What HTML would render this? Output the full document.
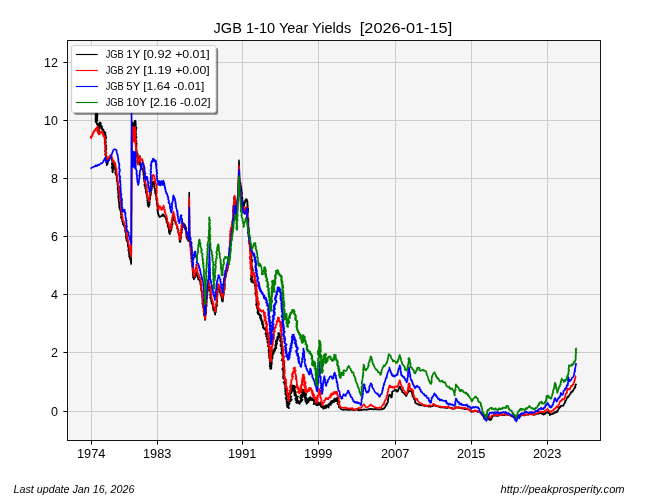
<!DOCTYPE html>
<html><head><meta charset="utf-8"><title>JGB 1-10 Year Yields</title>
<style>
html,body{margin:0;padding:0;background:#fff;}
body{width:666px;height:500px;overflow:hidden;font-family:"Liberation Sans",sans-serif;}
svg{display:block;will-change:transform;}
text{font-family:"Liberation Sans",sans-serif;fill:#000;}
.tk{font-size:12px;}
.lg{font-size:10.7px;}
.ft{font-size:10px;font-style:italic;}
.ln{fill:none;stroke-width:1.6;stroke-linejoin:round;stroke-linecap:butt;}
</style></head><body>
<svg width="666" height="500" viewBox="0 0 666 500">
<rect x="0" y="0" width="666" height="500" fill="#ffffff"/>
<rect x="67.5" y="40.5" width="533.0" height="400.0" fill="#f5f5f5"/>
<path d="M91.5 40.5V440.5M157.5 40.5V440.5M242.5 40.5V440.5M318.5 40.5V440.5M395.5 40.5V440.5M471.5 40.5V440.5M547.5 40.5V440.5M67.5 411.50H600.5M67.5 352.50H600.5M67.5 294.50H600.5M67.5 236.50H600.5M67.5 178.50H600.5M67.5 120.50H600.5M67.5 62.50H600.5" stroke="#cdcdcd" stroke-width="1" fill="none"/>
<clipPath id="c"><rect x="67.5" y="40.5" width="533.0" height="400.0"/></clipPath>
<g clip-path="url(#c)">
<path class="ln" d="M95.4,98.0 95.8,98.1 96.2,98.2 96.6,98.4 97.0,98.5 97.4,98.6 96.9,98.8 96.5,98.9 96.0,99.1 95.6,99.2 96.0,99.4 96.4,99.5 96.9,99.7 97.3,99.9 96.9,100.0 96.4,100.2 96.0,100.3 95.5,100.5 95.9,100.6 96.3,100.7 96.7,100.9 97.1,101.0 97.4,101.1 97.0,101.2 96.6,101.3 96.2,101.5 95.7,101.6 95.3,101.7 95.8,101.8 96.2,102.0 96.6,102.1 97.1,102.2 97.5,102.3 97.1,102.5 96.6,102.6 96.2,102.7 95.8,102.8 95.3,103.0 95.7,103.1 96.2,103.2 96.6,103.3 97.0,103.5 97.5,103.6 97.0,103.7 96.6,103.8 96.2,104.0 95.8,104.1 95.3,104.2 95.7,104.3 96.1,104.4 96.5,104.6 96.9,104.7 97.3,104.8 96.9,105.0 96.4,105.1 95.9,105.3 95.5,105.4 95.9,105.6 96.3,105.7 96.8,105.8 97.2,105.9 97.6,106.1 97.2,106.2 96.7,106.3 96.3,106.4 95.8,106.6 95.3,106.7 95.8,106.8 96.2,106.9 96.6,107.1 97.0,107.2 97.4,107.3 96.9,107.5 96.5,107.6 96.0,107.8 95.6,107.9 96.0,108.0 96.4,108.2 96.8,108.3 97.3,108.4 97.7,108.5 97.2,108.7 96.8,108.8 96.4,108.9 96.0,109.0 95.5,109.2 95.9,109.3 96.3,109.4 96.7,109.5 97.1,109.7 97.5,109.8 97.0,109.9 96.6,110.1 96.1,110.2 95.7,110.4 96.1,110.6 96.5,110.7 96.9,110.9 97.3,111.0 96.9,111.2 96.5,111.3 96.1,111.5 95.6,111.6 96.1,111.8 96.5,112.0 97.0,112.1 97.4,112.3 97.0,112.4 96.6,112.5 96.2,112.6 95.8,112.8 95.4,112.9 95.8,113.0 96.2,113.1 96.6,113.3 96.9,113.4 97.3,113.5 97.0,113.6 96.6,113.7 96.2,113.9 95.8,114.0 95.4,114.1 95.9,114.2 96.3,114.4 96.7,114.5 97.2,114.6 97.6,114.7 97.2,114.9 96.7,115.0 96.3,115.1 95.8,115.2 95.4,115.4 95.8,115.5 96.2,115.6 96.7,115.7 97.1,115.9 97.5,116.0 97.1,116.1 96.7,116.2 96.3,116.4 96.0,116.5 95.6,116.6 96.0,116.8 96.5,116.9 97.0,117.1 97.4,117.2 97.1,117.3 96.7,117.5 96.3,117.6 95.9,117.7 95.5,117.8 96.0,118.0 96.4,118.2 96.9,118.3 97.3,118.5 96.9,118.6 96.5,118.7 96.1,118.8 95.7,119.0 95.3,119.1 95.7,119.2 96.1,119.3 96.6,119.5 97.0,119.6 97.4,119.7 96.9,119.9 96.5,120.0 96.0,120.2 95.6,120.3 96.0,120.5 96.5,120.6 97.0,120.8 97.5,120.9 97.1,121.1 96.7,121.2 96.2,121.3 95.8,121.4 95.4,121.6 95.8,121.8 95.9,122.4 96.4,122.4 96.5,123.1 97.1,123.0 96.8,123.1 97.9,123.4 97.0,123.9 97.9,124.2 97.0,124.7 98.1,125.0 97.6,125.5 98.7,125.7 98.0,126.2 98.4,126.6 97.8,127.0 98.4,127.4 97.5,127.8 98.4,128.2 97.9,128.6 99.3,128.9 98.6,129.4 99.0,129.8 97.9,130.2 98.5,130.6 98.5,131.0 99.6,131.3 98.6,131.8 99.4,132.1 98.4,132.6 98.1,133.0 99.4,132.7 98.2,132.1 98.8,131.8 98.2,131.3 98.8,131.0 98.3,130.5 98.9,130.2 98.1,129.7 98.7,129.4 98.1,128.9 98.9,128.6 98.2,128.1 99.2,127.8 98.6,127.3 99.5,127.1 98.6,126.5 99.8,126.3 99.2,125.7 100.1,125.4 99.2,124.9 99.8,124.5 99.4,124.0 100.1,123.7 100.0,123.3 100.9,123.0 99.9,122.4 99.7,122.9 100.9,123.0 100.2,123.6 100.9,123.9 100.0,124.5 100.7,124.8 99.8,125.4 100.9,125.6 100.7,126.2 102.0,126.2 101.5,126.8 102.1,127.1 101.0,127.8 101.9,128.0 101.3,128.9 102.5,128.6 102.1,129.4 103.2,129.2 102.7,130.0 103.6,129.8 103.0,130.7 103.8,130.7 103.2,131.6 104.1,131.5 103.5,132.5 104.8,132.0 104.5,132.8 105.6,132.5 104.7,133.3 105.1,133.6 104.3,134.2 105.5,134.4 104.9,134.9 105.6,135.2 105.2,135.5 105.9,136.0 105.4,136.4 106.0,136.8 105.4,137.2 106.4,137.7 105.3,138.0 106.1,138.5 105.1,138.8 105.5,139.2 104.5,139.5 105.6,140.0 104.8,140.4 105.6,140.9 104.6,141.1 105.4,141.6 104.9,142.0 106.2,142.3 105.0,142.8 105.5,143.2 104.7,143.6 105.6,144.0 105.0,144.4 105.7,144.8 105.3,145.2 106.3,145.5 105.7,146.0 106.3,146.3 105.4,146.8 105.7,147.2 105.1,147.6 106.2,147.9 105.7,148.4 106.3,148.7 105.4,149.2 106.4,149.5 105.2,150.0 105.9,150.4 105.2,150.8 105.6,151.2 104.9,151.6 105.8,152.0 105.4,152.4 106.1,152.8 105.4,153.2 106.5,153.6 105.4,154.0 105.6,154.4 105.0,154.8 106.3,155.2 105.7,155.6 106.5,156.0 106.2,156.4 106.8,156.8 105.9,157.2 106.4,157.6 105.6,158.0 106.5,158.4 105.9,158.8 106.6,159.2 106.2,159.6 106.5,160.0 106.2,160.4 106.4,160.8 106.3,161.2 106.3,161.6 106.3,162.0 106.4,162.4 106.5,162.8 106.5,163.2 106.7,163.6 106.8,164.0 106.8,164.4 106.8,164.8 106.6,165.2 107.0,164.8 107.3,164.4 107.4,164.0 107.8,163.6 107.5,163.0 107.7,162.6 108.0,162.2 107.9,161.7 108.1,161.3 107.9,160.7 108.0,160.3 108.5,160.0 108.1,159.3 108.8,159.2 108.9,158.7 108.9,158.2 109.5,157.9 109.6,157.5 110.3,157.3 109.8,156.6 110.5,156.4 110.5,155.9 110.6,155.4 110.8,155.0 111.0,155.4 111.3,155.8 111.2,156.3 111.2,156.7 111.2,157.2 111.7,157.5 111.6,158.0 111.5,158.4 111.7,158.8 111.9,159.2 111.9,159.6 111.8,160.0 112.2,160.4 112.4,160.7 112.7,161.1 112.1,161.6 112.4,162.0 112.4,162.4 112.5,162.8 111.8,163.2 111.8,163.6 112.2,164.0 111.9,164.4 112.2,164.8 112.2,165.2 112.2,165.6 112.1,166.0 112.3,166.4 112.0,166.8 112.2,167.2 111.6,167.6 111.7,168.0 112.2,168.4 112.7,168.8 112.3,169.2 112.8,169.6 112.6,170.0 112.8,170.4 112.4,170.8 112.3,171.2 112.3,171.6 112.5,172.0 112.6,172.4 112.8,172.0 112.4,171.6 112.8,171.2 112.8,170.8 113.2,170.4 112.9,170.0 112.9,169.6 113.1,169.2 113.0,168.8 113.3,168.4 113.3,168.0 113.2,167.6 113.4,167.2 113.3,166.8 113.4,166.4 113.7,166.0 113.4,165.6 113.5,165.2 114.1,164.9 113.4,164.3 113.8,164.0 114.1,163.7 114.4,163.4 114.5,163.0 114.7,163.4 114.1,163.9 114.1,164.3 114.4,164.7 114.4,165.1 114.4,165.5 115.0,165.9 114.9,166.3 115.0,166.7 114.8,167.2 114.8,167.6 115.0,168.0 114.9,168.4 115.1,168.8 114.9,169.2 115.2,169.6 115.2,170.0 115.4,170.4 115.5,170.8 115.5,171.2 115.5,171.6 115.9,172.0 115.1,172.4 115.2,172.8 115.2,173.2 115.5,173.6 115.6,174.0 115.7,174.4 116.0,174.8 116.6,175.0 116.3,175.6 116.5,176.0 116.6,176.4 116.9,176.8 116.8,177.2 116.6,177.6 117.1,178.0 116.7,178.4 117.1,178.8 117.3,179.2 117.1,179.6 116.7,180.0 117.1,180.4 116.7,180.8 116.8,181.2 117.4,181.6 117.2,182.0 117.8,182.3 117.8,182.8 117.5,183.2 117.4,183.6 117.4,184.0 117.3,184.4 117.8,184.8 117.8,185.2 117.9,185.6 117.6,186.0 117.9,186.4 117.7,186.8 118.0,187.2 117.8,187.6 117.7,188.0 117.5,188.4 117.6,188.8 117.8,189.2 118.2,189.6 118.0,190.0 117.9,190.4 118.0,190.8 118.3,191.2 118.8,191.6 118.1,192.1 118.6,192.4 118.0,192.9 118.2,193.3 119.1,193.6 118.7,194.1 118.4,194.5 118.2,194.9 118.5,195.3 118.6,195.7 118.7,196.1 118.0,196.6 118.6,197.0 118.3,197.4 118.8,197.8 118.6,198.2 118.4,198.6 118.8,199.0 119.0,199.4 118.5,199.9 118.8,200.2 118.6,200.7 118.8,201.1 119.3,201.5 118.8,201.9 119.1,202.3 119.4,202.7 119.4,203.1 119.0,203.6 119.0,204.0 119.2,204.4 119.4,204.8 119.4,205.2 119.4,205.6 119.0,206.0 119.6,206.4 119.1,206.9 119.3,207.3 120.0,207.6 119.4,208.1 119.5,208.5 119.8,208.8 119.7,209.4 120.4,209.5 120.3,210.0 120.7,210.4 120.8,210.7 120.4,211.2 120.8,211.6 121.0,211.9 120.9,212.4 121.1,212.8 121.2,213.1 121.3,213.5 120.8,214.0 121.3,214.4 120.9,214.8 121.5,215.1 121.4,215.6 121.2,216.0 121.1,216.4 121.3,216.8 121.2,217.3 120.9,217.7 121.2,218.1 121.4,218.5 121.7,218.8 121.8,219.2 121.9,219.6 122.3,219.9 122.2,220.4 122.6,220.7 122.0,221.3 122.5,221.6 122.5,222.0 122.6,222.5 122.6,222.9 122.9,223.3 123.2,223.7 122.8,224.3 123.6,224.5 123.6,225.0 123.6,225.4 123.8,225.8 124.1,226.1 124.1,226.5 124.3,226.9 125.0,227.1 124.8,227.6 124.8,228.0 125.2,228.4 125.0,228.8 125.3,229.1 125.7,229.5 125.6,229.9 125.5,230.4 124.8,230.9 125.4,231.2 125.8,231.5 125.4,232.0 125.4,232.4 125.9,232.7 126.2,233.1 126.2,233.5 126.1,233.9 125.8,234.4 126.0,234.8 126.0,235.2 126.1,235.6 126.0,236.0 125.8,236.5 125.6,236.9 125.8,237.3 126.2,237.7 126.2,238.1 126.2,238.5 126.3,238.9 126.4,239.3 126.8,239.6 126.8,240.1 126.5,240.5 127.4,240.8 127.3,241.2 127.4,241.6 127.2,242.1 127.7,242.4 127.8,242.8 127.9,243.2 128.0,243.6 128.1,244.0 127.8,244.5 127.8,244.9 127.9,245.3 127.8,245.7 128.5,246.1 128.5,246.5 128.1,246.9 128.2,247.3 128.6,247.7 128.5,248.1 129.0,248.4 128.7,248.9 128.3,249.4 128.4,249.8 128.3,250.2 128.3,250.6 129.0,250.9 129.2,251.3 129.2,251.7 129.0,252.2 128.9,252.6 128.7,253.0 128.9,253.4 129.1,253.8 129.2,254.2 129.5,254.6 129.3,255.0 129.2,255.5 129.6,255.8 129.0,256.4 129.6,256.7 129.4,257.2 129.8,257.5 129.9,257.9 130.0,258.3 130.1,258.7 130.0,259.2 130.2,259.6 130.4,260.0 131.0,260.3 130.9,260.7 130.7,261.2 130.7,261.6 130.8,262.0 130.9,262.4 130.9,262.8 131.1,263.2 131.1,263.6 131.2,264.0 131.2,263.6 131.2,263.2 131.2,262.8 131.2,262.4 131.2,262.0 131.2,261.6 131.2,261.2 131.2,260.8 131.2,260.4 131.2,260.0 131.2,259.6 131.2,259.2 131.2,258.8 131.2,258.4 131.2,258.0 131.2,257.6 131.2,257.2 131.2,256.8 131.2,256.4 131.2,256.0 131.2,255.6 131.2,255.2 131.2,254.8 131.2,254.4 131.2,254.0 131.2,253.6 131.3,253.2 131.3,252.8 131.3,252.4 131.3,252.0 131.3,251.6 131.3,251.2 131.3,250.8 131.3,250.4 131.3,250.0 131.3,249.6 131.3,249.2 131.3,248.8 131.3,248.4 131.3,248.0 131.3,247.6 131.3,247.2 131.3,246.8 131.3,246.4 131.3,246.0 131.3,245.6 131.3,245.2 131.3,244.8 131.3,244.4 131.3,244.0 131.3,243.6 131.3,243.2 131.3,242.8 131.3,242.4 131.3,242.0 131.3,241.6 131.3,241.2 131.3,240.8 131.3,240.4 131.3,240.0 131.3,239.6 131.3,239.2 131.3,238.8 131.3,238.4 131.3,238.0 131.3,237.6 131.3,237.2 131.3,236.8 131.3,236.4 131.3,236.0 131.3,235.6 131.3,235.2 131.3,234.8 131.3,234.4 131.3,234.0 131.3,233.6 131.3,233.2 131.3,232.8 131.3,232.4 131.3,232.0 131.4,231.6 131.4,231.2 131.4,230.8 131.4,230.4 131.4,230.0 131.4,229.6 131.4,229.2 131.4,228.8 131.4,228.4 131.4,228.0 131.4,227.6 131.4,227.2 131.4,226.8 131.4,226.4 131.4,226.0 131.4,225.6 131.4,225.2 131.4,224.8 131.4,224.4 131.4,224.0 131.4,223.6 131.4,223.2 131.4,222.8 131.4,222.4 131.4,222.0 131.4,221.6 131.4,221.2 131.4,220.8 131.4,220.4 131.4,220.0 131.4,219.6 131.4,219.2 131.4,218.8 131.4,218.4 131.4,218.0 131.4,217.6 131.4,217.2 131.4,216.8 131.4,216.4 131.4,216.0 131.4,215.6 131.4,215.2 131.4,214.8 131.4,214.4 131.4,214.0 131.4,213.6 131.4,213.2 131.4,212.8 131.4,212.4 131.4,212.0 131.4,211.6 131.4,211.2 131.4,210.8 131.5,210.4 131.5,210.0 131.5,209.6 131.5,209.2 131.5,208.8 131.5,208.4 131.5,208.0 131.5,207.6 131.5,207.2 131.5,206.8 131.5,206.4 131.5,206.0 131.5,205.6 131.5,205.2 131.5,204.8 131.5,204.4 131.5,204.0 131.5,203.6 131.5,203.2 131.5,202.8 131.5,202.4 131.5,202.0 131.5,201.6 131.5,201.2 131.5,200.8 131.5,200.4 131.5,200.0 131.5,199.6 131.5,199.2 131.5,198.8 131.5,198.4 131.5,198.0 131.5,197.6 131.5,197.2 131.5,196.8 131.5,196.4 131.5,196.0 131.5,195.6 131.5,195.2 131.5,194.8 131.5,194.4 131.5,194.0 131.5,193.6 131.5,193.2 131.5,192.8 131.5,192.4 131.5,192.0 131.5,191.6 131.5,191.2 131.5,190.8 131.5,190.4 131.5,190.0 131.5,189.6 131.5,189.2 131.5,188.8 131.5,188.4 131.6,188.0 131.6,187.6 131.6,187.2 131.6,186.8 131.6,186.4 131.6,186.0 131.6,185.6 131.6,185.2 131.6,184.8 131.6,184.4 131.6,184.0 131.6,183.6 131.6,183.2 131.6,182.8 131.6,182.4 131.6,182.0 131.6,181.6 131.6,181.2 131.6,180.8 131.6,180.4 131.6,180.0 131.6,179.6 131.6,179.2 131.6,178.8 131.6,178.4 131.6,178.0 131.6,177.6 131.6,177.2 131.6,176.8 131.6,176.4 131.6,176.0 131.6,175.6 131.6,175.2 131.6,174.8 131.6,174.4 131.6,174.0 131.6,173.6 131.6,173.2 131.6,172.8 131.6,172.4 131.6,172.0 131.6,171.6 131.6,171.2 131.6,170.8 131.6,170.4 131.6,170.0 131.6,169.6 131.6,169.2 131.6,168.8 131.6,168.4 131.6,168.0 131.6,167.6 131.6,167.2 131.6,166.8 131.6,166.4 131.6,166.0 131.6,165.6 131.6,165.2 131.7,164.8 131.7,164.4 131.7,164.0 131.7,163.6 131.7,163.2 131.7,162.8 131.7,162.4 131.7,162.0 131.7,161.6 131.7,161.2 131.7,160.8 131.7,160.4 131.7,160.0 131.7,159.6 131.7,159.2 131.7,158.8 131.7,158.4 131.7,158.0 131.7,157.6 131.7,157.2 131.7,156.8 131.7,156.4 131.7,156.0 131.7,155.6 131.7,155.2 131.7,154.8 131.7,154.4 131.7,154.0 131.7,153.6 131.7,153.2 131.7,152.8 131.7,152.4 131.7,152.0 131.7,151.6 131.7,151.2 131.7,150.8 131.7,150.4 131.7,150.0 131.7,149.6 131.7,149.2 131.7,148.8 131.7,148.4 131.7,148.0 131.7,147.6 131.7,147.2 131.7,146.8 131.7,146.4 131.7,146.0 131.7,145.6 131.7,145.2 131.7,144.8 131.7,144.4 131.7,144.0 131.7,143.6 131.7,143.2 131.7,142.8 131.7,142.4 131.7,142.0 131.8,141.6 131.8,141.2 131.8,140.8 131.8,140.4 131.8,140.0 131.8,139.6 131.8,139.2 131.8,138.8 131.8,138.4 131.8,138.0 131.8,137.6 131.8,137.2 131.8,136.8 131.8,136.4 131.8,136.0 131.8,135.6 131.8,135.2 131.8,134.8 131.8,134.4 131.8,134.0 131.8,133.6 131.8,133.2 131.8,132.8 131.8,132.4 131.8,132.0 131.8,131.6 131.8,131.2 131.8,130.8 131.8,130.4 131.8,130.0 131.8,129.6 131.8,129.2 131.9,128.8 131.8,128.4 132.0,128.0 131.9,127.6 132.1,127.2 132.0,126.8 132.1,126.4 132.2,126.0 131.9,125.6 132.0,125.2 132.2,124.8 132.2,124.4 132.1,124.0 132.3,123.6 132.3,123.2 132.9,122.8 132.4,122.4 132.2,122.9 132.3,123.3 133.2,123.6 132.8,124.1 133.2,124.5 133.0,125.0 132.8,125.5 132.8,125.9 133.2,126.2 133.0,126.7 133.4,127.0 133.5,127.4 133.6,127.8 133.8,127.4 133.2,126.8 133.9,126.5 133.6,126.0 133.5,125.6 133.9,125.2 133.6,124.7 134.3,124.4 134.0,123.9 134.4,123.5 134.3,123.0 134.8,122.7 134.6,122.2 134.5,121.8 135.0,121.5 134.6,120.9 135.1,120.6 135.2,121.0 135.8,121.4 135.6,121.8 135.3,122.3 135.7,122.7 135.7,123.1 135.9,123.5 135.6,124.0 135.9,124.4 135.9,124.8 135.8,125.2 135.4,125.6 135.6,126.0 135.7,126.4 135.6,126.8 136.5,127.2 136.4,127.6 136.1,128.0 136.5,128.4 136.3,128.8 135.7,129.2 136.0,129.6 135.9,130.0 136.1,130.4 135.7,130.8 135.6,131.2 136.0,131.6 135.9,132.0 135.8,132.4 135.9,132.8 136.1,133.2 135.5,133.6 136.0,134.0 136.1,134.4 136.2,134.8 135.8,135.2 135.6,135.6 135.6,136.0 136.0,136.4 136.3,136.8 136.7,137.2 136.0,137.6 135.9,138.0 136.0,138.4 135.7,138.8 135.8,139.2 135.6,139.6 135.9,140.0 136.3,140.4 135.8,140.8 136.5,141.2 136.0,141.6 136.1,142.0 136.2,142.4 136.5,142.8 136.7,143.2 136.1,143.6 136.7,144.0 136.3,144.5 136.0,144.9 136.6,145.3 136.5,145.7 136.1,146.1 136.3,146.5 136.4,146.9 136.3,147.3 136.6,147.7 136.3,148.2 136.4,148.6 136.6,149.0 136.0,149.4 136.4,149.8 136.3,150.3 136.3,150.7 136.9,151.0 136.4,151.6 136.6,152.0 137.0,152.3 136.9,152.8 137.3,153.1 137.5,153.5 137.3,154.0 137.8,154.3 137.8,154.7 138.0,155.1 137.7,155.6 137.4,156.2 137.6,156.6 137.7,157.0 138.0,157.3 138.7,157.5 138.6,158.0 138.6,158.4 138.7,158.8 138.5,159.3 138.9,159.6 139.3,160.0 139.1,160.4 139.0,160.9 139.6,161.1 139.2,161.7 140.0,161.9 140.0,162.3 140.2,162.7 139.8,163.2 139.6,163.7 139.8,164.1 140.2,164.4 140.3,164.8 140.2,165.4 140.9,165.5 141.1,165.8 140.6,166.6 141.0,166.9 141.6,167.0 141.3,167.5 141.6,167.9 141.6,168.3 142.1,168.5 142.0,169.0 142.2,169.4 142.4,169.7 143.0,169.9 142.9,170.4 143.0,170.8 143.0,171.2 143.2,171.6 143.3,172.0 143.2,172.4 143.8,172.7 143.3,173.2 143.9,173.5 143.9,173.9 143.9,174.4 143.2,174.9 143.7,175.2 144.0,175.6 143.8,176.0 144.3,176.4 144.4,176.8 143.9,177.2 143.7,177.7 143.6,178.1 143.6,178.5 144.3,178.8 144.0,179.3 144.4,179.7 144.1,180.1 144.1,180.5 144.1,181.0 144.8,181.3 144.3,181.8 144.4,182.2 144.4,182.6 145.2,182.9 145.2,183.3 145.2,183.7 145.2,184.1 144.4,184.7 145.0,185.0 144.4,185.5 144.8,185.9 144.8,186.3 145.0,186.7 145.4,187.0 145.6,187.4 145.7,187.8 145.1,188.3 145.6,188.7 145.6,189.1 145.8,189.5 146.4,189.8 146.2,190.3 146.1,190.7 145.7,191.2 146.1,191.5 146.2,191.9 145.9,192.4 146.4,192.8 146.1,193.2 146.3,193.6 146.5,194.0 147.0,194.3 146.9,194.8 146.9,195.2 146.7,195.6 147.2,195.9 146.9,196.4 147.1,196.8 147.5,197.1 147.1,197.6 147.8,197.9 147.3,198.4 147.8,198.7 147.8,199.1 147.6,199.6 147.2,200.0 147.2,200.4 148.1,200.7 147.8,201.2 147.8,201.6 147.5,202.0 147.9,202.4 147.6,202.8 147.9,203.2 147.6,203.6 148.0,204.0 148.0,204.5 147.5,205.0 148.2,205.3 148.4,205.7 148.2,206.3 148.4,206.6 148.8,207.0 148.4,206.5 148.8,206.2 148.6,205.7 149.4,205.4 149.4,205.0 149.7,204.6 149.5,204.2 149.1,203.7 149.1,203.3 149.4,202.9 150.0,202.6 149.2,202.0 149.6,201.7 149.0,201.1 149.3,200.8 149.5,200.4 149.8,200.0 150.1,199.6 149.9,199.2 149.9,198.8 150.4,198.5 149.9,198.0 150.1,197.6 150.1,197.2 150.2,196.8 150.3,196.4 150.5,196.0 150.6,195.6 150.7,195.2 150.5,194.8 151.0,194.5 150.9,194.0 151.0,193.6 150.6,193.2 150.8,192.8 151.1,192.4 151.0,192.0 151.0,191.6 150.7,191.1 151.1,190.8 151.5,190.4 151.2,190.0 151.4,189.6 151.5,189.2 151.9,188.9 152.0,188.5 151.5,187.9 151.6,187.5 151.8,187.2 152.1,186.8 152.4,186.4 152.2,186.0 152.1,185.5 152.2,185.1 152.0,184.7 152.8,184.4 152.7,184.0 152.3,183.4 153.0,183.2 152.4,182.6 152.8,182.2 153.4,182.0 153.3,181.5 153.0,182.0 153.1,182.4 153.6,182.7 154.1,183.1 153.7,183.6 154.2,183.9 154.0,184.4 154.2,184.8 154.2,185.2 154.7,185.6 154.6,186.0 154.1,186.6 154.0,187.0 154.2,187.4 154.3,187.8 154.6,188.2 155.2,188.5 155.0,189.0 155.0,189.4 155.0,189.8 154.8,190.3 154.9,190.7 155.4,191.0 155.3,191.4 155.2,191.8 155.4,192.2 155.4,192.6 155.0,193.1 155.2,193.5 155.6,193.8 155.8,194.2 155.7,194.6 155.8,195.0 155.8,195.4 155.9,195.8 156.1,196.2 156.0,196.6 156.3,197.0 156.6,197.4 156.4,197.8 156.1,198.3 156.0,198.7 156.1,199.1 156.4,199.4 156.4,199.9 156.5,200.3 156.5,200.7 156.8,201.0 156.8,201.5 156.8,201.9 157.3,202.2 156.8,202.7 156.7,203.1 157.1,203.5 157.2,203.9 156.9,204.3 157.7,204.6 157.4,205.1 157.8,205.5 157.3,205.9 157.1,206.3 157.3,206.7 157.7,207.1 157.5,207.5 157.7,207.9 157.5,208.3 157.6,208.7 157.5,209.2 157.3,209.6 157.5,210.0 157.7,210.4 157.3,210.8 158.0,211.2 157.7,211.6 157.8,212.0 158.0,212.4 157.7,212.8 158.3,213.1 157.8,213.7 158.4,214.0 158.6,214.3 158.5,214.8 158.5,215.2 159.0,215.5 158.6,216.0 159.0,216.2 159.4,216.6 159.8,217.3 160.3,216.7 160.8,216.2 161.2,216.1 161.4,215.7 162.1,216.0 162.5,215.9 162.5,215.0 162.5,214.3 163.5,215.1 163.5,214.4 163.4,214.9 163.8,215.1 164.2,215.4 163.9,216.1 164.1,216.4 164.6,216.6 165.0,216.8 165.3,217.1 165.8,217.2 165.4,218.0 166.1,218.0 166.0,218.6 166.2,218.9 166.0,219.4 166.2,219.8 166.5,220.1 166.7,220.5 166.5,220.9 166.9,221.3 166.4,221.8 166.9,222.1 166.6,222.6 167.2,222.9 167.4,223.3 167.8,223.6 167.8,224.0 168.0,224.4 168.1,224.8 167.5,225.4 167.7,225.8 168.0,226.1 168.0,226.5 168.1,226.9 168.1,227.4 168.3,227.7 168.5,228.1 168.8,228.5 169.1,228.8 168.7,229.3 168.8,229.7 169.4,230.0 168.8,230.6 168.7,231.0 168.9,231.4 169.4,231.7 168.9,232.3 169.1,232.7 169.8,232.9 170.1,233.3 169.5,233.8 169.8,234.2 170.0,233.8 169.6,233.2 169.5,232.7 169.6,232.3 169.8,231.9 170.5,231.7 170.5,231.2 170.5,230.8 171.2,230.5 171.0,230.0 171.4,229.7 171.0,229.2 171.6,228.9 171.4,228.4 171.6,228.0 171.7,227.6 172.0,227.3 171.9,226.9 172.0,226.5 171.5,226.0 172.0,225.6 172.0,225.2 172.3,224.9 172.2,224.4 172.7,224.1 172.5,223.6 172.3,223.2 172.1,222.8 171.8,222.3 172.5,222.0 172.1,221.5 171.9,221.1 172.5,220.8 172.5,220.3 172.9,220.0 172.9,219.6 173.0,219.2 173.5,218.9 173.0,218.4 173.7,218.1 173.4,217.6 173.4,217.2 173.6,216.8 173.8,216.4 173.6,216.0 173.9,216.4 174.0,216.8 173.5,217.4 174.2,217.6 173.9,218.2 174.1,218.6 174.6,218.9 174.2,219.4 174.3,219.9 174.1,220.3 174.7,220.6 175.0,221.0 174.9,221.5 175.3,221.8 175.4,222.2 175.2,222.7 175.9,222.9 175.5,223.5 175.7,223.8 176.1,224.1 175.9,224.6 176.6,224.8 176.8,225.2 177.0,225.6 177.0,226.0 177.0,226.4 177.5,226.7 177.4,227.2 177.2,227.6 177.0,228.1 177.1,228.5 177.8,228.8 177.7,229.2 178.1,229.5 178.2,229.9 178.4,230.3 178.2,230.8 177.9,231.3 178.3,231.6 178.3,232.0 178.7,232.3 178.8,232.8 178.9,233.1 178.8,233.6 178.8,234.0 178.9,234.4 178.7,234.8 179.5,235.1 179.2,235.6 179.3,236.0 179.6,236.3 180.0,236.7 179.8,237.1 179.9,237.5 179.8,238.0 179.4,238.4 179.9,238.8 179.8,239.2 179.7,239.6 179.5,240.1 179.7,240.4 179.6,240.9 179.6,241.3 179.7,241.7 180.2,242.0 180.5,241.6 180.5,241.2 180.1,240.7 180.5,240.4 180.4,239.9 180.7,239.6 180.3,239.1 180.5,238.7 180.5,238.3 181.1,238.0 181.1,237.5 180.8,237.1 180.5,236.7 180.8,236.3 181.0,235.9 181.0,235.5 180.9,235.0 181.0,234.6 181.1,234.2 181.2,233.8 181.5,233.4 181.2,233.0 181.8,232.7 182.0,232.3 181.4,231.8 181.8,231.5 181.4,231.0 181.4,230.6 181.9,230.2 181.9,229.8 182.3,229.5 181.9,229.0 181.5,228.6 181.7,228.2 182.0,227.8 182.3,227.5 182.4,227.1 182.1,226.6 182.1,226.2 182.1,225.8 182.7,225.5 182.2,225.0 182.8,225.2 183.0,224.7 183.1,223.8 183.4,223.3 184.2,224.0 184.2,224.4 184.8,224.7 184.3,225.3 185.1,225.4 184.7,226.0 185.4,226.2 185.7,226.5 185.3,227.1 185.8,227.3 185.6,227.8 186.1,228.1 186.5,228.4 186.0,229.0 186.1,229.4 186.0,229.8 185.8,230.2 185.9,230.6 186.4,231.0 186.0,231.4 186.1,231.8 186.3,232.2 185.9,232.7 186.4,233.0 186.0,233.5 186.2,233.9 186.9,234.2 187.0,234.6 186.6,235.1 186.3,235.5 186.8,235.9 186.6,236.3 186.3,236.7 186.8,237.1 186.5,237.5 187.0,237.9 187.5,238.2 186.9,238.7 187.8,238.5 187.7,239.1 187.9,239.5 187.8,240.0 188.5,240.0 188.1,240.9 188.6,241.0 188.7,240.5 188.9,240.0 188.9,239.6 188.9,239.2 188.9,238.8 188.9,238.4 188.9,238.0 188.9,237.6 188.9,237.2 188.9,236.8 188.9,236.4 188.9,236.0 188.9,235.6 188.9,235.2 188.9,234.8 188.9,234.4 188.9,234.0 188.9,233.6 188.9,233.2 188.9,232.8 188.9,232.4 189.0,231.9 189.0,231.5 189.0,231.1 189.0,230.7 189.0,230.3 189.0,229.9 189.0,229.5 189.0,229.1 189.0,228.7 189.0,228.3 189.0,227.9 189.0,227.5 189.0,227.1 189.0,226.7 189.0,226.3 189.0,225.9 189.0,225.5 189.0,225.1 189.0,224.7 189.0,224.3 189.0,223.9 189.0,223.5 189.0,223.1 189.0,222.7 189.0,222.3 189.0,221.9 189.0,221.5 189.0,221.1 189.0,220.7 189.0,220.3 189.0,219.9 189.0,219.5 189.0,219.1 189.0,218.7 189.0,218.3 189.0,217.9 189.0,217.5 189.0,217.1 189.0,216.7 189.1,216.2 189.1,215.8 189.1,215.4 189.1,215.0 189.1,214.6 189.1,214.2 189.1,213.8 189.1,213.4 189.1,213.0 189.1,212.6 189.1,212.2 189.1,211.8 189.1,211.4 189.1,211.0 189.1,210.6 189.1,210.2 189.1,209.8 189.1,209.4 189.1,209.0 189.1,208.6 189.1,208.2 189.1,207.8 189.1,207.4 189.1,207.0 189.1,206.6 189.1,206.2 189.1,205.8 189.1,205.4 189.1,205.0 189.1,204.6 189.1,204.2 189.1,203.8 189.1,203.4 189.1,203.0 189.1,202.6 189.1,202.2 189.1,201.8 189.1,201.4 189.1,201.0 189.1,200.6 189.2,200.1 189.2,199.7 189.2,199.3 189.2,198.9 189.2,198.5 189.2,198.1 189.2,197.7 189.2,197.3 189.2,196.9 189.2,196.5 189.2,196.1 189.2,195.7 189.2,195.3 189.2,194.9 189.2,194.5 189.2,194.1 189.2,193.7 189.2,193.3 189.2,192.9 189.2,192.5 189.2,192.9 189.2,193.3 189.2,193.7 189.2,194.1 189.2,194.5 189.2,194.9 189.2,195.3 189.2,195.7 189.2,196.1 189.2,196.5 189.2,196.9 189.2,197.3 189.2,197.7 189.2,198.1 189.2,198.5 189.2,198.9 189.2,199.3 189.2,199.7 189.2,200.1 189.3,200.6 189.3,201.0 189.3,201.4 189.3,201.8 189.3,202.2 189.3,202.6 189.3,203.0 189.3,203.4 189.3,203.8 189.3,204.2 189.3,204.6 189.3,205.0 189.3,205.4 189.3,205.8 189.3,206.2 189.3,206.6 189.3,207.0 189.3,207.4 189.3,207.8 189.3,208.2 189.3,208.6 189.3,209.0 189.3,209.4 189.3,209.8 189.3,210.2 189.3,210.6 189.3,211.0 189.3,211.4 189.3,211.8 189.3,212.2 189.3,212.6 189.3,213.0 189.3,213.4 189.3,213.8 189.3,214.2 189.3,214.6 189.3,215.0 189.3,215.4 189.3,215.8 189.3,216.2 189.4,216.7 189.4,217.1 189.4,217.5 189.4,217.9 189.4,218.3 189.4,218.7 189.4,219.1 189.4,219.5 189.4,219.9 189.4,220.3 189.4,220.7 189.4,221.1 189.4,221.5 189.4,221.9 189.4,222.3 189.4,222.7 189.4,223.1 189.4,223.5 189.4,223.9 189.4,224.3 189.4,224.7 189.4,225.1 189.4,225.5 189.4,225.9 189.4,226.3 189.4,226.7 189.4,227.1 189.4,227.5 189.4,227.9 189.4,228.3 189.4,228.7 189.4,229.1 189.4,229.5 189.4,229.9 189.4,230.3 189.4,230.7 189.4,231.1 189.4,231.5 189.4,231.9 189.5,232.4 189.5,232.8 189.5,233.2 189.5,233.6 189.5,234.0 189.5,234.4 189.5,234.8 189.5,235.2 189.5,235.6 189.5,236.0 189.5,236.4 189.5,236.8 189.5,237.2 189.5,237.6 189.5,238.0 189.5,238.4 189.5,238.8 189.5,239.2 189.5,239.6 189.5,240.0 189.6,240.4 189.7,240.8 189.8,241.2 189.8,241.6 189.8,242.0 189.8,242.5 189.9,242.9 190.1,243.3 190.2,243.7 190.0,244.1 190.1,244.5 190.1,244.9 190.5,245.3 190.2,245.7 190.5,246.1 190.4,246.6 190.5,247.0 190.9,247.3 191.3,247.7 190.8,248.2 191.1,248.5 190.8,249.0 190.7,249.4 191.1,249.8 191.2,250.2 190.5,250.7 190.8,251.1 190.9,251.5 190.9,251.9 190.9,252.3 191.5,252.6 191.1,253.1 191.2,253.5 191.1,253.9 191.3,254.3 191.0,254.7 191.2,255.1 191.3,255.5 191.6,255.9 191.3,256.3 191.7,256.7 191.5,257.2 192.0,257.5 191.3,258.0 191.1,258.4 191.7,258.8 191.9,259.2 191.9,259.6 191.8,260.0 191.6,260.4 192.0,260.8 191.2,261.3 191.9,261.6 191.9,262.0 192.1,262.4 192.2,262.8 192.0,263.2 192.7,263.6 192.6,264.0 192.1,264.4 192.5,264.8 192.6,265.2 192.3,265.6 192.5,266.0 192.7,266.4 192.6,266.8 193.0,267.2 192.4,267.6 192.5,268.0 193.1,268.4 192.9,268.8 192.5,269.2 192.5,269.6 192.8,270.0 193.0,270.4 192.7,270.8 192.9,271.2 192.7,271.6 192.8,272.0 192.7,272.4 193.2,272.8 192.8,273.3 192.8,273.7 193.3,274.0 192.8,274.5 192.6,275.0 192.9,275.3 193.1,275.7 193.1,276.1 193.4,276.5 193.4,276.9 192.9,277.4 193.3,277.8 193.9,278.1 194.0,278.5 194.0,279.0 193.8,279.4 193.9,278.9 194.4,278.7 194.4,278.2 194.7,277.8 195.0,277.5 195.0,277.0 195.6,276.8 195.0,276.2 195.3,275.8 195.7,275.5 195.8,275.1 195.3,274.6 195.5,274.2 195.7,273.9 195.7,273.4 196.0,273.1 195.8,272.6 196.2,272.3 196.5,272.0 196.6,272.4 197.0,272.7 197.0,273.2 196.5,273.7 196.8,274.0 196.7,274.5 196.9,274.9 197.0,275.3 197.2,275.7 197.3,276.0 198.0,276.3 197.6,276.8 198.0,277.1 197.8,277.6 198.0,278.0 198.3,278.3 198.2,278.9 198.1,279.5 198.7,279.6 199.3,279.6 199.5,280.0 199.6,280.4 199.9,280.7 199.8,281.2 200.4,281.5 200.4,281.9 200.2,282.4 200.6,282.7 200.2,283.2 200.1,283.7 200.6,284.0 200.8,284.3 200.6,284.8 200.6,285.3 201.0,285.6 201.0,286.0 201.3,286.4 201.5,286.8 201.4,287.2 201.1,287.6 200.9,288.1 201.0,288.5 201.3,288.8 201.0,289.3 201.0,289.7 201.5,290.0 201.5,290.5 201.4,290.9 201.8,291.2 201.6,291.7 201.9,292.0 201.8,292.5 201.8,292.9 201.9,293.3 202.0,293.7 202.0,294.1 202.1,294.5 202.0,294.9 202.2,295.3 202.1,295.7 202.6,296.1 202.4,296.5 202.0,296.9 202.5,297.3 202.2,297.7 202.3,298.1 202.7,298.5 202.3,299.0 202.9,299.3 202.6,299.8 203.0,300.1 203.0,300.5 202.3,301.0 202.7,301.4 203.1,301.7 202.8,302.2 202.6,302.6 202.8,303.0 202.3,303.5 203.0,303.8 203.0,304.2 202.5,304.7 202.7,305.1 203.3,305.4 203.4,305.8 203.3,306.3 203.0,306.7 203.1,307.1 203.1,307.5 203.4,307.9 203.8,308.3 203.7,308.7 203.7,309.1 203.8,309.5 204.1,309.9 203.8,310.4 203.7,310.8 203.5,311.2 204.1,311.6 204.0,312.0 203.8,312.4 204.6,312.7 204.0,313.2 204.1,313.6 204.2,314.0 203.7,314.5 203.9,314.9 204.2,315.2 204.1,315.6 204.2,316.0 204.6,316.4 205.1,316.7 205.1,317.1 205.1,317.6 204.9,318.0 205.3,318.3 205.3,318.7 205.2,319.2 205.4,319.5 205.0,320.0 204.8,319.6 205.3,319.2 205.4,318.8 205.1,318.4 205.1,318.0 205.1,317.6 205.4,317.2 205.1,316.8 205.3,316.4 205.3,316.0 204.9,315.6 205.7,315.2 205.3,314.8 205.8,314.4 205.9,314.0 206.1,313.6 205.6,313.2 205.8,312.8 206.3,312.5 205.6,312.0 205.6,311.6 205.9,311.2 205.8,310.8 206.2,310.4 206.1,310.0 205.9,309.6 206.3,309.2 205.8,308.8 205.7,308.4 206.0,308.0 206.0,307.6 205.9,307.2 205.9,306.8 206.2,306.4 206.2,306.0 206.8,305.7 206.7,305.2 206.5,304.8 206.2,304.4 206.4,304.0 206.4,303.6 206.5,303.2 206.5,302.8 206.8,302.4 206.8,302.0 206.3,301.6 206.1,301.2 206.4,300.8 206.8,300.4 206.3,300.0 206.6,299.6 206.9,299.2 206.5,298.8 206.8,298.4 207.3,298.0 207.1,297.6 206.7,297.2 206.5,296.7 207.2,296.4 207.1,296.0 207.2,295.6 207.5,295.2 207.5,294.8 207.3,294.4 207.1,294.0 207.3,293.6 207.5,293.2 207.5,292.8 207.3,292.4 207.5,292.0 207.3,291.5 207.7,291.2 207.9,290.8 207.8,290.4 208.4,290.1 208.2,289.6 207.7,289.2 207.9,288.8 208.2,288.4 207.8,287.9 208.1,287.6 207.6,287.1 208.0,286.7 208.5,286.4 208.3,286.0 208.3,285.6 208.0,285.1 208.5,284.8 208.7,284.4 208.8,284.0 208.9,284.4 208.7,284.9 208.9,285.2 208.7,285.7 209.0,286.0 209.2,286.4 209.5,286.8 209.5,287.2 209.2,287.7 210.0,287.9 210.2,288.3 210.2,288.7 209.8,289.2 209.5,289.7 210.0,290.0 209.9,290.4 209.9,290.8 210.7,291.2 210.8,291.6 210.3,292.0 210.7,292.4 210.4,292.9 210.6,293.2 210.7,293.6 210.6,294.1 210.7,294.5 210.0,295.0 210.3,295.3 210.5,295.7 210.6,296.1 210.7,296.5 210.8,296.9 210.0,297.4 210.4,297.8 210.4,298.2 211.0,298.6 210.9,299.0 211.3,299.4 211.0,299.8 211.8,300.0 211.2,300.6 211.1,301.1 211.4,301.4 211.3,301.9 211.7,302.2 212.2,302.5 211.9,303.0 211.6,303.5 212.2,303.8 212.1,304.3 212.7,304.5 212.5,305.0 212.8,305.4 212.6,305.8 213.0,306.1 213.1,306.5 212.9,307.0 213.2,307.4 212.8,307.9 213.2,308.2 213.3,308.6 213.2,309.1 213.5,309.4 213.1,310.0 213.8,310.2 213.8,310.6 214.0,311.0 214.5,311.3 214.5,311.8 214.6,312.2 214.6,312.7 214.9,313.0 215.1,313.4 214.8,314.0 215.2,314.3 215.2,314.8 215.1,314.4 215.0,313.9 215.1,313.5 215.2,313.1 215.3,312.7 215.9,312.4 215.8,312.0 215.7,311.5 216.0,311.2 215.4,310.7 215.7,310.3 216.3,310.0 215.7,309.5 215.9,309.1 216.1,308.7 216.2,308.3 215.7,307.8 215.9,307.4 216.3,307.1 216.2,306.6 216.9,306.3 216.6,305.8 217.2,305.5 216.5,305.0 216.9,304.6 216.6,304.2 216.8,303.8 216.5,303.4 216.9,303.0 216.6,302.6 217.2,302.2 217.1,301.8 216.9,301.4 216.9,301.0 217.1,300.6 216.7,300.2 217.1,299.8 216.6,299.4 216.9,299.0 217.0,298.6 216.9,298.2 217.3,297.8 216.8,297.4 216.9,297.0 216.8,296.6 216.7,296.2 216.9,295.8 216.8,295.4 217.0,295.0 217.6,294.6 217.2,294.2 217.5,293.8 217.2,293.4 217.5,293.0 217.7,292.6 217.6,292.2 217.8,291.8 217.5,291.4 217.3,290.9 217.6,290.6 217.7,290.2 217.8,289.8 218.2,289.4 217.9,289.0 218.1,288.6 218.6,288.3 218.6,287.8 218.6,287.4 218.4,287.0 218.3,287.5 218.9,287.8 219.0,288.3 219.5,288.6 219.1,289.2 219.1,289.6 219.5,290.0 219.8,290.4 220.0,290.7 219.8,291.2 219.7,291.7 220.1,292.0 219.8,292.5 220.4,292.8 220.3,293.2 220.8,293.5 221.0,293.9 220.5,294.4 220.7,294.8 220.7,295.2 221.3,295.5 221.0,296.0 221.4,296.3 221.4,296.8 221.4,297.2 221.4,297.6 221.4,298.0 221.8,298.4 221.7,298.8 221.7,299.3 222.2,299.5 221.7,300.1 221.9,300.5 221.9,300.9 222.4,301.2 222.6,301.6 222.8,301.2 223.1,300.8 222.8,300.4 222.4,299.9 223.0,299.6 223.0,299.2 222.6,298.8 222.5,298.3 223.2,298.0 223.2,297.6 222.9,297.2 223.2,296.8 223.1,296.4 223.6,296.0 223.1,295.6 223.7,295.2 223.6,294.8 223.1,294.3 223.6,294.0 223.4,293.6 223.9,293.2 224.1,292.9 223.6,292.4 223.8,292.0 223.2,291.5 223.9,291.2 223.5,290.8 224.2,290.4 224.3,290.0 224.5,289.6 224.8,289.3 224.7,288.9 224.5,288.4 224.2,288.0 224.7,287.6 224.5,287.2 224.5,286.8 224.9,286.5 224.4,286.0 224.9,285.6 224.2,285.2 224.7,284.8 224.9,284.4 224.5,284.0 224.7,283.6 224.9,283.2 224.5,282.8 224.5,282.4 224.3,282.0 224.3,281.5 224.7,281.2 224.9,280.8 224.8,280.4 225.0,280.0 225.0,279.6 225.0,279.2 225.4,278.8 225.4,278.4 225.0,277.9 225.2,277.6 225.6,277.2 225.7,276.8 226.1,276.5 225.6,276.0 225.5,275.5 226.0,275.2 225.5,274.7 226.0,274.4 226.0,274.0 226.5,273.7 226.4,273.2 226.6,272.9 226.2,272.4 226.5,272.0 226.7,271.6 226.7,271.2 226.9,270.8 227.4,270.5 227.7,270.2 227.3,269.6 227.5,269.2 227.6,268.8 227.6,268.3 228.0,268.0 227.7,267.6 228.0,267.2 227.8,266.7 228.2,266.4 228.1,265.9 227.9,265.5 228.2,265.1 228.2,264.7 228.0,264.3 228.0,263.9 228.2,263.5 228.3,263.1 229.1,262.8 229.0,262.3 228.6,261.9 229.2,261.5 229.3,261.2 228.8,260.7 228.2,260.2 228.7,259.9 228.9,259.5 228.7,259.0 228.9,258.6 228.4,258.2 229.2,257.9 229.2,257.4 229.3,257.0 229.7,256.7 229.5,256.2 229.0,255.8 228.8,255.3 229.5,255.0 228.9,254.5 228.9,254.1 229.6,253.8 229.7,253.4 229.3,253.0 229.3,252.6 229.6,252.2 229.8,251.8 229.8,251.4 229.4,251.0 230.2,250.6 230.4,250.2 230.3,249.8 230.0,249.4 229.8,249.0 230.3,248.6 229.9,248.2 229.9,247.8 230.0,247.4 230.0,247.0 230.4,246.6 229.9,246.2 229.6,245.7 230.0,245.4 230.1,245.0 230.3,244.6 230.4,244.2 230.9,243.8 231.2,243.5 230.5,243.0 230.5,242.6 230.5,242.2 230.3,241.7 230.5,241.4 230.9,241.0 230.6,240.5 231.1,240.2 230.7,239.7 231.0,239.3 231.3,238.9 230.5,238.5 230.5,238.0 230.8,237.7 230.6,237.2 231.1,236.9 230.6,236.4 231.4,236.0 231.6,235.6 231.6,235.2 231.3,234.8 231.2,234.4 231.3,234.0 231.0,233.5 231.1,233.1 231.2,232.7 231.4,232.3 231.5,231.9 231.3,231.5 231.5,231.1 231.6,230.7 231.1,230.2 231.2,229.8 231.3,229.4 231.6,229.1 231.7,228.6 231.8,228.2 231.8,227.8 232.1,227.5 232.1,227.0 232.4,226.7 232.4,226.3 232.6,225.9 232.8,225.5 232.4,225.0 232.7,224.6 232.5,224.2 232.9,223.8 232.4,223.4 232.6,223.0 232.4,222.6 232.2,222.1 232.4,221.8 232.8,221.4 232.6,221.0 233.0,220.6 232.7,220.2 232.7,219.8 233.2,219.4 232.7,219.0 233.1,218.6 233.5,218.2 233.4,217.8 233.1,217.4 233.3,217.0 233.6,216.6 233.2,216.2 233.2,215.8 233.1,215.4 233.3,215.0 233.5,214.6 233.4,214.2 233.2,213.8 233.3,213.4 233.7,213.0 233.4,212.6 232.9,212.2 233.5,211.8 233.0,211.4 233.0,211.0 233.4,210.6 233.3,210.2 233.6,209.8 233.8,209.4 233.6,209.0 234.0,208.6 233.5,208.2 233.7,207.8 233.7,207.4 233.3,207.0 233.5,206.6 233.3,206.2 233.6,205.8 234.0,205.4 233.8,205.0 234.0,204.6 234.2,204.2 234.3,203.8 233.9,203.4 234.5,203.1 234.2,202.6 233.9,202.2 234.5,201.8 234.3,201.4 234.2,201.0 234.9,200.7 234.6,200.2 234.7,199.8 234.1,199.4 234.5,199.0 233.8,198.5 234.0,198.2 234.2,197.8 234.1,197.3 234.6,197.0 234.3,197.5 234.7,197.8 234.8,198.2 234.7,198.7 235.1,199.0 234.9,199.5 235.1,199.9 234.9,200.3 235.3,200.7 235.2,201.1 235.2,201.5 235.5,201.9 234.9,202.4 235.4,202.8 235.2,203.2 235.4,203.6 235.6,204.0 235.3,204.4 235.9,204.8 235.8,205.2 235.7,205.6 235.7,206.0 236.0,206.4 236.4,206.8 235.9,207.2 236.4,207.6 236.1,208.0 235.9,208.5 236.5,208.8 235.9,209.3 235.9,209.7 236.1,210.1 236.3,210.5 236.3,210.9 236.2,211.3 236.4,211.7 236.8,212.1 236.8,212.5 236.6,212.9 235.9,213.4 236.6,213.7 236.4,214.2 236.7,214.5 236.3,215.0 236.6,215.4 236.7,215.8 236.0,216.2 236.4,216.6 236.6,217.0 236.8,216.6 237.1,216.2 237.4,215.8 236.7,215.4 237.0,215.0 236.7,214.5 236.7,214.1 236.7,213.7 236.8,213.3 236.3,212.9 236.5,212.5 237.2,212.1 237.2,211.7 236.9,211.3 236.9,210.9 236.8,210.4 237.6,210.1 237.3,209.6 237.6,209.3 237.3,208.8 236.8,208.4 237.2,208.0 237.0,207.6 237.0,207.2 237.7,206.8 237.5,206.4 237.2,206.0 237.3,205.6 237.3,205.2 237.3,204.8 237.4,204.4 237.3,204.0 237.3,203.6 237.2,203.2 237.6,202.8 237.4,202.4 237.1,202.0 237.4,201.6 237.7,201.2 237.2,200.8 237.4,200.4 237.7,200.0 237.6,199.6 237.6,199.2 237.7,198.8 237.6,198.4 237.7,198.0 237.7,197.6 238.0,197.2 238.1,196.8 237.6,196.4 237.8,196.0 237.9,195.6 238.0,195.2 238.1,194.8 238.0,194.4 238.0,194.0 237.9,193.6 237.9,193.2 238.1,192.8 238.2,192.4 238.1,192.0 238.1,191.6 238.0,191.2 238.1,190.8 238.2,190.4 238.2,190.0 238.2,189.6 238.2,189.2 238.2,188.8 238.2,188.4 238.2,188.0 238.2,187.6 238.2,187.2 238.3,186.8 238.3,186.4 238.3,186.0 238.3,185.6 238.3,185.2 238.3,184.8 238.3,184.4 238.3,184.0 238.3,183.6 238.4,183.2 238.4,182.8 238.4,182.4 238.4,182.0 238.4,181.6 238.4,181.2 238.4,180.8 238.4,180.4 238.5,180.0 238.5,179.6 238.5,179.2 238.5,178.8 238.5,178.4 238.6,178.0 238.6,177.6 238.5,177.2 238.5,176.8 238.5,176.4 238.6,176.0 238.6,175.6 238.6,175.2 238.6,174.8 238.6,174.4 238.6,174.0 238.6,173.6 238.7,173.2 238.7,172.8 238.7,172.4 238.7,172.0 238.7,171.6 238.7,171.2 238.7,170.8 238.7,170.4 238.7,170.0 238.7,169.6 238.8,169.2 238.8,168.8 238.8,168.4 238.8,168.0 238.8,167.6 238.8,167.2 238.8,166.8 238.8,166.4 238.9,166.0 238.9,165.6 238.9,165.2 238.9,164.8 238.9,164.4 238.9,164.0 238.9,163.6 238.9,163.2 238.9,162.8 238.9,162.4 239.0,162.0 239.0,161.6 239.0,161.2 239.0,160.8 239.0,160.4 239.0,160.8 239.0,161.2 239.0,161.6 239.1,162.0 239.1,162.4 239.1,162.8 239.1,163.2 239.1,163.6 239.1,164.0 239.1,164.4 239.2,164.8 239.2,165.2 239.2,165.6 239.2,166.0 239.2,166.4 239.2,166.8 239.2,167.2 239.2,167.6 239.3,168.0 239.3,168.4 239.3,168.8 239.3,169.2 239.3,169.6 239.4,170.0 239.3,170.4 239.4,170.8 239.4,171.2 239.4,171.6 239.4,172.0 239.4,172.4 239.4,172.8 239.5,173.2 239.5,173.6 239.5,174.0 239.5,174.4 239.5,174.8 239.5,175.2 239.6,175.6 239.5,176.0 239.5,176.4 239.6,176.8 239.6,177.2 239.6,177.6 239.5,178.0 239.7,178.4 239.7,178.8 239.7,179.2 239.7,179.6 239.7,180.0 239.7,180.4 239.8,180.8 239.8,181.2 240.0,181.6 239.9,182.1 240.3,182.4 240.5,182.8 240.6,183.2 240.7,183.6 240.5,184.0 240.5,184.5 240.7,184.8 240.4,185.3 240.9,185.6 241.1,186.0 241.2,186.4 240.9,186.9 240.7,187.4 241.1,187.7 241.4,188.1 241.3,188.5 241.3,188.9 241.7,189.3 241.0,189.7 241.5,190.1 241.4,190.5 241.7,190.9 241.3,191.3 241.6,191.7 241.8,192.1 241.4,192.6 242.1,192.9 241.7,193.3 242.3,193.7 241.6,194.2 241.6,194.6 241.1,195.0 241.9,195.4 241.6,195.8 241.8,196.2 241.5,196.6 241.6,197.0 242.1,197.4 242.5,197.8 242.5,198.2 242.5,198.6 242.2,199.0 242.3,199.4 242.5,199.8 242.7,200.2 242.4,200.6 242.6,201.0 242.9,201.4 242.4,201.9 242.9,202.2 242.5,202.7 242.9,203.0 242.5,203.5 242.6,203.9 243.2,204.2 242.9,204.7 242.7,205.1 243.1,205.5 243.0,205.9 243.1,206.3 242.9,206.7 243.7,207.0 243.4,207.5 243.4,207.1 243.5,206.7 243.6,206.3 243.9,205.9 244.3,205.6 243.8,205.0 244.3,204.7 243.9,204.2 244.4,203.9 244.6,203.5 244.4,203.0 244.4,202.5 245.1,202.3 245.4,202.0 245.1,201.3 245.0,200.8 245.5,200.5 245.5,199.9 246.7,200.4 246.0,199.1 246.7,199.2 246.5,199.7 247.1,200.0 246.7,200.5 247.2,200.9 247.1,201.3 247.0,201.8 247.7,202.1 247.6,202.5 247.5,203.0 247.1,203.4 247.4,203.8 247.3,204.2 247.2,204.6 247.9,205.0 247.7,205.4 247.3,205.8 247.5,206.2 247.9,206.6 247.5,207.0 247.7,207.4 247.7,207.8 248.1,208.2 248.2,208.6 247.5,209.0 248.1,209.4 247.7,209.8 248.3,210.2 247.9,210.6 248.1,211.0 247.9,211.4 248.1,211.8 247.7,212.2 248.1,212.6 247.6,213.0 247.6,213.4 247.8,213.8 247.4,214.2 247.4,214.6 247.2,215.0 247.7,215.4 247.8,215.8 247.2,216.2 247.4,216.6 247.9,217.0 247.8,217.4 248.2,217.8 248.2,218.2 248.3,218.6 248.5,219.0 248.6,219.4 248.1,219.8 248.1,220.2 248.1,220.6 248.4,221.0 248.7,221.4 248.2,221.8 248.3,222.2 248.4,222.6 248.5,223.0 248.4,223.5 248.1,223.9 248.1,224.3 248.2,224.7 248.4,225.1 248.5,225.5 248.4,225.9 247.9,226.3 248.3,226.7 248.3,227.1 248.3,227.5 248.7,227.9 248.1,228.3 249.0,228.7 248.6,229.1 248.3,229.5 248.8,229.9 248.5,230.3 248.8,230.7 249.0,231.1 248.9,231.5 248.8,231.9 248.2,232.4 248.4,232.8 248.5,233.2 249.1,233.6 248.5,234.0 248.8,234.4 248.6,234.8 248.6,235.2 248.8,235.6 248.8,236.0 248.4,236.5 249.3,236.7 249.0,237.2 249.0,237.6 249.2,238.0 249.3,238.4 249.3,238.8 249.5,239.2 249.5,239.6 249.6,239.9 249.8,240.3 249.5,240.8 249.8,241.1 249.6,241.6 250.4,241.8 249.7,242.4 250.2,242.7 249.2,243.3 250.2,243.5 249.5,244.0 250.7,244.3 250.2,244.7 251.5,245.0 250.3,245.5 251.3,245.9 250.4,246.3 251.4,246.7 250.6,247.1 251.3,247.5 250.3,247.9 251.4,248.3 250.4,248.8 251.3,249.1 250.1,249.6 250.9,249.9 250.6,250.4 252.0,250.7 251.1,251.1 251.9,251.5 250.6,252.0 251.8,252.3 250.4,252.8 251.2,253.1 250.6,253.6 251.7,253.9 250.7,254.4 252.0,254.7 251.5,255.2 251.9,255.5 250.8,256.0 251.6,256.4 250.7,256.8 251.7,257.2 250.4,257.7 250.9,258.0 250.3,258.4 251.6,258.8 250.5,259.2 251.9,259.6 251.4,260.0 252.5,260.4 251.2,260.8 252.1,261.2 251.2,261.6 252.1,262.0 251.0,262.4 251.5,262.8 250.7,263.2 251.6,263.6 250.9,264.0 251.5,264.4 251.0,264.8 251.7,265.2 250.8,265.6 251.2,266.0 250.7,266.4 252.1,266.8 251.7,267.2 252.4,267.6 251.5,268.0 252.4,268.4 251.7,268.8 252.9,269.2 252.0,269.6 252.8,270.0 251.8,270.4 253.0,270.8 252.1,271.2 252.8,271.6 252.1,272.0 252.7,272.4 251.4,272.8 252.3,273.2 251.6,273.6 252.6,274.0 251.3,274.4 252.2,274.8 251.3,275.2 252.1,275.6 250.9,276.0 252.2,276.4 251.4,276.8 252.7,277.2 251.4,277.6 252.0,278.0 250.8,278.4 251.3,278.8 250.6,279.2 252.1,279.6 251.6,280.0 252.3,280.4 250.9,280.8 252.1,281.2 251.3,281.6 252.0,282.0 253.0,282.6 252.9,281.8 253.9,282.4 253.1,281.2 252.8,281.9 254.3,281.4 253.9,282.2 254.7,282.2 254.0,283.1 255.3,282.8 254.8,283.5 256.2,283.8 255.1,284.3 255.6,284.7 254.8,285.1 255.9,285.4 254.8,286.0 256.2,286.2 255.6,286.7 256.1,287.0 255.4,287.5 256.3,287.8 255.5,288.3 256.1,288.7 255.3,289.2 256.3,289.5 255.5,290.0 256.4,290.3 255.4,290.8 256.5,291.1 255.9,291.5 256.7,291.9 255.5,292.4 256.4,292.7 255.1,293.2 256.4,293.5 255.3,294.0 256.5,294.3 256.1,294.8 256.8,295.1 255.9,295.6 256.9,295.9 256.2,296.4 257.1,296.7 256.6,297.2 257.4,297.5 256.4,298.0 257.5,298.3 256.4,298.8 257.3,299.2 256.6,299.6 257.3,300.0 256.5,300.5 257.9,300.7 256.4,301.3 257.2,301.6 256.5,302.1 257.0,302.5 256.3,302.9 257.2,303.3 256.4,303.8 257.2,304.1 256.0,304.6 257.0,304.9 256.4,305.4 257.7,305.7 256.6,306.2 257.6,306.5 256.8,307.0 257.5,307.4 256.8,307.8 258.0,308.1 257.4,308.6 258.3,308.9 257.5,309.4 258.5,309.7 257.8,310.2 259.0,310.5 257.6,311.0 258.6,311.4 257.5,311.9 258.6,312.2 257.4,312.7 258.5,313.0 257.7,313.6 258.5,313.3 258.3,314.3 259.2,313.9 259.0,314.9 259.9,314.3 259.8,315.1 260.8,315.2 260.0,315.8 261.1,315.9 260.0,316.7 260.9,316.8 259.8,317.6 261.1,317.6 260.4,318.2 261.3,318.4 260.6,319.0 261.7,319.1 260.7,319.8 261.6,320.0 261.1,320.5 262.0,320.7 261.6,321.2 262.9,321.3 261.9,322.0 262.8,322.2 262.0,322.8 263.0,323.0 261.8,323.7 262.6,323.9 262.2,324.5 263.3,324.6 262.9,325.1 263.6,325.1 262.8,326.2 263.4,326.3 262.7,327.2 263.5,327.2 263.1,327.9 264.1,327.8 263.6,328.6 264.8,328.3 264.3,329.1 265.3,328.9 264.9,329.8 266.3,329.3 265.7,330.0 266.5,330.3 265.9,330.8 266.8,331.1 266.1,331.6 267.0,331.9 266.1,332.4 266.6,332.8 265.4,333.4 266.5,333.6 265.6,334.1 266.8,334.4 266.3,334.9 267.4,335.1 266.1,335.7 267.2,335.9 266.0,336.5 267.7,336.7 267.3,337.1 268.1,337.4 267.1,338.0 268.1,338.2 266.8,338.8 267.7,339.1 267.2,339.6 268.5,339.8 267.4,340.4 268.4,340.6 267.7,341.2 268.0,341.5 267.1,342.1 268.4,342.2 267.7,342.8 269.1,342.9 268.2,343.5 269.2,343.8 268.4,344.3 269.6,344.6 268.4,345.1 269.2,345.5 267.7,346.1 268.8,346.3 268.5,346.8 269.6,347.1 269.1,347.6 270.2,347.8 269.1,348.4 269.6,348.7 268.6,349.3 269.2,349.6 268.5,350.1 269.2,350.4 268.6,350.9 269.7,351.2 268.6,351.8 269.5,352.1 268.8,352.6 269.6,352.9 268.9,353.4 269.8,353.7 269.0,354.2 269.7,354.5 268.8,355.0 269.7,355.4 268.9,355.9 269.8,356.2 269.2,356.6 270.2,357.0 269.2,357.4 270.2,357.8 269.2,358.3 270.7,358.5 270.2,359.0 270.8,359.3 269.9,359.8 270.6,360.2 269.6,360.6 270.3,361.0 269.9,361.4 271.0,361.7 270.1,362.2 270.7,362.6 269.7,363.0 270.6,363.4 269.9,363.8 270.7,364.2 270.0,364.6 270.6,365.0 269.8,365.4 270.6,365.8 269.6,366.3 270.8,366.6 270.0,367.0 271.3,367.3 270.6,367.8 271.5,368.1 270.1,368.6 270.4,369.0 271.3,368.7 270.3,368.1 271.3,367.8 270.8,367.4 271.4,367.0 270.7,366.5 271.4,366.2 270.5,365.7 271.4,365.4 270.6,364.9 271.5,364.6 271.0,364.1 271.9,363.8 270.8,363.2 271.9,362.9 271.1,362.4 271.6,362.1 270.7,361.6 271.9,361.3 271.0,360.8 271.7,360.4 270.6,359.9 271.8,359.6 270.9,359.1 272.2,358.8 271.5,358.3 272.7,358.2 271.8,357.5 272.6,357.3 271.6,356.6 272.4,356.4 271.9,355.9 272.6,355.6 271.8,355.0 273.0,354.9 272.2,354.3 273.2,354.1 273.0,353.6 273.8,353.4 272.9,352.7 273.3,352.4 272.5,351.4 274.1,351.9 273.3,350.9 274.5,351.2 274.1,350.4 275.1,350.6 274.1,349.4 275.3,349.6 274.1,348.9 275.1,348.7 274.8,348.2 276.5,348.2 275.4,347.5 276.4,347.3 275.6,346.7 276.1,346.4 275.1,345.8 276.2,345.6 275.2,345.0 276.6,344.9 275.9,344.3 276.9,344.1 275.8,343.5 277.2,343.4 276.0,342.7 276.9,342.5 275.5,341.8 276.9,341.6 276.3,341.1 277.4,340.9 276.0,340.2 277.1,340.0 276.6,339.5 278.1,339.4 277.1,338.8 278.2,338.6 277.2,338.0 278.4,337.9 277.2,337.1 278.3,337.0 277.7,336.4 278.9,336.4 278.4,335.8 279.3,335.6 278.5,335.0 279.3,334.8 278.2,334.1 279.3,334.0 278.1,333.2 278.6,333.0 279.8,333.2 278.7,333.8 279.8,334.0 278.6,334.7 279.9,334.8 279.1,335.4 279.9,335.6 279.1,336.3 280.2,336.4 279.3,337.0 280.3,337.2 279.3,337.8 281.0,337.9 280.6,338.4 281.3,338.6 280.6,339.2 280.9,339.5 279.9,340.2 280.8,340.4 280.0,341.0 281.2,341.1 280.6,341.7 281.5,342.0 280.9,342.4 282.1,342.7 281.1,343.2 282.0,343.5 281.1,344.0 281.5,344.4 280.5,344.9 281.4,345.2 280.4,345.7 281.6,346.0 280.8,346.5 282.2,346.8 281.9,347.2 282.8,347.5 281.6,348.1 282.0,348.4 281.2,348.9 282.5,349.2 281.8,349.7 282.7,350.0 281.5,350.5 282.9,350.8 281.9,351.3 282.6,351.7 281.1,352.2 282.0,352.5 280.8,353.1 281.9,353.4 281.5,353.8 283.0,354.1 282.5,354.5 282.9,354.9 282.1,355.4 283.4,355.7 282.7,356.2 284.0,356.4 283.1,357.0 283.9,357.3 283.1,357.8 283.7,358.1 282.3,358.7 283.1,359.0 282.0,359.5 282.9,359.8 281.5,360.4 283.1,360.6 282.9,361.1 284.1,361.4 283.1,361.9 284.2,362.2 283.3,362.7 284.5,363.0 283.4,363.5 284.1,363.8 283.0,364.3 284.1,364.7 282.9,365.2 284.1,365.5 283.4,366.0 284.6,366.3 283.7,366.7 284.5,367.1 283.1,367.6 283.8,368.0 282.5,368.5 283.4,368.8 282.1,369.3 283.6,369.6 282.8,370.1 284.0,370.4 283.3,370.9 284.0,371.2 283.0,371.7 284.4,372.0 283.4,372.5 284.3,372.8 283.3,373.3 284.1,373.6 283.2,374.1 284.1,374.5 283.2,374.9 284.3,375.3 283.2,375.8 283.9,376.1 283.0,376.6 284.1,376.9 283.1,377.4 284.2,377.7 283.0,378.2 284.4,378.5 283.9,378.9 285.6,379.2 284.5,379.7 285.8,380.0 285.0,380.5 285.6,380.8 284.7,381.3 285.3,381.7 283.4,382.2 284.4,382.6 284.1,383.0 285.4,383.3 284.3,383.8 285.2,384.1 284.6,384.6 285.9,384.9 285.4,385.3 285.9,385.7 285.2,386.2 286.1,386.5 285.1,387.0 286.6,387.2 285.3,387.8 285.8,388.1 284.9,388.6 286.2,388.9 285.7,389.4 286.2,389.7 285.2,390.2 286.0,390.5 285.4,391.0 286.3,391.3 285.2,391.8 286.3,392.1 285.6,392.6 286.4,392.9 285.3,393.5 286.5,393.7 285.4,394.3 286.7,394.5 285.9,395.0 286.8,395.3 286.1,395.8 287.4,396.0 286.6,396.6 287.6,396.8 286.2,397.4 286.7,397.8 285.5,398.3 286.8,398.6 286.0,399.1 287.1,399.3 286.4,399.9 287.5,400.1 286.5,400.7 287.3,401.0 286.5,401.5 287.6,401.8 286.7,402.3 287.6,402.6 286.5,403.2 287.7,403.4 287.6,403.9 288.4,404.1 287.0,404.8 287.9,405.1 287.2,405.6 288.4,405.8 287.6,406.4 288.3,406.7 287.3,407.3 288.3,407.5 289.1,408.2 287.8,407.5 288.8,407.3 287.4,406.6 288.3,406.3 286.6,405.5 288.1,405.4 287.7,404.9 289.3,404.8 288.2,404.2 289.3,404.0 288.1,403.3 289.8,403.2 288.1,402.4 289.4,402.3 287.8,401.5 290.0,401.5 289.6,401.0 290.8,400.9 289.8,400.2 291.5,400.2 290.0,399.4 291.9,399.4 289.6,398.4 290.5,398.2 289.3,397.5 291.0,397.5 289.4,396.7 291.5,396.7 289.3,395.8 290.4,395.6 288.6,394.8 290.3,394.8 288.6,393.8 290.7,394.0 288.9,393.1 291.3,393.3 289.6,392.4 291.7,392.6 289.8,391.7 291.5,391.7 290.2,390.9 292.4,391.1 291.1,390.3 292.9,390.4 292.3,389.8 293.7,389.8 291.5,388.6 292.6,388.6 291.5,387.7 292.9,387.8 292.3,387.1 293.3,387.1 291.2,385.7 293.7,386.3 292.7,385.4 293.2,385.7 294.1,385.9 292.4,386.7 295.1,386.5 295.2,386.9 296.5,387.0 294.6,387.8 295.1,388.1 293.8,388.8 294.6,389.1 292.9,389.8 294.8,389.8 293.6,390.5 295.2,390.6 293.9,391.2 295.2,391.4 294.2,392.0 296.0,392.1 294.4,392.8 295.5,393.0 294.2,393.7 295.8,393.8 294.4,394.5 296.2,394.5 294.3,395.3 296.1,395.4 294.9,396.0 296.7,396.1 296.3,396.6 298.2,396.5 296.1,397.5 296.4,397.8 295.1,398.6 297.5,398.4 296.1,399.2 297.3,399.3 295.6,400.2 297.4,400.1 296.4,400.8 298.1,400.6 295.9,402.3 297.6,401.8 296.6,402.9 299.2,401.9 298.1,402.9 299.2,402.8 299.6,404.1 298.7,402.9 299.6,403.1 298.5,401.8 300.4,402.7 299.5,401.5 300.8,402.0 300.2,401.0 301.6,401.2 300.8,400.6 302.2,400.5 300.8,399.7 302.7,399.8 301.0,398.9 301.7,398.7 300.0,397.9 301.8,397.8 301.0,397.3 302.4,397.1 300.5,396.3 302.4,396.3 300.4,395.4 302.7,395.5 301.2,394.8 304.2,394.9 302.5,394.2 303.5,393.9 302.1,393.2 302.8,392.9 301.1,392.2 303.3,392.1 301.8,391.4 303.5,391.3 302.6,390.7 303.9,390.5 301.9,389.7 303.0,389.5 304.5,389.7 303.0,390.4 303.7,390.7 302.8,391.3 304.6,391.4 302.3,392.3 304.1,392.4 303.5,392.9 305.0,393.1 304.5,393.6 306.1,393.8 304.5,394.5 306.3,394.4 304.1,395.5 306.0,395.4 304.0,396.4 305.7,396.4 304.3,397.3 305.4,397.4 304.8,398.1 306.6,397.7 305.2,398.9 305.9,399.0 305.2,399.8 306.8,399.5 305.2,400.8 307.3,400.3 305.5,401.7 307.1,401.1 306.3,402.8 307.4,402.0 306.5,403.9 307.8,402.4 308.5,402.2 307.3,401.4 308.8,401.4 308.2,400.7 309.2,400.6 307.9,399.7 309.5,399.7 308.1,398.9 310.2,399.0 308.6,398.2 309.5,398.0 310.4,397.1 308.7,398.3 310.1,398.2 309.6,398.9 311.6,398.6 309.4,400.0 310.4,399.7 311.2,400.0 311.5,398.0 312.0,400.4 312.5,398.4 312.5,399.8 313.7,399.6 313.2,400.3 314.8,400.0 313.9,401.0 315.4,400.6 313.8,401.9 315.3,401.6 313.8,403.0 314.8,402.9 313.6,404.2 315.5,403.5 315.3,404.1 317.1,403.5 316.1,404.6 318.0,403.9 316.2,405.1 315.6,403.9 317.6,405.3 317.1,404.3 318.3,404.9 317.1,402.6 318.2,403.5 318.2,402.6 319.4,403.7 320.5,402.2 319.5,403.5 320.7,403.1 319.3,404.7 320.9,403.9 320.0,405.2 322.1,404.0 321.4,405.1 322.2,405.1 320.8,406.5 322.7,405.8 321.5,407.2 322.3,407.2 323.4,408.8 322.9,406.7 324.0,408.2 323.7,406.5 325.2,408.1 324.6,406.1 326.2,407.9 325.6,406.0 326.3,406.5 326.0,405.0 327.4,406.9 327.4,405.9 328.7,407.6 327.9,405.1 328.9,406.2 328.3,404.2 329.4,405.2 329.1,403.8 330.2,404.9 329.8,403.3 331.1,404.8 330.1,402.4 331.3,403.2 330.7,401.7 332.2,402.8 331.3,400.9 333.0,402.3 332.5,401.1 334.2,402.1 333.0,400.5 334.3,401.2 334.0,400.2 335.1,400.7 334.0,399.2 335.0,399.4 334.7,398.4 336.4,399.7 336.2,398.8 337.5,399.5 337.4,397.8 335.8,398.7 337.1,398.8 335.9,399.6 337.6,399.5 336.5,400.3 337.5,400.4 335.8,401.3 338.7,400.9 338.2,401.5 339.7,401.6 338.0,402.4 339.1,402.6 337.4,403.4 338.0,403.7 337.8,404.2 338.4,404.5 338.6,404.9 338.8,405.3 338.8,405.7 338.7,406.1 339.0,406.5 338.9,407.1 339.6,407.1 339.8,407.5 340.1,407.8 340.1,408.3 340.5,408.5 340.7,409.0 341.1,409.2 341.6,409.3 342.0,409.5 342.4,409.6 342.8,409.9 343.2,409.8 343.6,409.9 344.0,409.6 344.4,409.6 344.8,409.6 345.2,409.6 345.6,409.7 346.0,409.3 346.4,409.7 346.8,409.7 347.2,409.5 347.6,409.9 348.0,409.5 348.4,409.6 348.8,410.1 349.2,409.8 349.6,410.0 350.1,409.7 350.5,409.6 350.9,409.6 351.3,409.7 351.7,409.7 352.1,409.8 352.5,410.0 352.9,409.6 353.3,410.0 353.8,410.0 354.2,410.1 354.6,410.1 355.0,409.7 355.4,409.8 355.8,409.3 356.2,409.4 356.6,409.7 357.0,409.5 357.4,409.6 357.8,410.0 358.2,410.1 358.6,409.7 359.0,410.1 359.4,410.2 359.8,410.4 360.2,410.2 360.6,410.0 361.0,409.9 361.4,409.6 361.8,410.0 362.2,409.7 362.7,409.9 363.1,409.6 363.5,409.6 363.9,409.7 364.3,409.3 364.8,409.7 365.2,409.8 365.6,409.7 366.0,409.5 366.5,409.9 366.8,409.4 367.2,409.7 367.6,409.4 368.0,409.5 368.4,409.0 368.8,409.1 369.2,409.1 369.7,409.5 370.0,408.8 370.4,408.9 370.8,408.8 371.2,409.1 371.6,409.2 372.0,408.8 372.4,409.0 372.8,409.3 373.2,409.4 373.6,409.5 374.0,409.4 374.4,409.0 374.8,408.9 375.3,408.9 375.6,409.4 376.0,409.4 376.4,409.0 376.8,409.0 377.2,409.4 377.6,409.3 378.0,409.3 378.4,409.5 378.8,409.5 379.2,409.7 379.6,409.6 380.0,409.4 380.4,409.4 380.8,409.3 381.2,409.3 381.6,409.0 382.0,409.5 382.1,408.9 382.6,408.9 383.2,409.0 383.4,408.7 383.6,408.2 384.4,408.5 384.3,407.8 384.5,407.4 385.0,407.3 385.2,406.9 385.5,406.6 385.8,406.3 385.6,405.7 385.8,405.4 385.8,404.9 386.8,404.9 386.5,404.3 386.9,404.0 386.5,403.4 387.4,403.3 387.3,402.8 387.5,402.4 388.1,402.1 388.1,401.7 388.1,401.3 387.9,400.8 387.7,400.3 387.7,399.9 388.3,399.7 388.0,399.1 388.4,398.8 388.4,398.4 388.5,398.0 388.5,397.6 388.2,397.1 388.3,396.7 388.5,396.3 389.2,396.1 389.0,395.6 389.3,395.3 389.4,394.9 389.5,394.5 389.8,394.9 390.3,395.0 390.8,395.3 390.6,396.0 390.6,396.6 391.6,396.5 391.1,397.5 391.8,397.5 391.6,397.1 391.9,396.7 391.6,396.3 392.0,395.9 391.8,395.5 392.0,395.1 392.2,394.7 391.9,394.3 392.0,393.9 392.3,393.5 391.9,393.1 392.0,392.7 392.3,392.3 392.0,391.9 392.5,391.5 393.0,391.3 393.4,391.0 394.0,391.0 394.2,390.5 394.5,390.1 395.0,390.0 395.5,390.0 396.1,389.9 396.0,391.0 396.9,390.4 396.8,391.3 397.1,391.7 397.8,391.5 397.9,391.1 397.9,390.7 398.2,390.4 398.1,389.9 398.5,389.6 398.8,389.3 398.6,388.8 399.0,388.5 398.9,388.0 399.2,387.6 399.1,387.0 399.4,386.6 399.8,386.3 400.1,386.7 400.4,387.1 400.5,387.6 400.4,388.1 400.7,388.5 401.0,388.8 400.9,389.4 401.4,389.6 401.5,390.0 402.3,390.0 402.3,390.5 401.9,391.3 402.1,391.6 402.2,392.1 402.5,392.4 403.0,392.6 403.8,392.5 403.8,393.0 403.8,393.5 404.6,393.5 405.1,393.6 405.3,394.0 404.8,394.8 405.7,394.7 406.1,394.9 406.1,395.4 406.0,396.0 406.6,395.9 406.3,395.2 406.6,394.9 406.4,394.3 407.1,394.2 407.3,393.9 407.5,393.5 407.6,393.1 408.0,392.8 407.9,392.3 408.0,391.9 408.8,391.8 408.7,391.2 408.5,390.7 408.5,390.2 409.0,390.0 409.1,390.7 409.6,390.9 410.2,391.0 410.8,390.7 410.9,391.4 411.3,391.5 411.4,391.9 411.8,392.3 412.0,392.7 411.9,393.2 412.0,393.7 412.2,394.1 412.4,394.5 412.7,394.9 412.4,395.5 412.3,396.0 412.7,396.3 413.0,396.7 413.6,397.0 413.5,397.5 413.4,398.0 414.0,398.2 414.1,398.7 414.1,399.1 414.1,399.6 414.8,399.8 414.8,400.3 415.0,400.6 414.9,401.1 415.3,401.5 415.0,402.0 415.3,402.3 415.2,403.0 415.8,403.0 416.0,403.4 416.5,403.5 416.9,403.7 417.2,404.0 417.8,403.8 418.0,404.3 418.3,404.8 418.8,404.5 419.2,404.8 419.6,405.0 420.0,405.3 420.5,405.1 420.8,405.5 421.3,405.2 421.8,405.1 422.3,404.9 422.6,405.2 423.1,404.9 423.3,405.8 423.8,405.7 424.2,405.4 424.6,405.9 425.0,405.5 425.4,405.7 425.8,405.8 426.2,406.1 426.7,405.7 427.0,406.1 427.4,406.1 427.8,406.0 428.2,406.6 428.6,406.0 429.0,406.4 429.4,406.1 429.8,406.3 430.2,406.5 430.6,406.8 431.0,406.3 431.4,406.4 431.8,406.3 432.2,405.8 432.7,406.1 433.0,405.8 433.5,405.6 434.0,405.4 434.5,405.3 434.9,405.6 435.3,405.7 435.6,406.1 436.3,405.8 436.6,406.0 437.0,406.3 437.4,406.1 437.8,406.6 438.2,406.6 438.6,406.6 439.0,406.6 439.4,407.1 439.8,407.0 440.1,407.3 440.5,407.4 441.0,406.9 441.3,407.5 441.8,407.2 442.2,407.0 442.5,407.6 443.0,406.9 443.4,406.8 443.8,407.2 444.2,407.3 444.5,407.8 445.0,407.3 445.4,407.8 445.8,407.5 446.2,407.6 446.6,408.0 447.0,408.1 447.5,407.9 447.9,407.5 448.4,407.1 448.8,407.3 449.2,407.7 449.6,407.7 450.0,407.8 450.4,408.0 450.8,408.2 451.2,408.4 451.7,407.9 452.1,407.8 452.4,408.6 452.9,408.6 453.3,408.5 453.7,408.7 454.2,408.2 454.6,408.3 455.0,408.6 455.2,408.2 455.5,407.9 455.8,407.7 456.0,407.3 456.4,407.1 456.8,407.7 457.2,407.8 457.6,407.7 458.0,407.7 458.4,407.7 458.9,407.1 459.2,407.5 459.6,407.8 460.0,407.9 460.4,408.1 460.8,408.1 461.2,407.9 461.5,408.5 462.0,408.5 462.4,408.2 462.8,408.3 463.2,408.6 463.6,408.1 464.0,408.5 464.3,409.1 464.7,409.1 465.2,408.7 465.5,409.1 466.0,408.7 466.4,409.0 466.8,409.1 467.2,409.2 467.8,408.9 468.1,409.2 468.5,409.4 468.9,409.5 469.4,409.4 469.7,409.8 470.0,410.3 470.3,410.7 470.6,410.9 471.0,411.0 471.2,411.5 471.3,412.0 472.0,411.8 472.4,411.6 472.8,411.4 473.3,411.6 473.7,411.4 474.1,411.1 474.6,411.2 475.0,410.9 475.5,410.7 475.8,411.2 476.3,410.8 476.7,411.0 477.0,411.7 477.4,411.9 477.8,411.9 478.2,411.7 478.7,411.7 479.1,411.9 479.5,411.8 479.7,412.2 480.3,412.3 480.3,412.8 480.7,413.0 481.0,413.3 481.2,413.8 481.6,414.0 481.8,414.4 482.0,414.8 482.2,415.2 482.6,415.5 483.0,415.6 483.5,415.7 483.5,416.4 483.6,416.9 484.1,416.9 484.8,416.9 484.8,417.5 485.6,416.6 485.9,417.2 486.0,418.1 486.9,417.0 487.2,417.4 487.6,417.6 487.8,418.5 488.1,418.7 488.3,419.3 489.3,418.2 489.6,418.5 489.4,420.0 490.0,419.5 490.8,420.1 491.0,419.1 491.5,419.0 491.6,418.6 491.7,418.2 491.8,417.8 492.2,417.5 492.4,417.1 492.4,416.7 492.5,416.2 493.0,416.0 493.4,415.8 493.9,415.8 494.2,415.5 494.8,415.9 495.2,415.8 495.5,415.3 496.0,415.4 496.5,415.9 496.9,415.9 497.2,415.5 497.6,415.7 498.0,415.4 498.5,416.0 498.8,415.5 499.2,414.7 499.6,414.6 500.0,415.0 500.4,414.6 500.8,414.2 501.2,414.6 501.6,414.3 502.1,415.1 502.6,415.3 502.9,414.6 503.4,415.1 503.8,414.6 504.2,415.1 504.7,415.1 505.0,414.4 505.4,414.7 505.9,414.3 506.3,414.3 506.7,414.9 507.1,414.6 507.6,414.2 508.0,414.7 508.5,414.4 508.8,414.9 509.3,414.6 509.5,415.3 510.0,415.2 510.3,415.6 510.6,415.8 511.0,415.9 511.4,416.0 511.8,416.4 512.4,415.9 512.7,416.4 513.4,416.0 513.7,416.3 514.0,416.9 514.4,417.2 514.8,417.5 515.1,417.7 515.3,418.2 515.8,418.4 515.8,417.9 516.1,417.6 516.6,417.5 516.8,417.1 516.9,416.7 517.1,416.4 517.5,416.2 517.8,415.9 518.2,416.0 518.6,416.0 519.1,416.2 519.5,416.1 519.9,415.6 520.3,415.6 520.7,415.9 521.1,415.2 521.5,415.4 521.9,415.4 522.2,414.7 522.6,414.6 523.1,415.0 523.5,414.6 524.0,415.5 524.4,415.5 524.8,414.9 525.1,414.5 525.5,414.4 526.0,414.7 526.4,414.8 526.9,414.9 527.3,414.7 527.7,414.8 528.1,414.4 528.6,414.6 529.0,414.4 529.4,413.9 529.8,413.9 530.2,414.2 530.6,414.3 531.0,414.1 531.4,414.5 531.8,414.1 532.2,414.2 532.6,414.4 533.0,414.7 533.4,414.8 533.8,414.4 534.2,414.4 534.6,414.7 535.0,414.6 535.4,414.5 535.8,414.3 536.1,413.9 536.5,413.9 536.9,413.7 537.2,413.3 537.6,413.1 538.3,413.9 538.7,413.7 538.9,412.9 539.4,413.1 539.8,412.9 540.1,413.1 540.7,413.0 541.2,413.0 541.3,413.6 541.7,413.7 542.1,413.7 542.6,413.7 542.8,414.1 543.3,414.1 543.4,414.8 543.8,414.7 543.8,413.8 544.3,413.9 544.9,414.2 544.8,413.2 545.5,413.6 545.8,413.2 546.0,412.8 546.3,412.4 546.8,412.3 547.2,412.0 547.6,411.8 548.5,411.7 548.6,412.2 548.1,413.1 548.5,413.4 549.0,413.5 549.6,413.4 550.2,413.3 550.3,413.9 549.8,415.1 550.6,414.8 550.9,414.5 551.3,414.3 551.9,414.3 552.3,414.1 552.4,413.5 553.1,413.9 553.1,413.1 553.8,413.4 553.9,412.7 554.2,412.4 554.6,412.0 555.1,412.3 555.6,412.7 556.1,412.5 556.3,411.4 556.7,411.1 557.3,411.8 557.7,411.5 557.3,410.8 558.0,410.7 557.9,410.1 558.1,409.7 558.3,409.3 558.7,409.0 559.1,408.7 559.0,408.2 558.8,406.9 559.8,407.6 560.2,407.5 560.1,406.9 560.2,406.5 561.0,406.5 560.9,405.9 561.5,405.8 561.8,405.5 562.4,405.6 563.0,405.7 563.4,405.6 563.7,405.2 563.9,404.6 563.8,404.1 564.3,403.9 564.4,403.5 564.7,403.1 565.0,402.8 564.8,402.3 565.4,402.1 565.5,401.7 565.1,401.1 565.4,400.7 565.7,400.4 566.1,400.2 566.3,399.8 566.4,399.4 566.3,398.9 566.5,398.5 567.0,398.4 566.9,397.8 567.2,397.5 567.6,397.3 567.5,396.8 568.3,397.1 568.2,396.2 568.6,396.0 569.3,395.9 569.4,395.3 569.5,394.7 569.8,394.4 570.0,394.0 570.6,393.8 570.5,393.2 570.8,392.9 570.6,392.2 571.5,392.4 571.6,391.9 571.9,391.6 572.6,391.8 572.5,390.9 572.9,390.8 573.4,390.5 573.3,390.0 573.8,389.7 573.5,389.1 573.9,388.8 574.3,388.5 574.3,388.0 575.1,387.9 574.7,387.2 575.5,387.1 575.5,386.6 575.3,386.0 575.5,385.6 575.5,385.1 575.4,384.5 576.2,384.3 576.1,383.8" stroke="#000000"/>
<path class="ln" d="M90.8,138.5 91.3,138.2 90.6,137.4 91.3,137.3 90.7,136.4 91.9,136.6 91.9,136.1 92.8,136.0 92.2,135.3 92.5,135.0 92.3,134.3 92.8,134.2 92.5,133.5 93.4,133.6 93.4,133.1 93.7,132.8 93.2,132.0 94.0,132.0 94.0,131.5 94.8,131.5 94.1,130.5 94.9,130.5 94.8,129.9 96.0,130.2 95.5,129.3 96.2,129.3 95.7,128.5 96.9,128.7 96.6,128.0 97.6,128.1 97.2,127.4 97.8,127.3 97.8,126.6 97.0,127.1 97.8,127.4 97.0,127.9 97.8,128.2 97.2,128.7 98.3,129.0 97.9,129.5 98.7,129.8 97.7,130.3 98.2,130.7 97.2,131.2 98.0,131.5 97.6,132.0 98.5,132.3 98.2,132.8 99.1,133.1 98.5,133.6 99.1,133.9 98.7,134.6 98.8,134.1 99.7,134.2 99.2,133.3 100.1,133.5 100.2,132.9 101.0,133.0 100.6,131.9 101.4,132.2 101.3,131.3 101.1,131.5 102.3,131.3 102.0,131.9 102.9,131.9 102.2,132.8 102.9,132.8 102.6,133.4 103.3,133.5 102.8,134.2 103.6,134.3 103.1,134.9 103.6,135.1 103.0,135.8 104.0,135.8 103.8,136.4 104.9,136.4 104.1,137.3 105.0,137.5 104.4,138.0 105.1,138.3 104.7,138.8 105.1,139.2 104.9,139.6 105.0,140.0 105.0,140.5 105.0,140.9 105.1,141.3 104.9,141.7 104.7,142.2 104.8,142.6 105.2,143.0 105.0,143.4 105.4,143.8 105.1,144.2 105.3,144.6 105.5,145.0 105.2,145.5 105.3,145.9 105.6,146.3 105.2,146.7 105.3,147.1 105.4,147.5 105.4,147.9 105.4,148.4 105.4,148.8 105.7,149.2 105.8,149.6 105.6,150.0 105.6,150.4 105.4,150.9 105.4,151.3 105.8,151.7 105.8,152.1 105.9,152.5 106.3,152.9 105.9,153.3 105.6,153.8 106.1,154.2 105.7,154.6 106.0,155.0 105.7,155.4 105.8,155.8 105.9,156.2 105.8,156.6 106.1,157.0 105.7,157.4 105.7,157.8 106.5,158.2 105.8,158.6 106.3,159.0 106.6,159.4 106.5,159.8 105.9,160.2 106.0,160.6 106.2,161.0 106.1,160.3 106.5,160.0 107.3,160.0 107.5,159.5 108.3,159.5 107.7,158.7 108.2,158.5 108.0,157.9 108.3,157.5 108.5,157.2 109.0,157.0 109.3,156.7 109.9,156.6 110.0,156.1 110.2,155.7 110.5,155.3 110.5,154.8 110.8,154.5 111.1,154.8 111.2,155.2 111.3,155.6 111.7,155.9 111.7,156.4 111.8,156.8 111.3,157.4 111.8,157.6 112.0,158.0 112.1,158.4 112.5,158.7 112.7,159.1 112.4,159.6 112.9,159.9 113.0,160.3 113.2,160.7 112.8,161.2 112.7,161.6 113.0,162.0 113.6,161.4 114.1,161.2 114.4,162.2 114.9,162.5 115.1,162.9 114.8,163.4 115.0,163.8 115.3,164.2 114.8,164.8 115.5,165.0 115.2,165.5 115.8,165.8 115.3,166.3 115.7,166.7 116.0,167.0 115.8,167.5 115.6,168.0 116.3,168.3 116.5,168.6 116.7,169.0 116.5,169.5 116.5,169.9 116.3,170.3 116.2,170.8 116.1,171.2 116.8,171.5 116.7,171.9 116.6,172.4 116.8,172.7 116.9,173.1 116.7,173.6 117.0,174.0 116.6,174.4 117.0,174.8 117.2,175.2 117.4,175.5 117.5,175.9 117.0,176.4 117.1,176.8 117.7,177.2 117.4,177.6 117.5,178.0 117.3,178.4 117.4,178.8 117.5,179.2 117.2,179.7 117.7,180.0 117.6,180.5 117.3,180.9 117.7,181.3 117.9,181.7 118.2,182.0 118.2,182.5 118.0,182.9 117.8,183.3 118.1,183.7 117.9,184.1 118.0,184.6 118.2,184.9 117.9,185.4 118.4,185.7 118.6,186.1 118.6,186.5 118.4,187.0 119.1,187.3 118.8,187.8 119.2,188.1 118.9,188.6 118.8,189.0 119.1,189.4 118.6,189.9 119.3,190.2 119.4,190.6 119.7,191.0 119.6,191.4 119.2,191.9 119.1,192.3 118.9,192.8 119.0,193.2 119.4,193.5 119.2,194.0 120.0,194.3 119.5,194.8 120.0,195.1 120.3,195.5 119.8,196.0 119.5,196.4 119.5,196.9 120.1,197.2 120.5,197.6 120.0,198.0 120.2,198.4 120.3,198.8 120.0,199.3 120.8,199.6 120.8,200.0 120.8,200.4 120.7,200.8 120.0,201.3 120.1,201.7 120.7,202.1 120.9,202.5 120.9,202.9 120.6,203.3 120.7,203.7 120.6,204.2 121.1,204.5 120.6,205.0 121.0,205.4 121.1,205.8 121.3,206.1 121.4,206.5 121.0,207.0 120.8,207.4 120.7,207.8 120.9,208.2 121.2,208.6 121.2,209.0 121.2,209.4 121.2,209.8 121.0,210.2 121.7,210.5 121.6,211.0 121.8,211.3 122.4,211.7 122.0,212.1 121.7,212.6 121.7,213.0 121.8,213.4 121.6,213.8 122.1,214.1 122.5,214.5 122.4,214.9 122.0,215.4 122.0,215.8 121.9,216.2 122.2,216.5 122.6,216.9 122.7,217.3 122.5,217.7 122.2,218.2 122.8,218.5 122.2,219.0 122.3,219.4 122.7,219.7 123.2,220.0 122.8,220.5 123.1,220.9 123.8,221.0 123.8,221.6 124.0,222.0 124.1,222.4 124.0,222.8 124.4,223.1 124.1,223.6 124.3,224.0 124.2,224.4 124.4,224.8 124.8,225.1 125.0,225.5 125.2,225.9 124.7,226.4 124.7,226.8 124.8,227.2 124.9,227.6 124.9,228.0 125.3,228.3 125.8,228.6 125.5,229.1 125.5,229.5 125.9,229.8 125.7,230.3 126.1,230.6 125.8,231.1 126.4,231.4 126.6,231.8 126.1,232.4 126.7,232.6 126.3,233.2 126.6,233.5 127.0,233.9 126.5,234.4 126.7,234.8 126.7,235.2 127.3,235.5 127.0,236.0 127.3,236.4 126.8,236.9 127.5,237.2 126.9,237.7 127.6,238.0 127.6,238.5 127.9,238.8 127.5,239.3 128.0,239.7 127.8,240.1 128.1,240.5 127.9,241.0 128.2,241.3 128.7,241.7 128.4,242.2 128.2,242.6 128.5,243.0 128.5,243.4 128.3,243.9 128.7,244.2 128.9,244.6 128.8,245.0 129.1,245.4 129.0,245.9 129.4,246.2 129.3,246.6 129.1,247.1 129.2,247.5 129.7,247.8 129.6,248.3 129.9,248.6 129.4,249.2 129.7,249.5 130.1,249.9 129.6,250.4 130.3,250.7 130.0,251.1 130.7,251.4 130.1,252.0 130.5,252.3 130.3,252.8 130.7,253.1 130.8,253.5 130.6,254.0 130.9,254.4 131.1,254.8 131.0,255.3 131.3,255.7 131.2,256.1 131.3,256.6 131.3,257.0 131.3,256.6 131.3,256.2 131.3,255.8 131.3,255.4 131.3,255.0 131.3,254.6 131.3,254.2 131.3,253.8 131.3,253.4 131.3,253.0 131.3,252.6 131.3,252.2 131.3,251.8 131.3,251.4 131.3,251.0 131.3,250.6 131.3,250.2 131.3,249.8 131.3,249.4 131.3,249.0 131.3,248.6 131.3,248.2 131.3,247.8 131.3,247.4 131.3,247.0 131.3,246.6 131.3,246.2 131.3,245.8 131.3,245.4 131.3,245.0 131.3,244.6 131.3,244.2 131.3,243.8 131.3,243.4 131.3,243.0 131.4,242.5 131.4,242.1 131.4,241.7 131.4,241.3 131.4,240.9 131.4,240.5 131.4,240.1 131.4,239.7 131.4,239.3 131.4,238.9 131.4,238.5 131.4,238.1 131.4,237.7 131.4,237.3 131.4,236.9 131.4,236.5 131.4,236.1 131.4,235.7 131.4,235.3 131.4,234.9 131.4,234.5 131.4,234.1 131.4,233.7 131.4,233.3 131.4,232.9 131.4,232.5 131.4,232.1 131.4,231.7 131.4,231.3 131.4,230.9 131.4,230.5 131.4,230.1 131.4,229.7 131.4,229.3 131.4,228.9 131.4,228.5 131.4,228.1 131.4,227.7 131.4,227.3 131.4,226.9 131.4,226.5 131.4,226.1 131.4,225.7 131.4,225.3 131.4,224.9 131.4,224.5 131.4,224.1 131.4,223.7 131.4,223.3 131.4,222.9 131.4,222.5 131.4,222.1 131.4,221.7 131.4,221.3 131.4,220.9 131.4,220.5 131.4,220.1 131.4,219.7 131.4,219.3 131.4,218.9 131.4,218.5 131.4,218.1 131.4,217.7 131.4,217.3 131.4,216.9 131.4,216.5 131.4,216.1 131.4,215.7 131.4,215.3 131.4,214.9 131.4,214.5 131.5,214.0 131.5,213.6 131.5,213.2 131.5,212.8 131.5,212.4 131.5,212.0 131.5,211.6 131.5,211.2 131.5,210.8 131.5,210.4 131.5,210.0 131.5,209.6 131.5,209.2 131.5,208.8 131.5,208.4 131.5,208.0 131.5,207.6 131.5,207.2 131.5,206.8 131.5,206.4 131.5,206.0 131.5,205.6 131.5,205.2 131.5,204.8 131.5,204.4 131.5,204.0 131.5,203.6 131.5,203.2 131.5,202.8 131.5,202.4 131.5,202.0 131.5,201.6 131.5,201.2 131.5,200.8 131.5,200.4 131.5,200.0 131.5,199.6 131.5,199.2 131.5,198.8 131.5,198.4 131.5,198.0 131.5,197.6 131.5,197.2 131.5,196.8 131.5,196.4 131.5,196.0 131.5,195.6 131.5,195.2 131.5,194.8 131.5,194.4 131.5,194.0 131.5,193.6 131.5,193.2 131.5,192.8 131.5,192.4 131.5,192.0 131.6,191.6 131.6,191.2 131.6,190.8 131.6,190.4 131.6,190.0 131.6,189.6 131.6,189.2 131.6,188.8 131.6,188.4 131.6,188.0 131.6,187.6 131.6,187.2 131.6,186.8 131.6,186.4 131.6,186.0 131.6,185.6 131.6,185.2 131.6,184.8 131.6,184.4 131.6,184.0 131.6,183.6 131.6,183.2 131.6,182.8 131.6,182.4 131.6,182.0 131.6,181.6 131.6,181.2 131.6,180.8 131.6,180.4 131.6,180.0 131.6,179.6 131.6,179.2 131.6,178.8 131.6,178.4 131.6,178.0 131.6,177.6 131.6,177.2 131.6,176.8 131.6,176.4 131.6,176.0 131.6,175.6 131.7,175.2 131.7,174.8 131.7,174.4 131.7,174.0 131.7,173.6 131.7,173.2 131.7,172.8 131.7,172.4 131.7,172.0 131.7,171.6 131.7,171.2 131.7,170.8 131.7,170.4 131.7,170.0 131.7,169.6 131.7,169.2 131.7,168.8 131.7,168.4 131.7,168.0 131.7,167.6 131.7,167.2 131.7,166.8 131.7,166.4 131.7,166.0 131.7,165.6 131.7,165.2 131.7,164.8 131.7,164.4 131.7,164.0 131.7,163.6 131.7,163.2 131.7,162.8 131.7,162.4 131.7,162.0 131.7,161.6 131.7,161.2 131.7,160.8 131.7,160.4 131.7,160.0 131.7,159.6 131.7,159.2 131.7,158.8 131.8,158.4 131.8,158.0 131.8,157.6 131.8,157.2 131.8,156.8 131.8,156.4 131.8,156.0 131.8,155.6 131.8,155.2 131.8,154.8 131.8,154.4 131.8,154.0 131.8,153.6 131.8,153.2 131.8,152.8 131.8,152.4 131.8,152.0 131.8,151.6 131.8,151.2 131.8,150.8 131.8,150.4 131.8,150.0 131.8,149.6 131.8,149.2 131.8,148.8 131.8,148.4 131.8,148.0 131.8,147.6 131.8,147.2 131.8,146.8 131.8,146.4 131.8,146.0 131.8,145.6 131.8,145.2 131.8,144.8 131.8,144.4 131.8,144.0 131.8,143.6 131.8,143.2 131.8,142.8 131.8,142.4 131.9,142.0 131.9,141.6 131.9,141.2 131.9,140.8 131.9,140.4 131.9,140.0 131.9,139.6 131.9,139.2 131.9,138.8 131.9,138.4 131.9,138.0 131.9,137.6 131.9,137.2 131.9,136.8 131.9,136.4 131.9,136.0 131.9,135.6 131.9,135.2 131.9,134.8 131.9,134.4 131.9,134.0 131.9,133.6 131.9,133.2 132.0,132.8 132.0,132.4 132.0,131.9 132.0,131.5 132.0,131.1 132.1,130.7 132.1,130.3 132.1,129.9 132.1,129.5 132.1,129.1 132.1,128.7 132.2,128.3 132.2,127.8 132.2,127.4 132.2,127.8 132.2,128.3 132.2,128.7 132.2,129.1 132.2,129.5 132.3,129.9 132.3,130.3 132.3,130.7 132.3,131.1 132.3,131.5 132.3,131.9 132.3,132.4 132.3,132.8 132.3,133.2 132.3,133.6 132.3,134.0 132.4,134.4 132.4,134.8 132.4,135.2 132.4,135.6 132.4,136.0 132.4,136.5 132.4,136.9 132.4,137.3 132.4,137.7 132.4,138.1 132.4,138.5 132.5,138.9 132.5,139.3 132.5,139.7 132.5,140.2 132.5,140.6 132.5,141.0 132.5,140.6 132.5,140.1 132.5,139.7 132.5,139.3 132.5,138.9 132.6,138.5 132.6,138.1 132.6,137.7 132.6,137.3 132.6,136.9 132.6,136.4 132.6,136.0 132.6,135.6 132.6,135.2 132.6,134.8 132.6,134.4 132.6,134.0 132.7,133.6 132.7,133.2 132.7,132.7 132.7,132.3 132.7,131.9 132.7,131.5 132.7,131.1 132.7,130.7 132.7,130.3 132.7,129.9 132.7,129.4 132.8,129.0 132.8,128.6 132.8,128.2 132.8,127.8 132.8,127.4 132.8,127.0 132.8,127.4 132.8,127.8 132.8,128.2 132.8,128.6 132.8,129.0 132.8,129.4 132.9,129.8 132.9,130.2 132.9,130.6 132.9,131.0 132.9,131.4 132.9,131.9 132.9,132.3 132.9,132.7 132.9,133.1 132.9,133.5 132.9,133.9 132.9,134.3 133.0,134.7 133.0,135.1 133.0,135.5 133.0,135.9 133.0,136.3 133.0,136.7 133.0,137.1 133.0,137.5 133.0,138.0 133.0,138.4 133.0,138.8 133.0,139.2 133.1,139.6 133.1,140.0 133.1,140.4 133.1,140.8 133.1,141.2 133.1,141.6 133.1,141.2 133.1,140.8 133.1,140.4 133.1,140.0 133.1,139.6 133.2,139.1 133.2,138.7 133.2,138.3 133.2,137.9 133.2,137.5 133.2,137.1 133.2,136.7 133.2,136.3 133.2,135.8 133.2,135.4 133.2,135.0 133.2,134.6 133.3,134.2 133.3,133.8 133.3,133.4 133.3,133.0 133.3,132.6 133.3,132.1 133.3,131.7 133.3,131.3 133.3,130.9 133.3,130.5 133.3,130.1 133.4,129.7 133.4,129.3 133.4,128.9 133.4,128.4 133.4,128.0 133.4,127.6 133.4,128.0 133.4,128.4 133.4,128.8 133.4,129.2 133.4,129.6 133.5,130.0 133.5,130.4 133.5,130.8 133.5,131.2 133.5,131.6 133.5,132.0 133.5,132.4 133.5,132.8 133.5,133.2 133.5,133.6 133.5,134.0 133.6,134.4 133.6,134.8 133.6,135.2 133.6,135.6 133.6,136.0 133.6,136.4 133.6,136.8 133.6,137.2 133.6,137.6 133.6,138.0 133.6,138.4 133.7,138.8 133.7,139.2 133.7,139.6 133.7,140.0 133.7,140.4 133.7,140.8 133.7,140.4 133.7,140.0 133.7,139.6 133.7,139.2 133.7,138.8 133.8,138.4 133.8,138.0 133.8,137.6 133.8,137.2 133.8,136.8 133.8,136.4 133.8,135.9 133.8,135.5 133.8,135.1 133.8,134.7 133.8,134.3 133.9,133.9 133.9,133.5 133.9,133.1 133.9,132.7 133.9,132.3 133.9,131.9 133.9,131.5 133.9,131.1 133.9,130.7 133.9,130.3 133.9,129.9 134.0,129.4 134.0,129.0 134.0,128.6 134.0,128.2 134.0,127.8 134.0,127.4 134.0,127.8 134.0,128.2 134.0,128.6 134.0,129.1 134.0,129.5 134.1,129.9 134.1,130.3 134.1,130.7 134.1,131.1 134.1,131.5 134.1,131.9 134.1,132.3 134.1,132.7 134.1,133.2 134.1,133.6 134.1,134.0 134.1,134.4 134.2,134.8 134.2,135.2 134.2,135.6 134.2,136.0 134.2,136.4 134.2,136.8 134.2,137.3 134.2,137.7 134.2,138.1 134.2,138.5 134.2,138.9 134.3,139.3 134.3,139.7 134.3,140.1 134.3,140.5 134.3,140.9 134.3,141.4 134.3,141.0 134.3,140.5 134.3,140.1 134.3,139.7 134.3,139.3 134.4,138.9 134.4,138.5 134.4,138.1 134.4,137.7 134.4,137.3 134.4,136.9 134.4,136.5 134.4,136.1 134.4,135.6 134.4,135.2 134.4,134.8 134.5,134.4 134.5,134.0 134.5,133.6 134.5,133.2 134.5,132.8 134.5,132.4 134.5,132.0 134.5,131.6 134.5,131.2 134.5,130.8 134.5,130.3 134.6,129.9 134.6,129.5 134.6,129.1 134.6,128.7 134.6,128.3 134.6,127.9 134.6,128.3 134.6,128.7 134.6,129.1 134.6,129.5 134.6,129.9 134.7,130.3 134.7,130.8 134.7,131.2 134.7,131.6 134.7,132.0 134.7,132.4 134.7,132.8 134.7,133.2 134.7,133.6 134.7,134.0 134.7,134.4 134.8,134.8 134.8,135.2 134.8,135.7 134.8,136.1 134.8,136.5 134.8,136.9 134.8,137.3 134.8,137.7 134.8,138.1 134.8,138.5 134.8,138.9 134.8,139.3 134.9,139.7 134.9,140.1 134.9,140.6 134.9,141.0 134.9,141.4 134.9,141.8 134.9,141.4 134.9,141.0 134.9,140.6 134.9,140.2 134.9,139.8 134.9,139.4 135.0,139.0 135.0,138.6 135.0,138.2 135.0,137.8 135.0,137.4 135.0,137.0 135.0,136.6 135.0,136.2 135.0,135.8 135.0,135.4 135.0,135.0 135.0,134.6 135.1,134.2 135.1,133.8 135.1,133.4 135.1,133.0 135.1,132.6 135.1,132.2 135.1,131.8 135.1,131.4 135.1,131.0 135.1,130.6 135.1,130.2 135.1,129.8 135.2,129.4 135.2,129.0 135.2,128.6 135.2,128.2 135.2,127.8 135.2,127.4 135.2,127.0 135.2,127.4 135.2,127.8 135.2,128.2 135.2,128.6 135.2,129.0 135.2,129.4 135.3,129.8 135.3,130.2 135.3,130.6 135.3,131.0 135.3,131.4 135.3,131.8 135.3,132.2 135.3,132.6 135.3,133.0 135.3,133.4 135.3,133.8 135.3,134.2 135.3,134.6 135.4,135.0 135.4,135.4 135.4,135.8 135.4,136.2 135.4,136.6 135.4,137.0 135.4,137.4 135.4,137.8 135.4,138.2 135.4,138.6 135.4,139.0 135.4,139.4 135.5,139.9 135.5,140.3 135.5,140.7 135.5,141.1 135.5,141.5 135.5,141.9 135.5,142.3 135.4,141.8 135.3,141.4 135.6,141.0 136.3,141.4 135.9,141.8 135.9,142.2 135.4,142.7 135.4,143.1 135.2,143.5 135.8,143.9 136.0,144.3 135.6,144.8 135.9,145.2 135.6,145.6 135.8,146.0 136.0,146.4 136.1,146.8 136.3,147.2 135.7,147.6 136.2,148.0 136.2,148.4 136.1,148.8 135.7,149.2 135.7,149.6 136.1,150.0 136.5,150.4 136.3,150.8 136.0,151.2 136.6,151.6 136.2,152.0 136.5,152.4 136.6,152.8 136.7,153.2 136.6,153.6 136.9,154.0 136.6,154.5 136.3,154.9 137.0,155.3 136.9,155.7 136.6,156.2 136.5,156.6 136.7,157.0 137.3,157.3 136.9,157.8 137.0,158.2 137.0,158.6 137.4,159.0 137.7,159.4 137.6,159.8 137.2,160.3 137.1,160.7 137.4,161.1 137.1,161.6 137.1,162.0 137.1,162.4 137.7,162.7 137.5,163.2 137.7,163.6 137.6,164.0 137.8,164.4 137.9,164.8 137.9,164.4 138.2,164.0 137.8,163.5 138.3,163.2 138.1,162.7 138.4,162.4 138.8,162.0 138.4,161.5 138.9,161.2 138.4,160.7 139.1,160.4 139.0,160.0 138.6,159.5 139.3,159.2 139.2,158.7 139.2,158.3 139.6,157.9 139.6,157.5 139.4,157.0 139.2,156.5 139.7,156.2 140.0,155.8 140.3,156.2 139.7,156.7 140.2,157.0 140.1,157.4 140.3,157.8 139.9,158.3 140.7,158.6 140.6,159.0 140.5,159.4 141.0,159.8 140.6,160.2 140.9,160.6 141.3,160.2 141.8,159.3 142.2,159.1 142.7,160.6 142.9,161.0 142.6,161.5 143.1,161.8 143.0,162.3 142.8,162.8 143.2,163.1 143.5,163.5 143.3,163.9 143.6,164.3 143.4,164.8 143.6,165.2 144.2,165.5 143.9,166.0 144.0,166.4 144.1,166.8 144.5,167.2 144.2,167.6 143.8,168.1 144.3,168.4 144.1,168.8 143.9,169.3 144.3,169.6 143.6,170.1 144.2,170.5 144.1,170.9 144.0,171.3 144.8,171.7 144.6,172.1 144.9,172.5 144.6,172.9 144.8,173.3 144.5,173.7 144.4,174.1 144.5,174.5 144.5,174.9 144.5,175.4 144.4,175.8 144.9,176.1 144.5,176.6 145.0,177.0 145.1,177.4 145.1,177.8 144.6,178.2 145.2,178.6 145.0,179.0 144.7,179.5 145.2,179.8 144.6,180.3 145.2,180.6 145.0,181.0 144.7,181.5 145.2,181.8 145.4,182.2 145.0,182.7 145.3,183.0 145.5,183.4 146.0,183.8 145.9,184.2 146.1,184.6 146.1,185.0 146.4,185.3 146.2,185.8 146.5,186.1 146.5,186.6 146.1,187.0 146.5,187.4 145.9,187.9 146.3,188.2 146.6,188.6 146.5,189.0 146.8,189.4 146.6,189.8 146.6,190.2 146.5,190.7 147.1,191.0 147.3,191.4 147.0,191.9 147.4,192.2 146.8,192.7 146.9,193.1 146.8,193.6 146.9,194.0 147.5,194.3 147.1,194.8 147.3,195.2 147.6,195.5 147.0,196.1 147.3,196.4 147.3,196.9 147.7,197.2 148.2,197.5 148.0,198.0 148.0,198.5 148.5,198.8 148.5,199.2 148.3,199.8 148.8,200.1 148.6,200.6 148.8,201.0 149.3,200.7 148.8,200.2 149.2,199.8 148.8,199.3 149.2,199.0 149.4,198.6 149.4,198.1 148.9,197.7 149.1,197.3 149.8,196.9 149.4,196.5 149.6,196.1 149.6,195.7 149.8,195.3 149.8,194.8 149.8,194.4 149.8,194.0 149.9,193.6 150.0,193.2 150.0,192.8 149.8,192.4 150.5,192.1 150.6,191.7 150.4,191.2 150.5,190.8 150.1,190.4 150.5,190.0 150.0,189.6 150.4,189.2 150.4,188.8 150.6,188.4 150.5,188.0 150.5,187.6 150.3,187.2 150.9,186.8 150.7,186.4 150.8,186.0 150.7,185.6 150.8,185.2 151.2,184.8 151.3,184.4 151.4,184.0 151.3,183.6 150.8,183.1 150.7,182.7 151.3,182.4 151.3,182.0 151.5,181.6 151.3,181.1 151.3,180.7 151.9,180.4 151.8,180.0 151.8,179.6 152.6,179.4 152.4,178.9 152.7,178.5 152.2,178.0 152.2,177.5 152.4,177.1 152.2,176.6 152.5,176.3 152.5,175.9 152.4,175.4 153.2,175.2 153.3,174.8 153.7,175.1 154.1,175.4 153.6,176.1 154.3,176.3 154.3,176.7 154.6,177.1 154.7,177.5 154.5,178.0 154.7,178.4 154.9,178.8 155.0,179.2 155.3,179.5 155.4,179.9 154.9,180.5 155.3,180.9 154.7,181.4 154.8,181.8 155.5,182.1 155.1,182.6 156.0,182.8 155.7,183.4 155.8,183.8 156.1,184.1 156.3,184.5 156.5,184.9 156.2,185.3 156.6,185.7 156.2,186.1 156.6,186.5 156.7,186.9 157.0,187.3 156.6,187.7 156.7,188.1 156.5,188.6 156.5,189.0 156.5,189.4 156.2,189.8 156.3,190.2 156.7,190.6 157.0,191.0 156.5,191.4 156.8,191.8 156.9,192.2 156.9,192.6 156.8,193.0 156.6,193.4 156.2,193.9 156.4,194.3 156.4,194.7 156.2,195.1 156.3,195.5 156.6,195.9 156.6,196.3 156.3,196.8 156.7,197.2 157.0,197.6 156.7,198.0 156.7,198.4 157.4,198.8 157.2,199.2 157.0,199.7 157.6,200.0 157.6,200.5 157.2,200.9 157.3,201.3 157.4,201.7 157.0,202.2 157.2,202.6 157.8,202.9 157.6,203.4 157.7,203.8 158.1,204.1 157.6,204.6 158.3,204.9 158.5,205.3 158.3,205.8 158.6,206.1 158.2,206.6 158.3,207.0 157.8,207.5 158.2,207.9 157.9,208.3 158.1,208.7 158.4,209.1 158.8,209.4 158.6,209.9 158.4,209.4 158.6,209.0 158.7,208.6 159.0,208.3 159.1,207.8 159.2,207.4 159.6,207.1 160.0,206.8 159.9,206.3 160.4,206.5 160.5,206.9 160.8,207.2 160.9,207.6 161.1,207.9 161.0,208.4 160.9,208.9 161.2,209.2 161.1,209.7 161.7,209.9 162.2,209.6 162.1,209.2 162.3,208.8 162.0,208.3 162.5,208.0 162.6,207.6 163.1,207.4 162.9,206.9 163.4,206.7 163.4,206.2 163.5,205.8 163.5,205.4 163.7,205.8 164.0,206.1 163.6,206.6 163.6,207.0 163.9,207.4 164.3,207.7 164.0,208.2 163.8,208.6 163.8,209.0 164.2,209.4 164.9,209.6 164.4,210.2 164.8,210.5 165.1,210.8 164.6,211.3 164.9,211.7 164.7,212.2 164.8,212.6 165.4,212.8 165.2,213.3 165.5,213.7 165.8,214.0 165.6,214.5 165.9,214.8 166.3,215.1 166.4,215.5 166.2,216.0 166.7,216.3 166.4,216.8 166.6,217.2 166.3,217.7 166.7,218.0 167.2,218.3 167.1,218.7 167.3,219.1 167.2,219.6 167.0,220.0 167.3,220.4 167.4,220.8 167.4,221.2 167.5,221.6 167.5,222.0 167.5,222.5 168.4,222.6 168.4,223.1 168.1,223.6 168.9,223.8 168.5,224.3 168.6,224.7 169.3,224.9 168.9,225.5 168.9,225.9 169.3,226.2 169.3,226.6 169.4,227.0 169.4,227.4 169.8,227.7 169.8,228.2 170.0,228.5 169.8,229.0 169.7,229.5 170.3,229.7 170.7,229.4 170.9,229.0 170.4,228.5 170.7,228.1 170.7,227.7 170.8,227.3 171.2,227.0 170.8,226.5 171.3,226.2 171.6,225.8 171.6,225.4 170.8,224.8 171.0,224.5 171.2,224.1 171.5,223.7 171.1,223.2 171.9,223.0 171.6,222.5 171.7,222.1 171.9,221.7 172.2,221.4 171.5,220.8 171.8,220.5 171.7,220.1 171.7,219.6 171.8,219.2 172.1,218.9 172.1,218.5 171.9,218.0 172.6,217.7 172.5,217.3 172.3,216.9 172.8,216.5 172.8,216.1 172.4,215.6 173.1,215.4 173.2,215.0 172.9,214.5 172.9,214.1 173.6,213.8 173.6,213.4 173.0,212.9 173.6,212.6 173.7,212.2 173.4,211.7 173.0,212.2 172.9,212.7 173.0,213.1 173.7,213.4 173.6,213.9 173.8,214.2 174.5,214.5 174.2,215.1 174.1,215.5 174.1,215.9 174.5,216.3 174.8,216.7 174.8,217.1 174.8,217.5 174.7,217.9 175.1,218.3 174.5,218.8 174.5,219.2 175.1,219.5 174.8,220.0 174.9,220.4 175.6,220.6 175.4,221.1 175.6,221.5 175.9,221.8 176.1,222.2 176.1,222.6 175.9,223.0 176.1,223.4 176.1,223.8 175.7,224.3 176.6,224.5 177.1,224.9 177.1,225.3 176.7,225.8 177.2,226.1 177.3,226.5 176.8,227.1 177.4,227.3 177.0,227.8 177.7,228.1 177.7,228.5 177.6,229.0 177.5,229.4 177.9,229.7 177.9,230.2 177.9,230.6 178.6,230.9 178.3,231.3 178.4,231.7 178.0,232.3 178.0,232.6 178.0,233.1 178.4,233.4 178.5,233.8 179.0,234.1 178.9,234.5 179.1,234.9 179.2,235.3 179.0,235.7 179.6,236.0 179.7,236.4 179.8,236.8 179.3,237.3 179.5,237.7 179.6,238.1 179.7,238.5 179.3,239.0 179.4,239.4 180.2,239.6 180.5,239.2 180.4,238.8 180.5,238.4 180.2,237.9 180.3,237.5 180.1,237.1 180.3,236.7 180.6,236.3 180.2,235.9 180.6,235.5 181.0,235.1 180.5,234.6 180.5,234.2 181.0,233.8 181.1,233.4 180.7,233.0 180.5,232.6 181.0,232.2 181.2,231.8 181.4,231.4 181.0,230.9 180.6,230.5 181.0,230.1 181.1,229.7 181.1,229.3 181.2,228.9 181.2,228.5 181.7,228.2 181.9,227.8 181.9,227.4 181.4,226.9 181.6,226.5 181.0,226.0 181.7,225.7 181.6,225.3 182.0,224.9 181.8,224.5 182.2,224.2 181.4,223.6 182.1,223.3 182.1,222.9 182.0,222.5 182.5,222.7 182.4,223.3 183.0,223.4 182.6,224.3 183.3,224.3 183.4,224.7 183.7,225.0 184.0,225.3 183.7,225.9 183.9,226.3 184.6,226.4 184.1,227.1 184.8,227.2 184.8,227.6 185.1,227.9 185.2,228.3 185.2,228.7 185.1,229.2 185.3,229.5 185.6,229.9 185.9,230.2 186.2,230.6 186.3,231.0 185.9,231.5 186.0,231.9 186.1,232.3 185.8,232.8 186.5,233.0 186.7,233.4 186.6,233.8 186.8,234.2 186.3,234.8 187.0,235.0 186.9,235.5 187.3,235.8 187.8,236.1 187.9,236.5 187.9,237.0 187.9,237.4 188.0,237.8 187.8,238.4 188.5,238.6 188.6,239.0 188.6,238.4 189.0,238.0 189.0,237.6 189.0,237.2 189.0,236.8 189.0,236.4 189.0,236.0 189.0,235.6 189.0,235.2 189.0,234.8 189.0,234.4 189.0,234.0 189.0,233.6 189.0,233.2 189.0,232.8 189.0,232.4 189.0,232.0 189.0,231.6 189.0,231.2 189.0,230.8 189.0,230.4 189.1,230.0 189.1,229.6 189.1,229.2 189.1,228.8 189.1,228.4 189.1,227.9 189.1,227.5 189.1,227.1 189.1,226.7 189.1,226.3 189.1,225.9 189.1,225.5 189.1,225.1 189.1,224.7 189.1,224.3 189.1,223.9 189.1,223.5 189.1,223.1 189.1,222.7 189.1,222.3 189.1,221.9 189.1,221.5 189.1,221.1 189.1,220.7 189.1,220.3 189.1,219.9 189.1,219.5 189.1,219.1 189.1,218.7 189.1,218.3 189.1,217.9 189.1,217.5 189.1,217.1 189.1,216.7 189.1,216.3 189.1,215.9 189.1,215.5 189.1,215.1 189.1,214.7 189.1,214.3 189.2,213.9 189.2,213.5 189.2,213.1 189.2,212.7 189.2,212.3 189.2,211.9 189.2,211.5 189.2,211.1 189.2,210.7 189.2,210.3 189.2,209.9 189.2,209.5 189.2,209.1 189.2,208.7 189.2,208.3 189.2,207.9 189.2,207.4 189.2,207.0 189.2,206.6 189.2,206.2 189.2,205.8 189.2,205.4 189.2,205.0 189.2,204.6 189.2,204.2 189.2,203.8 189.2,203.4 189.2,203.0 189.2,202.6 189.2,202.2 189.2,201.8 189.2,201.4 189.2,201.0 189.2,200.6 189.2,200.2 189.2,199.8 189.2,199.4 189.2,199.0 189.2,198.6 189.2,198.2 189.2,197.8 189.3,198.2 189.3,198.6 189.3,199.0 189.3,199.4 189.3,199.8 189.3,200.2 189.3,200.6 189.3,201.0 189.3,201.4 189.3,201.8 189.3,202.2 189.3,202.6 189.3,203.0 189.3,203.4 189.3,203.8 189.3,204.2 189.3,204.6 189.3,205.0 189.3,205.4 189.3,205.8 189.3,206.2 189.3,206.6 189.3,207.0 189.3,207.4 189.3,207.9 189.3,208.3 189.3,208.7 189.3,209.1 189.3,209.5 189.3,209.9 189.3,210.3 189.3,210.7 189.3,211.1 189.3,211.5 189.3,211.9 189.3,212.3 189.3,212.7 189.3,213.1 189.3,213.5 189.3,213.9 189.4,214.3 189.4,214.7 189.4,215.1 189.4,215.5 189.4,215.9 189.4,216.3 189.4,216.7 189.4,217.1 189.4,217.5 189.4,217.9 189.4,218.3 189.4,218.7 189.4,219.1 189.4,219.5 189.4,219.9 189.4,220.3 189.4,220.7 189.4,221.1 189.4,221.5 189.4,221.9 189.4,222.3 189.4,222.7 189.4,223.1 189.4,223.5 189.4,223.9 189.4,224.3 189.4,224.7 189.4,225.1 189.4,225.5 189.4,225.9 189.4,226.3 189.4,226.7 189.4,227.1 189.4,227.5 189.4,227.9 189.4,228.4 189.4,228.8 189.4,229.2 189.4,229.6 189.4,230.0 189.5,230.4 189.5,230.8 189.5,231.2 189.5,231.6 189.5,232.0 189.5,232.4 189.5,232.8 189.5,233.2 189.5,233.6 189.5,234.0 189.5,234.4 189.5,234.8 189.5,235.2 189.5,235.6 189.5,236.0 189.5,236.4 189.5,236.8 189.5,237.2 189.5,237.6 189.5,238.0 189.6,238.4 189.7,238.8 189.7,239.2 189.9,239.6 189.7,240.1 189.7,240.5 189.9,240.9 189.8,241.3 190.0,241.7 190.0,242.1 190.5,242.5 190.1,243.0 190.5,243.3 190.2,243.8 190.3,244.2 190.0,244.6 190.5,245.0 190.7,245.4 190.4,245.8 190.7,246.2 190.3,246.6 190.8,247.0 190.3,247.4 190.4,247.8 190.6,248.2 190.3,248.7 190.5,249.0 190.7,249.4 191.3,249.8 190.7,250.2 190.7,250.6 191.0,251.0 191.7,251.3 191.0,251.8 191.4,252.2 191.3,252.6 191.1,253.0 191.6,253.4 191.8,253.8 191.2,254.2 191.8,254.6 191.5,255.0 192.1,255.4 192.0,255.8 191.3,256.2 191.5,256.6 192.0,257.0 192.2,257.4 191.6,257.8 191.7,258.2 191.8,258.6 192.3,259.0 192.1,259.4 191.6,259.8 192.3,260.2 192.0,260.6 192.5,261.0 191.9,261.4 192.5,261.8 191.7,262.2 191.7,262.6 191.9,263.0 192.5,263.4 192.2,263.8 192.6,264.2 192.6,264.6 192.4,265.0 192.6,265.4 192.2,265.8 192.0,266.3 192.6,266.6 192.2,267.0 192.7,267.4 192.8,267.8 192.9,268.2 192.7,268.6 192.5,269.0 192.6,269.4 192.4,269.8 192.9,270.2 193.0,270.6 192.7,271.0 193.4,271.4 193.5,271.8 193.2,272.2 193.3,272.6 193.2,273.0 193.8,273.3 193.7,273.8 194.0,274.1 193.6,274.7 194.1,275.0 193.9,275.5 194.1,275.9 194.1,276.3 194.4,276.7 194.9,276.4 194.5,275.9 194.7,275.5 194.3,275.0 194.7,274.6 194.8,274.2 195.0,273.8 194.5,273.3 194.7,272.9 195.0,272.5 195.0,272.1 195.1,271.7 194.5,271.1 194.7,270.7 194.7,270.3 195.4,270.0 195.4,269.6 195.5,269.2 195.6,268.8 195.9,268.4 195.7,267.9 195.8,267.5 196.2,267.2 196.1,266.7 196.3,266.3 196.3,265.9 196.3,265.5 196.6,265.1 196.2,264.6 196.0,265.1 196.6,265.4 196.7,265.8 196.7,266.3 196.6,266.8 196.6,267.2 196.9,267.6 197.0,268.0 196.8,268.5 196.8,268.9 197.1,269.3 196.9,269.8 197.6,270.0 197.7,270.5 197.2,271.0 197.5,271.4 197.5,271.8 197.4,272.3 197.6,272.6 198.0,273.0 198.1,273.4 198.5,273.7 198.1,274.3 198.4,274.6 198.9,274.8 198.9,275.3 199.0,275.6 199.2,276.0 199.4,276.3 198.9,277.0 199.0,277.4 199.7,277.5 200.1,277.8 200.1,278.2 200.1,278.7 200.4,279.0 200.4,279.4 200.6,279.8 200.8,280.2 200.5,280.6 200.7,281.0 200.8,281.4 201.5,281.7 201.1,282.2 200.7,282.6 201.0,283.0 200.8,283.4 201.0,283.8 201.3,284.2 201.5,284.6 201.1,285.1 201.7,285.4 201.0,285.9 201.2,286.3 201.5,286.7 201.4,287.1 201.3,287.5 201.4,287.9 201.8,288.3 201.5,288.7 201.7,289.1 201.7,289.5 201.1,290.0 201.3,290.4 201.9,290.8 201.9,291.2 202.1,291.6 202.0,292.0 202.1,292.4 202.2,292.8 202.1,293.2 202.0,293.7 202.6,294.0 202.1,294.5 202.4,294.9 201.8,295.3 201.8,295.7 202.3,296.1 202.1,296.5 202.5,296.9 202.5,297.3 202.5,297.7 202.7,298.1 202.8,298.5 203.0,298.9 203.0,299.3 202.8,299.8 203.2,300.1 203.0,300.6 202.8,301.0 202.7,301.4 202.5,301.9 202.8,302.2 203.1,302.6 202.9,303.0 203.1,303.4 202.7,303.9 203.3,304.2 203.4,304.6 203.4,305.0 203.0,305.4 203.6,305.8 203.7,306.2 203.8,306.6 203.9,307.0 203.8,307.4 203.8,307.8 203.5,308.2 203.7,308.6 203.5,309.0 203.8,309.4 203.7,309.8 203.6,310.2 203.9,310.6 204.0,311.0 203.6,311.5 204.3,311.8 203.9,312.2 204.4,312.6 204.3,313.0 204.5,313.4 204.4,313.8 204.7,314.2 204.4,314.6 205.0,314.9 204.7,315.4 204.9,315.8 204.8,316.2 204.9,316.6 204.9,317.0 205.0,317.4 204.9,317.8 204.9,318.2 205.2,318.6 205.0,319.0 205.5,318.6 205.2,318.2 205.1,317.8 205.3,317.4 205.3,317.0 205.6,316.6 205.2,316.1 205.1,315.7 205.2,315.3 205.3,314.9 205.4,314.5 205.6,314.1 205.8,313.7 205.7,313.3 205.6,312.9 205.6,312.5 205.4,312.1 205.1,311.6 205.1,311.2 205.3,310.8 205.6,310.4 205.9,310.1 205.9,309.6 205.6,309.2 205.6,308.8 205.6,308.4 205.8,308.0 206.3,307.6 206.1,307.2 205.9,306.8 205.7,306.4 206.5,306.0 205.8,305.6 206.2,305.2 205.8,304.8 206.4,304.4 206.3,304.0 206.5,303.6 205.8,303.2 205.8,302.8 206.0,302.4 206.5,302.0 206.7,301.6 206.4,301.2 206.4,300.8 206.2,300.4 206.2,300.0 205.9,299.6 206.5,299.2 205.9,298.8 206.4,298.4 206.3,298.0 206.3,297.6 206.6,297.2 207.1,296.8 206.7,296.4 206.7,296.0 206.8,295.6 206.7,295.2 206.6,294.8 206.4,294.4 206.8,294.0 207.0,293.6 206.4,293.1 206.7,292.7 206.9,292.4 207.3,292.0 207.3,291.6 207.4,291.2 207.4,290.8 207.4,290.3 207.2,289.9 207.2,289.5 208.0,289.2 207.4,288.7 207.7,288.3 207.5,287.9 207.8,287.5 207.9,287.1 207.4,286.6 207.5,286.2 208.0,285.9 208.0,285.4 207.8,285.0 207.8,284.6 208.3,284.3 208.3,283.9 207.9,283.3 207.9,282.9 208.5,282.6 208.4,282.2 208.3,281.7 208.2,281.3 208.6,281.0 208.8,280.6 209.1,281.0 208.8,281.4 208.6,281.9 208.7,282.3 209.0,282.6 208.9,283.1 209.6,283.4 209.5,283.8 209.2,284.3 209.4,284.6 209.4,285.0 209.6,285.4 209.9,285.8 209.9,286.2 210.3,286.5 210.0,287.0 210.6,287.3 210.4,287.8 210.5,288.2 209.8,288.7 210.4,289.0 210.6,289.4 210.7,289.8 211.1,290.1 210.6,290.6 210.4,291.0 210.3,291.5 210.2,291.9 210.7,292.2 210.9,292.6 210.6,293.0 210.9,293.4 211.4,293.7 211.5,294.1 211.7,294.5 211.2,295.0 211.0,295.5 211.2,295.8 211.0,296.3 211.4,296.6 211.7,297.0 211.7,297.4 211.6,297.8 211.4,298.3 211.8,298.6 211.7,299.1 212.1,299.4 211.9,299.9 212.0,300.3 212.2,300.6 212.5,301.0 212.9,301.3 213.1,301.7 212.7,302.2 212.9,302.6 213.3,302.9 213.5,303.3 213.4,303.7 212.9,304.3 213.7,304.5 213.1,305.1 213.3,305.5 213.4,305.9 213.4,306.3 213.6,306.7 214.0,307.0 213.8,307.5 214.5,307.7 214.2,308.2 215.0,308.5 215.0,308.9 214.6,309.4 214.7,309.8 214.6,310.3 214.7,310.6 214.6,311.1 215.4,311.3 215.2,311.8 214.7,311.3 214.9,311.0 215.3,310.6 215.0,310.2 215.5,309.8 215.8,309.4 215.2,309.0 215.4,308.6 215.7,308.2 215.7,307.8 215.5,307.4 215.6,307.0 215.4,306.6 216.0,306.2 216.1,305.8 216.2,305.4 215.8,305.0 215.9,304.6 215.8,304.2 216.2,303.8 216.1,303.4 216.2,303.0 216.8,302.6 216.6,302.2 216.4,301.8 216.5,301.4 216.6,301.0 216.2,300.5 216.7,300.2 216.1,299.7 217.0,299.4 216.9,299.0 216.9,298.5 217.2,298.2 216.7,297.7 216.9,297.3 217.3,296.9 217.5,296.6 217.2,296.1 217.7,295.7 217.3,295.3 216.7,294.8 216.6,294.4 216.5,294.0 216.8,293.6 216.7,293.2 216.9,292.8 217.3,292.4 217.3,292.0 217.1,291.5 217.9,291.2 218.0,290.8 217.8,290.4 217.6,290.0 217.4,289.5 217.8,289.1 217.7,288.7 218.2,288.4 218.0,287.9 217.8,287.5 218.1,287.1 217.7,286.6 217.9,286.2 218.2,285.8 218.1,285.4 218.5,285.0 219.0,284.7 218.4,284.2 218.1,284.8 218.1,285.2 218.9,285.4 219.1,285.8 219.5,286.1 219.6,286.5 219.5,287.0 220.0,287.3 219.7,287.8 220.0,288.2 219.8,288.6 220.0,289.0 220.1,289.4 220.4,289.8 220.1,290.3 220.2,290.7 220.4,291.0 220.8,291.4 220.9,291.8 221.1,292.1 221.3,292.5 221.0,293.0 221.1,293.4 221.0,293.8 221.4,294.1 221.1,294.7 221.5,295.0 221.8,295.3 221.8,295.7 222.0,296.1 222.2,296.4 222.3,296.8 222.0,297.3 222.0,297.8 222.6,298.0 222.3,297.6 222.3,297.2 222.7,296.8 222.8,296.4 223.1,296.0 222.7,295.6 223.2,295.2 222.7,294.8 223.4,294.4 223.0,294.0 223.0,293.6 222.8,293.2 223.4,292.8 223.2,292.4 223.4,292.0 222.9,291.5 223.3,291.2 223.6,290.8 223.9,290.5 224.1,290.1 223.6,289.6 223.9,289.2 224.4,288.9 224.1,288.4 223.8,288.0 224.5,287.7 223.8,287.2 223.6,286.7 224.4,286.4 224.0,286.0 224.2,285.6 224.0,285.1 224.2,284.7 224.5,284.4 224.5,284.0 224.4,283.5 223.8,283.1 224.3,282.7 223.8,282.2 224.3,281.9 225.0,281.5 224.7,281.1 224.9,280.7 225.0,280.3 224.6,279.8 224.9,279.5 224.7,279.0 224.3,278.6 225.1,278.2 224.5,277.8 225.0,277.4 225.0,277.0 224.8,276.5 224.8,276.1 224.8,275.7 225.6,275.4 225.6,275.0 225.3,274.5 225.6,274.1 225.7,273.7 225.8,273.3 225.6,272.8 225.7,272.4 226.1,272.1 226.7,271.8 226.7,271.3 226.7,270.9 226.8,270.5 226.5,270.0 226.6,269.6 226.8,269.3 227.1,268.9 226.7,268.4 227.3,268.2 226.8,267.6 227.2,267.3 227.4,266.9 227.2,266.4 227.9,266.2 227.6,265.7 227.5,265.3 228.0,265.0 228.0,264.6 228.3,264.2 228.4,263.8 228.2,263.4 228.2,263.0 228.6,262.6 228.1,262.1 228.3,261.7 228.9,261.4 228.8,261.0 228.7,260.5 228.1,260.1 228.1,259.7 228.9,259.3 228.8,258.9 228.6,258.5 228.4,258.1 228.8,257.7 228.7,257.3 229.2,256.9 229.7,256.6 229.1,256.1 229.0,255.6 229.4,255.3 228.9,254.8 228.9,254.4 229.2,254.0 229.7,253.7 229.2,253.2 229.3,252.8 229.5,252.4 229.5,252.0 229.3,251.6 229.5,251.2 229.7,250.8 229.4,250.4 229.8,250.0 229.3,249.6 229.3,249.2 229.7,248.8 229.6,248.4 230.2,248.0 229.8,247.6 230.4,247.2 230.3,246.8 230.0,246.4 229.8,246.0 230.2,245.6 230.3,245.2 230.1,244.8 230.0,244.4 230.0,244.0 229.8,243.6 229.7,243.2 229.6,242.8 230.0,242.4 230.1,242.0 230.5,241.6 230.5,241.2 230.1,240.8 229.9,240.4 229.8,240.0 230.2,239.6 230.3,239.2 230.0,238.8 230.4,238.4 230.7,238.0 230.2,237.6 230.6,237.2 230.1,236.8 230.2,236.4 230.3,236.0 229.8,235.6 229.9,235.2 230.5,234.8 229.9,234.4 230.0,234.0 230.1,233.6 230.4,233.2 230.4,232.8 230.8,232.4 230.5,232.0 230.0,231.6 230.1,231.2 230.2,230.8 230.5,230.4 230.8,230.0 230.6,229.5 231.0,229.2 231.0,228.8 230.7,228.3 231.4,228.0 231.3,227.6 231.8,227.3 231.3,226.7 231.6,226.4 231.8,226.0 231.8,225.6 232.2,225.3 231.7,224.7 232.0,224.4 232.2,224.0 232.4,223.6 232.7,223.2 232.3,222.8 232.0,222.3 232.2,221.9 232.6,221.5 232.9,221.2 232.5,220.7 233.1,220.3 232.7,219.9 232.8,219.5 232.7,219.0 232.7,218.6 233.3,218.3 233.5,217.9 233.5,217.5 233.2,217.0 233.4,216.6 233.5,216.2 233.1,215.8 232.9,215.4 233.5,215.0 233.4,214.6 233.5,214.2 233.5,213.8 233.3,213.3 233.6,212.9 233.1,212.5 232.7,212.1 232.9,211.7 233.0,211.3 232.9,210.9 233.6,210.5 233.5,210.1 233.4,209.7 232.8,209.3 233.1,208.9 233.0,208.4 233.5,208.1 233.7,207.7 233.7,207.3 233.7,206.8 233.2,206.4 233.2,206.0 233.4,205.6 234.1,205.2 234.2,204.8 233.9,204.4 233.7,204.0 233.8,203.6 234.4,203.3 233.9,202.8 234.0,202.4 233.7,202.0 234.4,201.6 233.9,201.2 234.1,200.8 234.2,200.4 234.2,200.0 234.7,199.7 234.6,199.2 234.8,198.9 234.7,198.4 233.8,198.0 234.3,197.6 234.0,197.2 234.2,196.8 234.2,196.4 234.8,196.0 234.5,195.6 234.7,196.0 234.3,196.5 234.8,196.8 234.4,197.3 235.0,197.6 234.8,198.1 234.9,198.5 234.8,198.9 235.3,199.3 235.3,199.7 235.1,200.1 235.2,200.5 235.0,201.0 235.4,201.4 235.2,201.8 235.5,202.2 235.8,202.6 235.6,203.0 235.9,203.4 235.6,203.8 235.8,204.2 235.9,204.6 235.9,205.0 236.2,205.4 236.4,205.8 236.0,206.2 235.9,206.7 235.8,207.1 236.0,207.5 235.6,207.9 235.5,208.3 235.6,208.7 235.9,209.1 235.6,209.5 235.8,209.9 236.0,210.3 236.1,210.7 235.6,211.2 235.8,211.6 235.8,212.0 236.6,212.3 236.5,212.7 236.3,213.2 236.7,213.5 236.5,214.0 236.3,214.4 236.5,214.8 236.3,215.2 236.6,215.6 236.6,216.0 236.7,215.6 236.6,215.2 236.8,214.8 236.5,214.4 236.3,214.0 237.1,213.6 237.0,213.2 236.4,212.8 236.5,212.4 236.6,212.0 237.1,211.6 236.8,211.2 236.8,210.8 237.2,210.4 236.7,210.0 236.8,209.6 236.9,209.2 236.8,208.8 236.6,208.4 237.2,208.0 236.8,207.6 236.9,207.2 237.0,206.8 237.1,206.4 237.2,206.0 237.2,205.6 237.0,205.2 237.6,204.8 237.6,204.4 237.5,204.0 237.2,203.6 237.4,203.2 237.9,202.8 237.6,202.4 237.5,202.0 237.8,201.6 237.9,201.2 237.4,200.8 237.7,200.4 237.7,200.0 237.5,199.6 237.5,199.2 237.6,198.8 237.7,198.4 237.9,198.0 238.0,197.6 237.8,197.2 237.6,196.8 237.7,196.4 238.1,196.0 238.2,195.6 238.2,195.2 237.9,194.8 238.1,194.4 237.9,194.0 238.0,193.6 237.9,193.2 238.1,192.8 238.1,192.4 238.1,192.0 238.0,191.6 238.2,191.2 238.2,190.8 238.2,190.4 238.2,190.0 238.1,189.6 238.2,189.2 238.2,188.8 238.3,188.4 238.3,188.0 238.3,187.6 238.3,187.2 238.3,186.8 238.4,186.4 238.4,186.0 238.4,185.6 238.4,185.2 238.4,184.8 238.4,184.4 238.4,184.0 238.4,183.6 238.5,183.2 238.5,182.8 238.4,182.3 238.5,181.9 238.5,181.5 238.5,181.1 238.5,180.7 238.5,180.3 238.6,179.9 238.6,179.5 238.5,179.1 238.6,178.7 238.6,178.3 238.6,177.9 238.6,177.5 238.7,177.1 238.7,176.7 238.7,176.3 238.7,175.9 238.7,175.5 238.7,175.1 238.7,174.7 238.8,174.3 238.8,173.9 238.8,173.5 238.8,173.1 238.8,172.7 238.8,172.3 238.8,171.9 238.8,171.5 238.8,171.0 238.8,170.6 238.9,170.2 238.9,169.8 238.9,169.4 238.9,169.0 238.9,168.6 238.9,168.2 238.9,167.8 238.9,167.4 239.0,167.0 239.0,166.6 239.0,166.2 239.0,165.8 239.0,166.2 239.0,166.6 239.0,167.0 239.1,167.4 239.1,167.8 239.1,168.2 239.1,168.6 239.1,169.0 239.1,169.4 239.2,169.8 239.2,170.2 239.2,170.7 239.2,171.1 239.2,171.5 239.3,171.9 239.2,172.3 239.3,172.7 239.3,173.1 239.3,173.5 239.3,173.9 239.3,174.3 239.3,174.7 239.3,175.1 239.4,175.5 239.4,175.9 239.4,176.3 239.4,176.7 239.4,177.1 239.5,177.5 239.5,177.9 239.4,178.3 239.5,178.7 239.4,179.1 239.5,179.6 239.5,180.0 239.6,180.4 239.6,180.8 239.6,181.2 239.6,181.6 239.6,182.0 239.6,182.4 239.6,182.8 239.6,183.2 239.7,183.6 239.7,184.0 239.7,184.4 239.7,184.8 239.8,185.2 240.0,185.6 239.8,186.1 239.9,186.5 239.9,186.9 240.1,187.3 239.9,187.7 240.1,188.1 240.0,188.5 240.2,188.9 239.9,189.4 240.2,189.8 240.3,190.1 240.1,190.6 240.6,190.9 240.5,191.4 240.3,191.8 240.1,192.3 240.9,192.6 240.8,193.0 241.1,193.4 240.7,193.8 241.4,194.2 241.2,194.6 240.9,195.0 241.0,195.4 241.0,195.8 241.5,196.2 240.9,196.6 241.3,197.0 240.9,197.4 241.1,197.8 240.9,198.2 241.4,198.6 241.6,199.0 241.7,199.4 241.4,199.8 241.8,200.2 241.7,200.6 241.1,201.0 241.4,201.4 241.2,201.9 241.9,202.2 241.7,202.6 241.8,203.0 242.2,203.4 242.2,203.8 241.8,204.2 242.0,204.6 242.0,205.0 242.2,205.4 242.1,205.8 241.9,206.2 241.8,206.7 242.3,207.0 243.1,207.3 242.6,207.7 243.1,208.1 243.0,208.5 243.1,208.9 242.9,209.3 242.9,209.7 242.9,210.1 242.8,210.6 243.1,210.9 242.8,211.4 243.0,211.8 243.5,212.1 243.4,212.5 243.9,212.3 244.5,212.1 244.7,211.8 244.8,211.3 244.0,210.4 244.3,210.1 244.4,209.7 245.0,209.5 244.6,208.7 245.3,208.7 245.7,208.4 245.2,207.6 245.9,207.5 246.6,207.5 246.6,207.0 246.6,207.4 246.9,207.8 247.1,208.2 246.6,208.6 246.7,209.0 246.6,209.4 247.2,209.8 247.0,210.2 246.4,210.6 247.1,211.0 246.7,211.4 247.2,211.8 246.8,212.2 247.2,212.6 246.9,213.0 247.6,213.4 247.1,213.8 247.6,214.2 247.7,214.6 247.7,215.0 247.8,215.4 247.5,215.8 247.0,216.2 247.5,216.6 247.2,217.0 247.8,217.4 247.4,217.8 247.5,218.2 248.0,218.6 247.6,219.0 247.6,219.4 247.7,219.8 247.2,220.2 247.3,220.6 247.6,221.0 247.7,221.4 247.8,221.8 247.9,222.2 247.9,222.6 247.7,223.0 247.6,223.4 247.7,223.8 247.9,224.2 248.6,224.5 248.0,225.0 247.9,225.4 247.9,225.8 247.4,226.2 247.5,226.6 247.8,227.0 247.8,227.4 248.0,227.8 247.8,228.2 248.0,228.6 248.0,229.0 248.8,229.4 248.9,229.8 248.1,230.2 248.7,230.6 248.7,231.0 248.2,231.4 248.8,231.8 248.2,232.2 248.2,232.6 248.4,233.0 248.3,233.4 248.8,233.8 248.6,234.2 248.8,234.6 248.6,235.0 248.7,235.4 249.0,235.8 249.0,236.2 248.8,236.6 248.8,237.0 249.4,237.4 249.4,237.8 249.2,238.3 248.8,238.7 249.1,239.1 249.3,239.5 249.0,240.0 248.6,240.5 248.8,240.8 249.0,241.2 248.8,241.7 248.8,242.1 249.2,242.4 249.2,242.8 249.1,243.3 249.0,243.7 249.3,244.1 249.5,244.5 249.5,244.9 249.6,245.3 249.6,245.7 249.6,246.1 249.7,246.5 249.7,246.9 249.7,247.3 249.9,247.7 249.8,248.1 250.1,248.5 249.8,248.9 250.1,249.3 249.8,249.7 250.2,250.1 249.8,250.6 250.3,250.9 249.9,251.4 250.7,251.7 250.2,252.2 250.7,252.5 250.0,253.0 251.1,253.3 250.0,253.8 250.9,254.1 250.3,254.6 251.2,255.0 250.5,255.4 251.3,255.8 249.8,256.3 250.6,256.6 249.6,257.1 250.5,257.5 249.7,257.9 250.6,258.3 249.7,258.7 251.1,259.1 250.3,259.5 251.1,259.9 250.4,260.3 251.0,260.7 250.3,261.1 250.9,261.5 250.1,262.0 251.7,262.3 250.5,262.8 251.5,263.1 250.1,263.6 251.6,263.9 251.2,264.4 252.0,264.7 250.4,265.2 251.3,265.6 250.5,266.1 251.1,266.4 250.5,266.9 251.6,267.2 250.7,267.6 251.5,268.0 250.1,268.5 251.6,268.8 251.0,269.2 251.7,269.6 250.9,270.1 252.0,270.4 251.0,270.9 252.1,271.2 251.5,271.6 252.2,272.0 251.0,272.5 252.2,272.8 251.6,273.2 252.2,273.6 251.1,274.1 252.2,274.4 251.3,274.8 252.2,275.2 250.9,275.7 251.4,275.6 252.3,275.7 251.9,274.8 253.3,275.2 252.8,274.3 253.6,274.4 253.2,273.3 254.4,273.7 254.5,273.0 253.3,273.5 254.2,273.8 253.7,274.3 254.4,274.6 253.4,275.1 254.9,275.4 253.9,275.9 255.0,276.2 254.3,276.7 255.2,276.9 254.6,277.4 255.2,277.8 254.4,278.3 255.0,278.6 254.1,279.1 255.1,279.4 253.7,280.0 255.2,280.2 254.4,280.7 255.4,281.0 254.2,281.5 255.6,281.8 254.8,282.3 256.0,282.5 254.9,283.1 255.6,283.4 254.7,283.9 256.5,284.1 255.8,284.6 257.0,284.9 256.2,285.4 257.2,285.7 256.0,286.2 257.0,286.5 255.9,287.0 256.5,287.4 255.3,287.9 256.1,288.2 255.4,288.7 256.7,289.0 256.1,289.5 256.9,289.8 255.8,290.3 256.6,290.6 255.8,291.1 257.1,291.4 256.1,291.9 256.7,292.3 256.0,292.7 257.5,293.0 256.5,293.5 257.0,293.9 255.6,294.4 256.5,294.7 255.8,295.2 257.1,295.5 256.2,296.0 257.3,296.3 256.4,296.8 257.2,297.1 256.4,297.6 257.8,297.9 257.0,298.4 258.0,298.7 256.5,299.2 257.1,299.6 256.1,300.2 256.9,300.4 256.5,300.9 257.7,301.1 257.6,301.5 258.6,301.7 257.3,302.4 258.6,302.6 257.9,303.1 258.9,303.3 258.1,303.9 259.2,304.1 257.9,304.8 258.8,305.0 257.4,305.7 258.2,306.0 257.0,306.6 258.3,306.8 257.4,307.4 258.9,307.5 258.1,308.3 259.0,308.2 258.5,309.0 259.3,309.0 258.8,309.9 260.0,309.4 259.7,310.7 260.7,309.7 260.6,310.9 261.3,310.4 261.2,311.6 262.3,310.5 262.3,311.3 263.3,310.3 263.0,311.7 263.5,311.6 263.4,312.1 264.8,312.2 263.9,312.8 265.2,313.0 263.7,313.7 264.9,313.9 264.2,314.4 264.9,314.7 263.9,315.3 264.5,315.7 264.1,316.2 265.7,316.2 264.3,316.9 265.2,317.2 264.5,317.8 265.9,317.9 265.3,318.4 265.9,318.7 264.4,319.5 265.2,319.7 264.4,320.3 265.9,320.4 265.1,321.0 266.2,321.2 265.5,321.8 266.7,321.9 265.7,322.6 266.8,322.8 265.5,323.4 266.4,323.7 266.0,324.1 267.6,324.3 266.5,324.9 267.3,325.2 266.6,325.7 267.2,326.0 266.0,326.6 267.0,326.9 265.9,327.5 267.0,327.7 266.2,328.3 267.0,328.5 266.3,329.1 267.4,329.3 266.5,329.9 267.3,330.1 266.0,330.8 267.5,330.9 266.3,331.6 267.8,331.7 266.7,332.3 268.0,332.5 267.1,333.1 268.6,333.2 267.9,333.8 269.2,333.9 268.1,334.5 268.5,334.9 267.6,335.4 268.8,335.7 267.6,336.2 268.6,336.5 267.5,337.1 268.7,337.4 268.6,337.8 269.6,338.1 268.9,338.6 269.9,338.9 268.5,339.4 269.0,339.8 267.8,340.4 269.3,340.6 268.7,341.1 269.9,341.4 269.1,341.9 270.3,342.1 268.8,342.7 269.3,343.1 268.3,343.6 269.0,343.9 268.4,344.4 269.1,344.8 267.9,345.3 269.2,345.6 268.7,346.1 270.0,346.3 269.4,346.8 270.7,347.1 269.6,347.6 270.3,348.0 269.4,348.4 270.1,348.8 269.4,349.3 270.7,349.6 269.9,350.0 270.9,350.4 270.0,350.9 270.8,351.2 269.7,351.7 270.5,352.1 269.6,352.5 270.4,352.9 269.6,353.3 270.4,353.7 269.3,354.2 270.0,354.6 268.9,355.0 270.3,355.4 269.7,355.8 271.2,356.1 270.3,356.6 271.2,357.0 270.0,357.4 270.4,357.8 269.4,358.3 271.1,358.6 270.6,359.0 271.5,359.4 270.4,359.9 271.2,360.2 270.0,360.7 271.0,361.1 270.8,361.5 270.0,361.0 270.5,360.7 270.2,360.2 270.6,359.8 270.3,359.4 270.7,359.0 270.6,358.6 271.0,358.2 270.9,357.8 271.0,357.4 271.0,356.9 271.0,356.5 271.2,356.1 271.2,355.7 271.1,355.3 271.4,354.9 271.4,354.5 271.2,354.1 271.3,353.6 271.2,353.2 271.0,352.8 271.0,352.3 271.6,352.0 271.4,351.6 271.8,351.2 271.2,350.7 271.9,350.4 271.7,350.0 272.2,349.6 272.1,349.2 271.5,348.8 271.7,348.4 272.1,348.0 271.8,347.6 271.7,347.2 271.6,346.7 272.3,346.4 272.1,346.0 272.5,345.6 272.4,345.2 272.5,344.8 272.9,344.5 273.1,344.1 271.9,343.5 271.8,343.1 272.9,342.8 272.8,342.4 272.6,342.0 272.9,341.6 273.1,341.2 273.2,340.8 272.8,340.4 273.3,340.1 273.0,339.6 272.8,339.2 273.9,338.9 273.7,338.5 273.0,338.0 274.3,337.8 273.6,337.3 273.9,336.9 273.3,336.4 273.9,336.1 273.4,335.6 274.3,335.3 274.3,334.9 274.1,334.5 273.7,334.0 273.9,333.6 273.6,333.1 274.1,332.8 273.6,332.3 273.8,331.9 274.2,331.6 275.1,331.4 274.2,330.8 274.6,330.4 274.5,330.0 273.8,329.4 273.9,329.0 274.9,328.9 274.7,328.4 274.5,327.9 275.1,327.7 276.0,327.5 275.2,326.9 275.2,326.4 275.2,326.0 275.8,325.8 275.7,325.3 276.0,325.0 276.7,324.8 276.5,324.3 276.5,323.8 276.6,323.4 276.6,323.0 276.7,322.6 277.2,322.3 276.7,321.7 277.5,321.5 276.9,320.8 278.0,320.8 277.7,320.2 278.7,320.1 277.6,319.2 278.2,319.0 277.8,318.3 278.9,318.3 278.8,317.8 277.8,317.5 279.1,317.7 277.8,318.3 279.2,318.5 278.2,319.1 279.0,319.3 278.1,319.9 279.4,320.1 278.4,320.7 279.6,320.9 279.1,321.4 280.5,321.5 279.8,322.1 280.7,322.3 280.1,322.9 281.1,323.1 280.3,323.6 281.1,323.9 280.2,324.5 281.2,324.7 280.2,325.3 281.4,325.5 280.0,326.2 280.9,326.4 280.4,327.0 281.7,327.1 280.8,327.7 282.1,327.9 280.9,328.5 281.7,328.8 280.7,329.3 281.4,329.7 280.2,330.2 281.2,330.5 280.6,331.0 281.4,331.3 280.9,331.8 281.8,332.1 281.3,332.5 281.6,332.9 281.2,333.4 281.6,333.7 281.4,334.1 281.7,334.5 281.5,334.9 281.6,335.3 281.6,335.7 281.7,336.1 281.7,336.5 281.7,337.0 281.8,337.4 281.7,337.8 281.8,338.2 281.9,338.6 281.7,339.0 281.8,339.4 282.0,339.8 281.9,340.2 282.0,340.6 281.8,341.0 282.1,341.4 282.1,341.8 282.0,342.2 282.0,342.6 281.8,343.0 282.3,343.4 282.0,343.8 282.0,344.2 282.2,344.6 282.5,345.0 282.2,345.4 282.4,345.8 282.6,346.2 282.7,346.6 282.3,347.1 282.1,347.5 282.2,347.9 283.1,348.2 282.5,348.7 282.6,349.1 283.1,349.4 282.8,349.9 283.8,350.2 283.5,350.6 283.1,351.1 282.7,351.5 283.2,351.9 283.6,352.3 282.9,352.7 283.5,353.1 283.4,353.5 283.6,353.9 283.2,354.3 282.9,354.8 283.4,355.1 282.9,355.6 283.1,356.0 283.7,356.3 282.4,356.8 283.4,357.2 283.0,357.6 283.4,358.0 282.3,358.5 283.4,358.8 283.7,359.2 283.6,359.6 283.6,360.0 282.7,360.5 283.6,360.8 284.7,361.1 284.4,361.5 283.9,362.0 284.2,362.4 283.8,362.8 282.8,363.3 283.4,363.6 283.8,364.0 283.3,364.4 283.9,364.8 283.3,365.2 283.0,365.7 283.8,366.0 283.2,366.4 284.1,366.8 284.0,367.2 284.4,367.6 283.9,368.0 284.2,368.4 284.6,368.8 284.4,369.2 283.7,369.6 283.8,370.0 285.1,370.3 284.5,370.8 284.7,371.2 284.5,371.6 284.3,372.0 284.3,372.4 284.9,372.7 284.7,373.2 284.4,373.6 284.7,374.0 283.8,374.5 284.3,374.8 284.2,375.3 284.3,375.7 284.1,376.1 284.9,376.4 284.0,376.9 285.0,377.2 285.0,377.6 284.5,378.1 284.5,378.5 285.3,378.8 284.4,379.3 285.9,379.5 284.5,380.1 285.7,380.4 286.1,380.7 285.1,381.2 286.1,381.5 285.2,382.0 286.3,382.3 286.3,382.7 286.0,383.2 286.3,383.5 285.8,384.0 285.6,384.4 285.8,384.8 285.2,385.3 286.0,385.6 285.9,386.0 286.3,386.4 286.9,386.7 285.5,387.3 285.9,387.7 286.8,388.0 287.0,388.4 287.4,388.7 287.1,389.2 287.4,389.5 287.5,389.9 287.1,390.4 287.7,390.7 287.1,391.2 287.1,391.6 286.5,392.1 287.5,392.4 286.7,392.9 287.2,393.3 287.1,393.7 287.6,394.0 287.3,394.5 287.2,395.0 287.6,395.3 287.5,395.7 287.8,396.1 288.1,396.4 288.0,396.9 288.0,397.3 288.1,397.7 288.3,398.1 288.3,398.5 288.9,398.8 288.4,399.3 288.7,399.7 287.8,400.3 288.6,400.5 289.2,400.1 288.5,399.6 289.1,399.3 288.6,398.8 289.3,398.5 289.1,398.1 289.3,397.7 289.1,397.2 289.3,396.9 289.3,396.4 289.4,396.0 289.4,395.6 289.6,395.2 289.5,394.8 289.9,394.5 289.8,394.0 289.5,393.6 289.8,393.2 289.9,392.8 290.2,392.4 290.0,392.0 289.8,391.6 290.3,391.2 290.1,390.8 289.7,390.3 290.6,390.0 290.9,389.6 290.4,389.1 290.8,388.7 290.9,388.3 290.9,387.9 289.9,387.4 290.6,387.1 290.0,386.6 290.6,386.2 290.5,385.8 290.3,385.3 290.9,385.0 290.8,384.6 291.1,384.2 291.4,383.8 291.2,383.4 291.4,383.0 291.0,382.5 291.3,382.1 291.1,381.7 291.4,381.3 291.5,380.9 291.2,380.4 291.2,380.0 291.8,379.7 291.8,379.3 292.1,378.9 292.5,378.6 292.5,378.2 292.6,377.8 292.6,377.4 291.9,376.8 292.6,376.5 293.3,376.2 292.3,375.6 292.5,375.2 291.7,374.7 291.6,374.2 292.6,374.0 293.0,373.7 292.4,373.1 293.6,373.0 293.9,372.7 293.9,372.2 293.1,371.6 294.0,371.4 293.6,370.9 294.0,370.6 294.6,370.3 294.2,369.8 294.3,369.4 293.5,368.7 293.3,368.2 294.0,368.0 294.3,367.7 294.5,367.3 294.3,367.7 295.2,368.0 294.3,368.6 294.5,369.0 295.0,369.3 294.5,369.8 295.0,370.1 295.1,370.5 295.9,370.8 294.9,371.4 294.8,371.8 295.1,372.2 295.2,372.6 295.3,373.0 295.6,373.4 295.7,373.8 295.6,374.2 295.3,374.7 295.7,375.0 296.1,375.4 295.9,375.8 295.7,376.3 296.4,376.6 296.5,377.0 296.1,377.4 296.5,377.8 295.6,378.4 296.3,378.7 295.7,379.2 296.3,379.5 296.3,379.9 296.9,380.2 296.8,380.7 296.6,381.1 296.8,381.5 296.8,381.9 296.7,382.4 296.9,382.7 296.9,383.2 297.0,383.6 296.8,384.0 297.1,384.4 296.7,384.9 297.5,385.1 296.6,385.7 297.4,386.0 296.4,386.6 297.8,386.8 297.1,387.4 298.6,387.5 297.6,388.1 298.3,388.4 297.3,389.0 299.1,389.1 298.4,389.7 299.4,389.9 298.6,390.5 299.3,390.8 298.1,391.4 298.8,391.7 297.8,392.3 298.8,392.6 299.3,393.5 298.5,392.2 299.6,392.7 299.6,392.1 300.7,392.6 300.2,391.5 300.8,391.6 299.7,390.8 301.2,390.7 301.0,390.2 302.0,390.0 300.5,389.3 301.9,389.1 300.4,388.5 301.6,388.3 300.9,387.7 301.4,387.4 300.5,386.9 301.1,386.5 300.5,386.0 301.6,385.8 300.9,385.3 302.0,385.0 301.6,384.6 302.4,384.3 301.8,383.8 302.3,383.5 301.8,383.0 302.9,382.7 301.8,382.1 302.6,381.9 301.6,381.3 303.1,381.1 302.2,380.5 303.1,380.3 301.9,379.7 302.5,379.4 302.2,378.9 303.2,378.6 302.5,378.1 303.4,377.8 302.4,377.3 303.3,377.0 303.2,376.5 303.7,376.2 302.9,375.7 303.3,375.3 302.6,374.8 303.5,374.5 303.9,374.8 303.2,375.3 303.9,375.7 303.1,376.2 303.9,376.5 303.5,377.0 304.6,377.2 304.0,377.7 304.6,378.0 303.4,378.6 304.4,378.9 303.8,379.4 304.6,379.7 303.5,380.3 304.1,380.6 303.6,381.1 304.7,381.3 304.5,381.8 305.5,382.0 304.7,382.6 305.8,382.8 304.8,383.4 305.4,383.7 304.2,384.3 305.0,384.6 303.9,385.2 304.8,385.5 304.1,386.0 305.9,386.1 305.0,386.7 306.1,386.9 304.7,387.5 305.9,387.8 305.5,388.2 306.3,388.5 304.9,389.1 305.3,389.5 304.4,390.0 305.6,390.3 304.3,390.9 305.8,391.1 306.2,392.3 306.0,390.9 307.0,392.2 306.8,390.8 307.7,391.8 307.3,389.9 308.9,391.2 308.2,390.2 309.4,390.6 308.7,389.5 309.6,389.7 308.8,388.6 309.8,388.8 309.2,387.8 309.5,388.2 311.1,388.0 309.7,389.0 311.2,388.9 310.4,389.6 311.6,389.6 311.2,390.2 312.2,390.2 311.7,390.9 312.6,391.0 311.8,391.7 312.7,391.8 311.7,392.7 312.7,392.6 312.1,393.4 313.3,393.2 312.4,394.2 313.1,394.2 312.4,395.1 314.2,394.5 313.3,395.5 314.2,395.4 313.2,396.5 313.9,396.6 313.4,397.5 314.8,397.0 314.2,398.0 315.6,397.5 315.2,398.3 315.9,398.4 315.3,399.1 316.3,399.3 315.3,400.0 316.4,400.2 316.0,400.7 316.8,401.0 315.6,401.8 316.7,401.9 315.8,402.6 316.9,402.8 317.6,402.5 317.2,402.0 317.8,401.7 317.1,401.2 317.4,400.8 316.6,400.3 317.2,400.0 316.5,399.4 317.8,399.2 317.0,398.7 317.6,398.4 316.9,397.8 317.8,397.6 317.2,397.0 318.0,396.8 317.1,396.2 317.9,396.0 317.5,395.5 318.6,395.2 318.4,394.8 318.7,394.4 318.5,393.9 318.7,393.5 318.6,393.1 318.7,392.7 318.7,392.3 318.8,391.9 319.1,391.5 319.2,391.1 318.8,390.6 319.2,390.3 318.6,389.8 319.2,389.4 319.2,389.0 319.7,389.3 319.5,389.8 319.7,390.2 319.9,390.6 320.5,390.9 320.7,391.3 320.1,391.9 320.1,392.3 320.9,392.6 319.9,393.2 319.8,393.7 320.4,394.0 320.4,394.4 320.3,394.8 320.3,395.2 320.2,395.7 320.5,396.0 320.5,396.5 320.1,396.9 320.4,397.3 320.9,397.6 320.5,398.1 321.0,398.4 321.2,398.8 321.2,399.2 321.3,399.6 321.4,400.0 321.7,400.4 321.3,400.9 321.2,401.3 321.7,401.7 321.4,402.2 322.3,402.5 321.9,403.0 321.6,403.4 321.7,403.8 322.3,404.2 322.7,404.6 321.7,405.1 322.2,405.5 322.6,405.2 322.9,405.0 322.7,404.4 322.3,403.7 322.7,403.5 322.7,403.0 323.5,403.0 323.8,402.7 324.0,402.3 324.5,402.1 324.4,401.6 324.6,401.2 324.0,400.6 325.1,400.6 324.8,400.0 325.3,399.9 325.6,399.6 325.4,398.3 326.4,399.0 326.1,397.9 327.7,399.3 328.3,399.4 328.4,398.9 328.2,397.8 328.5,397.5 329.3,397.7 330.0,397.8 330.1,397.3 330.8,397.3 329.8,395.8 331.0,396.3 330.4,395.2 330.8,395.0 331.8,395.5 331.6,394.6 331.1,393.4 332.1,393.9 333.0,394.3 333.7,394.4 333.0,393.0 333.2,392.5 333.9,392.9 334.4,393.0 334.2,391.7 335.7,393.7 336.1,393.6 335.7,391.9 336.0,391.5 336.7,391.7 337.1,392.0 337.2,392.5 337.1,393.0 336.9,393.6 337.2,394.0 337.1,394.5 337.6,394.7 337.3,395.2 337.9,395.5 337.8,396.0 338.3,396.2 338.0,396.8 338.4,397.0 338.3,397.5 338.8,397.8 338.4,398.3 339.0,398.6 338.9,399.1 338.7,399.5 338.7,400.0 339.1,400.3 339.0,400.7 338.8,401.2 339.3,401.5 339.6,401.9 339.1,402.4 339.0,402.8 338.6,403.3 339.4,403.6 339.5,404.0 339.7,404.4 339.5,404.9 339.2,405.3 339.4,405.7 340.0,406.0 339.8,406.5 340.3,406.6 340.8,406.8 340.9,407.6 341.5,407.5 341.9,407.5 342.3,407.7 342.7,407.7 343.1,407.9 343.5,408.0 343.9,407.9 344.3,407.7 344.7,407.7 345.1,407.4 345.5,407.7 345.9,408.3 346.3,407.9 346.7,408.2 347.1,408.3 347.5,408.0 347.8,408.4 348.2,408.5 348.6,408.5 349.0,408.8 349.5,408.3 349.8,408.7 350.3,408.2 350.7,408.4 351.1,408.2 351.5,408.2 351.9,408.6 352.4,408.1 352.6,409.0 353.1,408.6 353.3,409.7 353.7,409.9 354.1,409.6 354.5,409.8 355.0,409.3 355.5,409.7 355.8,409.2 356.3,409.6 356.6,408.9 357.1,409.1 357.4,408.6 357.8,408.6 358.1,408.1 358.5,408.0 358.9,408.2 359.3,408.0 359.7,408.0 360.1,407.6 360.5,407.8 361.0,408.0 361.3,407.7 361.3,407.2 361.8,407.0 362.1,406.8 362.1,406.3 362.4,406.0 362.5,405.6 362.8,405.2 363.1,404.9 363.3,404.6 363.7,404.3 364.2,404.5 364.4,404.8 364.7,405.1 364.6,405.7 365.0,406.0 365.3,406.3 365.4,406.9 365.9,407.1 366.3,407.3 366.8,407.4 367.2,407.1 367.7,407.0 368.1,406.9 368.5,406.6 368.8,406.3 369.2,406.2 369.4,405.7 369.9,405.7 369.8,405.1 370.4,405.1 370.6,404.7 370.8,404.3 371.0,404.8 371.4,405.1 371.7,405.6 372.3,405.6 372.4,406.3 373.1,406.0 373.3,406.4 373.8,406.5 374.1,407.0 374.6,406.9 374.9,407.2 375.4,407.2 375.7,407.8 376.2,407.7 376.5,407.9 377.0,408.0 377.5,407.8 378.0,408.1 378.4,408.1 378.8,407.9 379.2,407.4 379.6,407.7 380.0,407.5 380.5,407.5 381.0,408.1 381.3,407.3 381.6,407.0 381.6,406.5 382.0,406.3 382.0,405.8 382.5,405.6 382.5,405.1 382.7,404.7 383.4,404.7 384.0,404.6 383.5,403.8 384.0,403.6 383.9,403.1 384.3,402.8 384.2,402.3 384.4,401.9 384.3,401.5 384.7,401.2 385.0,400.9 385.0,400.4 385.6,400.3 385.4,399.7 385.9,399.5 386.1,399.1 386.4,398.8 386.2,398.3 386.3,397.9 386.5,397.5 386.9,397.2 386.6,396.7 386.7,396.3 386.5,395.8 387.0,395.5 387.2,395.2 387.7,394.9 387.8,394.5 387.5,394.0 387.6,393.6 387.3,393.1 387.7,392.8 387.8,392.4 387.7,392.0 388.3,391.7 387.9,391.2 388.1,390.8 388.2,390.4 388.5,390.1 388.0,389.6 388.2,389.2 388.7,388.9 388.8,388.5 389.0,388.1 389.4,387.9 388.7,387.1 389.0,386.7 389.3,386.4 389.9,386.2 389.6,385.6 390.3,385.5 390.6,385.9 390.5,386.6 390.7,387.1 391.2,387.2 392.2,386.8 392.2,387.5 392.5,387.8 392.8,387.1 393.2,386.8 393.7,387.2 394.4,388.1 394.7,387.5 394.9,386.3 395.5,387.0 395.9,386.7 396.2,386.5 397.2,387.1 397.3,386.4 397.4,385.8 397.8,385.5 398.3,385.3 398.6,384.9 398.3,384.4 398.3,384.0 398.4,383.6 398.8,383.3 398.9,382.9 399.0,382.5 399.2,382.1 399.6,381.7 399.4,381.2 399.3,380.6 399.8,380.3 399.8,380.7 399.7,381.2 400.4,381.4 400.2,381.9 400.4,382.2 400.0,382.7 400.6,383.0 400.6,383.5 400.6,384.0 400.9,384.3 401.0,384.7 401.4,385.1 401.5,385.5 401.6,385.9 401.5,386.5 401.8,386.8 402.2,387.0 402.6,387.3 402.4,387.9 403.3,387.9 402.7,388.7 402.7,389.1 403.0,389.5 403.0,389.9 403.8,390.0 403.9,390.4 404.1,390.8 404.4,391.1 404.7,391.4 404.9,391.8 404.6,392.4 405.0,392.6 405.5,392.9 405.5,393.4 405.9,393.6 406.2,394.0 406.0,394.5 406.3,394.2 406.5,393.8 406.8,393.5 407.1,393.2 407.0,392.7 407.1,392.2 407.2,391.8 407.5,391.5 407.6,391.1 407.9,390.7 408.0,390.3 407.6,389.8 408.1,389.5 407.9,389.0 407.8,388.6 408.3,388.3 408.3,387.8 408.0,387.4 408.3,387.0 408.5,386.6 408.4,386.2 408.1,385.7 408.5,385.3 408.6,384.9 408.3,384.4 409.0,384.1 408.7,383.7 409.0,383.3 409.6,383.6 409.6,384.0 409.6,384.5 409.6,384.9 409.8,385.3 409.9,385.7 409.5,386.2 409.4,386.7 409.8,387.0 409.8,387.4 410.1,387.8 409.8,388.4 410.5,388.6 410.6,389.1 410.8,389.5 410.5,390.0 411.0,389.9 411.4,389.6 411.9,389.0 412.3,389.7 412.8,390.0 413.2,390.3 413.2,390.7 412.7,391.3 412.8,391.6 413.4,391.9 413.1,392.4 413.3,392.8 413.3,393.2 413.2,393.6 413.4,394.0 413.3,394.4 413.7,394.8 413.6,395.2 414.1,395.5 413.5,396.0 414.0,396.3 413.7,396.8 413.9,397.2 414.3,397.5 414.6,397.8 415.0,398.1 415.4,398.2 415.7,398.6 415.9,399.1 416.5,399.0 417.3,398.9 417.3,399.4 417.3,399.9 417.2,400.5 417.7,400.6 417.8,401.0 418.0,401.4 418.6,401.4 418.8,401.8 419.0,402.2 419.5,402.3 419.5,402.8 419.9,403.0 420.2,403.3 420.5,403.7 421.2,403.4 421.6,403.6 421.9,403.9 422.2,404.4 422.6,404.4 422.7,405.2 423.3,405.0 423.7,405.0 424.1,405.2 424.6,405.0 425.1,404.8 425.4,405.4 425.7,405.8 426.2,405.5 426.5,406.3 427.0,405.8 427.4,405.9 427.8,405.7 428.2,405.2 428.6,405.4 429.0,405.5 429.5,405.7 429.9,405.3 430.3,405.7 430.7,405.6 431.1,405.8 431.5,405.8 431.9,405.6 432.2,405.3 432.7,405.2 432.9,404.8 432.9,404.1 433.5,404.1 433.8,403.8 434.1,404.1 434.3,404.5 434.5,404.9 435.1,404.8 435.3,405.3 435.9,405.2 436.0,405.6 436.6,405.5 436.8,406.0 437.2,406.3 437.6,406.1 438.0,406.1 438.4,406.3 438.8,406.3 439.2,406.2 439.6,406.7 440.0,406.7 440.4,406.3 440.8,406.6 441.1,407.3 441.6,406.8 442.0,406.8 442.4,406.7 442.8,407.0 443.2,406.9 443.6,407.4 444.0,407.3 444.5,406.6 444.8,406.8 445.2,406.8 445.6,407.2 446.0,407.1 446.4,407.4 446.8,407.4 447.3,406.6 447.7,406.6 448.0,407.5 448.6,406.8 448.9,407.1 449.3,407.1 449.7,407.5 450.1,407.5 450.4,407.9 450.8,408.2 451.2,408.4 451.6,408.1 452.0,408.6 452.4,408.3 452.8,408.8 453.1,409.0 453.5,409.1 454.0,408.8 454.2,408.4 454.5,408.1 455.1,408.0 455.2,407.5 455.6,407.2 455.8,406.8 456.2,406.9 456.6,407.5 457.1,407.0 457.4,407.5 457.9,407.4 458.3,407.0 458.8,407.0 459.1,407.8 459.5,408.2 460.0,407.5 460.4,407.9 460.8,407.5 461.2,407.4 461.6,407.9 461.9,408.2 462.4,407.8 462.8,407.8 463.1,408.5 463.6,408.0 464.0,407.9 464.4,407.8 464.8,408.1 465.2,408.4 465.6,408.0 466.0,408.3 466.3,408.5 466.9,408.4 467.2,408.6 467.4,409.1 467.7,409.5 468.2,409.5 468.6,409.6 468.9,409.8 469.3,410.0 469.8,409.8 469.8,410.5 470.3,410.7 470.8,410.7 471.4,410.6 471.6,411.1 472.0,411.3 472.4,411.3 472.8,411.0 473.5,411.8 473.8,411.1 474.4,411.5 474.5,410.5 475.0,410.5 475.4,410.4 475.8,410.8 476.2,410.8 476.6,410.9 477.0,410.9 477.5,410.7 477.8,411.4 478.2,411.4 478.7,411.3 479.1,411.4 479.5,411.3 479.5,411.9 480.0,412.1 480.3,412.3 480.7,412.6 480.8,413.1 481.1,413.4 481.6,413.6 481.8,414.0 482.0,414.6 482.8,414.1 483.0,414.6 483.5,414.5 483.5,415.3 484.0,415.4 484.6,415.2 484.8,415.8 485.4,415.2 485.8,415.2 486.3,415.3 486.6,415.8 487.2,415.2 487.4,416.4 487.8,416.5 487.9,417.8 488.8,416.2 489.0,417.3 489.5,416.8 489.8,417.7 490.3,417.5 490.8,417.3 491.2,417.1 491.5,416.7 491.5,416.1 491.5,415.5 492.3,415.6 492.6,415.2 493.0,415.0 493.4,414.8 493.9,414.5 494.3,415.0 494.7,415.1 495.1,415.1 495.6,415.0 496.0,415.0 496.4,414.6 496.8,415.3 497.2,415.1 497.7,415.4 498.0,415.3 498.4,414.5 498.8,415.0 499.2,414.6 499.6,414.9 500.0,414.6 500.4,414.7 500.8,414.6 501.2,414.0 501.7,414.4 502.1,414.2 502.5,414.7 503.0,414.6 503.4,414.8 503.8,414.9 504.2,414.1 504.6,413.8 505.0,414.0 505.4,414.6 505.9,414.1 506.3,414.1 506.7,414.5 507.1,414.7 507.6,414.3 508.0,414.3 508.2,414.9 508.9,414.3 509.2,414.7 509.4,415.1 509.9,415.0 510.2,415.4 510.5,415.6 511.0,415.5 511.4,415.6 511.9,415.5 512.2,416.0 512.8,415.4 513.0,416.5 513.4,416.7 514.0,416.3 514.2,416.7 514.6,417.0 515.2,417.0 515.4,417.5 515.8,417.8 516.1,417.5 516.4,417.1 516.9,417.0 517.1,416.5 517.3,416.1 517.8,416.0 518.4,416.5 518.8,416.4 519.1,415.8 519.4,415.5 519.8,415.1 520.1,414.9 520.7,415.2 521.1,415.3 521.5,415.0 521.9,414.9 522.4,415.2 522.8,415.0 523.2,414.9 523.6,415.3 524.0,414.7 524.4,414.9 524.8,415.0 525.2,414.8 525.6,414.4 526.0,414.3 526.4,414.7 526.9,414.4 527.3,414.3 527.7,414.5 528.2,414.5 528.6,414.8 529.0,414.2 529.4,413.5 529.8,414.5 530.2,414.2 530.6,414.0 531.0,414.3 531.4,414.2 531.8,414.2 532.2,413.9 532.6,414.6 533.0,414.3 533.4,414.4 533.8,414.8 534.2,414.2 534.6,414.9 535.0,414.2 535.4,414.1 535.7,413.8 536.0,413.4 536.3,413.2 536.7,413.0 537.2,413.0 537.7,413.2 537.9,412.5 538.3,412.4 538.7,412.3 539.1,412.3 539.4,411.8 539.8,411.8 540.2,411.9 540.7,411.5 541.1,411.4 541.4,411.9 541.8,412.0 542.3,411.5 542.7,411.5 543.0,412.2 543.4,412.4 543.6,412.0 544.4,412.2 544.6,411.8 544.5,411.1 544.9,410.9 545.0,410.4 545.5,410.3 546.2,410.4 546.4,410.0 546.9,409.9 547.3,409.7 547.7,409.5 547.6,408.8 547.7,409.3 548.1,409.5 548.4,409.9 548.6,410.3 548.9,410.6 549.2,410.9 549.0,411.5 549.4,411.8 549.9,411.2 550.4,411.2 550.8,411.5 551.3,412.0 551.8,411.8 551.7,411.2 552.1,410.9 552.4,410.7 552.7,410.3 553.2,410.2 553.8,410.1 553.6,409.4 554.1,409.3 554.2,408.8 554.5,408.5 555.1,408.6 555.6,408.6 555.6,407.6 556.2,407.8 556.6,407.6 556.5,406.3 557.5,407.3 557.9,407.0 558.3,406.7 558.0,406.1 558.1,405.7 558.3,405.3 558.4,404.9 559.0,404.7 559.1,404.3 559.4,403.9 559.4,403.4 559.5,403.0 559.4,402.6 559.7,402.2 559.9,401.8 560.4,401.7 560.1,400.9 560.7,400.8 560.9,400.5 561.8,400.7 561.8,400.1 562.2,399.9 562.0,399.2 562.4,399.0 563.2,399.6 563.5,399.1 564.1,399.2 564.4,398.9 564.5,398.0 565.0,397.7 564.9,397.2 565.0,396.8 565.3,396.5 565.0,395.9 565.7,395.7 565.6,395.2 565.5,394.7 565.6,394.3 565.6,393.9 566.0,393.5 566.3,393.2 567.0,392.9 567.1,392.5 566.7,392.0 566.7,391.6 567.1,391.3 567.0,390.8 567.3,390.5 567.1,390.0 567.6,389.7 567.7,389.3 567.5,388.9 567.7,388.5 567.9,389.0 568.2,389.4 568.7,389.6 568.8,389.1 569.6,389.5 570.1,389.4 570.0,388.6 570.3,388.2 570.0,387.6 570.5,387.3 570.7,386.9 571.0,386.5 571.0,386.0 571.2,385.5 572.2,386.2 572.3,385.5 572.5,385.0 572.6,384.6 573.5,384.6 573.5,384.0 573.5,383.6 573.5,383.0 573.7,382.7 574.3,382.5 574.3,382.0 574.0,381.5 574.4,381.1 574.5,380.7 575.0,380.3 574.7,379.8 574.6,379.3 575.2,379.0 575.1,378.5 575.2,378.1 575.5,377.7 575.5,377.2 575.6,376.8 575.4,376.3 576.1,376.0" stroke="#ff0000"/>
<path class="ln" d="M90.4,168.6 90.8,168.5 91.1,168.1 91.4,167.9 91.8,167.7 92.2,167.5 92.6,167.4 93.0,167.2 93.3,166.8 93.8,166.8 94.2,166.5 94.8,166.5 95.0,166.0 95.5,166.1 95.7,165.6 95.9,165.1 96.4,165.2 96.6,165.7 97.0,166.2 97.2,165.7 97.6,165.5 97.9,165.1 98.0,164.6 98.5,164.7 99.1,165.1 99.6,164.6 99.8,164.1 100.4,164.0 100.8,163.7 101.0,163.2 101.6,163.5 101.9,163.3 102.2,162.8 102.6,162.5 103.0,162.4 103.2,162.0 103.3,161.5 103.4,161.1 103.6,160.7 103.8,160.3 104.2,160.0 104.1,159.5 104.6,159.2 104.6,158.7 104.8,158.4 105.2,158.1 105.2,157.6 105.2,158.0 105.5,158.4 105.7,158.8 105.6,159.2 105.7,159.6 105.5,160.1 105.8,160.4 105.7,160.9 106.1,161.2 106.3,161.6 106.0,162.1 106.4,162.4 106.5,161.9 107.1,161.8 107.2,161.3 107.4,160.8 108.0,160.8 108.6,160.7 108.8,160.4 109.3,160.2 109.2,159.6 109.4,159.2 109.9,159.0 110.2,158.7 110.3,158.2 110.8,158.1 110.8,157.5 111.1,157.2 111.1,156.7 110.9,156.2 111.2,155.9 111.4,155.5 111.4,155.1 111.5,154.7 111.6,154.3 112.0,154.0 112.1,153.6 112.0,153.1 112.5,152.7 112.4,152.2 112.8,151.9 113.0,151.5 113.0,151.0 113.1,150.5 113.3,150.0 113.8,149.8 114.2,149.2 114.9,149.4 115.4,149.3 115.8,149.7 116.2,149.8 116.3,150.2 116.6,150.6 116.7,150.9 116.5,151.4 116.6,151.8 116.7,152.2 116.8,152.6 117.0,153.0 117.0,153.4 117.2,153.8 117.3,154.2 117.7,154.6 117.4,155.1 117.6,155.4 117.9,155.8 117.9,156.2 117.8,156.7 118.0,157.1 117.9,157.5 117.9,157.9 118.3,158.2 118.3,158.7 118.3,159.1 118.1,159.5 118.5,159.8 118.3,160.3 118.4,160.7 118.6,161.0 118.3,161.5 118.4,161.9 118.4,162.3 118.7,162.6 119.0,163.0 119.3,163.4 119.3,163.8 119.0,164.2 119.5,164.6 119.2,165.0 119.5,165.4 119.4,165.8 119.1,166.2 119.0,166.6 119.0,167.0 119.3,167.4 119.3,167.8 119.1,168.2 119.2,168.6 119.6,169.0 120.0,169.4 119.3,169.8 119.9,170.2 119.9,170.6 119.5,171.0 119.8,171.4 119.2,171.8 119.2,172.2 119.7,172.6 119.3,173.0 119.2,173.4 119.3,173.8 118.9,174.2 119.3,174.6 119.8,175.0 119.6,175.4 119.4,175.8 119.6,176.2 120.2,176.6 119.8,177.0 120.2,177.4 119.9,177.8 120.1,178.2 120.1,178.6 119.7,179.0 119.9,179.4 119.7,179.9 120.1,180.2 119.8,180.7 120.5,181.0 119.9,181.5 120.5,181.9 120.1,182.3 120.1,182.7 120.4,183.1 120.2,183.5 120.5,183.9 120.5,184.3 120.9,184.7 120.6,185.1 120.2,185.5 120.2,185.9 120.5,186.3 120.4,186.7 119.9,187.2 120.7,187.5 120.4,188.0 120.5,188.4 120.6,188.8 120.9,189.2 120.9,189.6 120.5,190.0 120.4,190.4 120.8,190.8 121.0,191.2 120.7,191.6 120.9,192.0 120.9,192.4 120.3,192.9 120.5,193.3 121.1,193.7 121.2,194.1 121.5,194.4 121.5,194.9 121.3,195.3 121.1,195.7 121.2,196.1 120.8,196.6 120.6,197.0 121.1,197.4 121.6,197.7 121.7,198.2 121.4,198.6 121.6,199.0 122.1,199.4 121.5,199.8 122.2,200.2 122.1,200.6 121.2,201.1 121.7,201.4 121.6,201.8 121.7,202.2 122.1,202.6 122.1,203.0 122.0,203.4 121.7,203.9 121.6,204.3 121.7,204.7 122.1,205.0 121.8,205.5 121.4,205.9 122.0,206.3 121.9,206.7 121.7,207.1 121.6,207.5 122.5,207.8 122.1,208.3 122.2,208.7 122.1,209.1 121.9,209.5 122.5,209.9 122.1,210.3 122.3,210.7 122.0,211.1 122.5,211.5 123.4,211.7 123.3,210.9 123.6,210.5 123.6,209.6 124.4,209.9 124.8,209.5 124.5,209.9 124.7,210.3 124.6,210.8 124.4,211.2 125.0,211.5 124.7,212.0 124.8,212.4 125.5,212.7 125.1,213.2 125.7,213.5 125.3,214.0 125.5,214.4 125.2,214.8 125.2,215.2 125.2,215.6 125.6,216.0 125.5,216.4 125.5,216.8 125.5,217.2 125.5,217.6 126.0,218.0 125.6,218.4 126.2,218.8 125.9,219.2 126.0,219.6 125.9,220.0 126.1,220.4 126.7,220.7 126.2,221.2 126.1,221.6 126.3,222.0 126.3,222.4 126.1,222.9 126.4,223.3 126.3,223.7 126.7,224.1 126.4,224.5 126.5,224.9 126.6,225.3 126.1,225.8 126.9,226.1 126.8,226.6 127.1,227.0 126.6,227.4 126.2,227.9 126.4,228.3 126.4,228.7 126.4,229.1 127.0,229.5 126.8,230.0 126.6,230.6 126.9,230.9 127.6,231.1 127.9,231.5 128.0,231.9 128.0,232.4 128.7,232.6 128.3,233.2 128.6,233.5 128.5,234.0 128.5,234.5 128.6,234.9 128.8,235.3 128.9,235.7 128.9,236.1 129.4,236.4 129.3,236.9 129.4,237.3 130.1,237.6 130.2,238.0 130.0,238.5 129.6,239.0 130.2,239.3 129.9,239.8 130.3,240.1 130.5,240.5 130.7,240.9 130.6,241.3 130.6,241.7 130.9,242.1 130.9,242.5 131.0,242.9 131.0,243.3 131.1,243.7 131.2,244.1 131.3,244.5 131.3,244.1 131.3,243.7 131.3,243.3 131.3,242.9 131.3,242.5 131.3,242.1 131.3,241.7 131.3,241.3 131.3,240.9 131.3,240.5 131.3,240.1 131.3,239.7 131.3,239.3 131.3,238.9 131.3,238.5 131.3,238.1 131.3,237.7 131.3,237.3 131.3,236.9 131.3,236.5 131.3,236.1 131.3,235.7 131.3,235.3 131.3,234.9 131.3,234.5 131.3,234.1 131.3,233.7 131.3,233.3 131.3,232.9 131.3,232.5 131.3,232.1 131.3,231.7 131.3,231.3 131.3,230.9 131.3,230.5 131.3,230.1 131.3,229.7 131.3,229.3 131.3,228.9 131.3,228.5 131.3,228.1 131.3,227.7 131.3,227.3 131.3,226.9 131.3,226.5 131.3,226.1 131.3,225.7 131.3,225.3 131.3,224.9 131.3,224.5 131.3,224.1 131.3,223.7 131.3,223.3 131.3,222.9 131.3,222.5 131.3,222.1 131.3,221.7 131.3,221.3 131.3,220.9 131.3,220.5 131.3,220.1 131.3,219.7 131.3,219.3 131.3,218.9 131.3,218.5 131.3,218.1 131.3,217.7 131.3,217.3 131.3,216.9 131.3,216.5 131.3,216.1 131.3,215.7 131.3,215.3 131.3,214.9 131.3,214.5 131.3,214.1 131.3,213.7 131.3,213.3 131.3,212.9 131.3,212.5 131.4,212.0 131.4,211.6 131.4,211.2 131.4,210.8 131.4,210.4 131.4,210.0 131.4,209.6 131.4,209.2 131.4,208.8 131.4,208.4 131.4,208.0 131.4,207.6 131.4,207.2 131.4,206.8 131.4,206.4 131.4,206.0 131.4,205.6 131.4,205.2 131.4,204.8 131.4,204.4 131.4,204.0 131.4,203.6 131.4,203.2 131.4,202.8 131.4,202.4 131.4,202.0 131.4,201.6 131.4,201.2 131.4,200.8 131.4,200.4 131.4,200.0 131.4,199.6 131.4,199.2 131.4,198.8 131.4,198.4 131.4,198.0 131.4,197.6 131.4,197.2 131.4,196.8 131.4,196.4 131.4,196.0 131.4,195.6 131.4,195.2 131.4,194.8 131.4,194.4 131.4,194.0 131.4,193.6 131.4,193.2 131.4,192.8 131.4,192.4 131.4,192.0 131.4,191.6 131.4,191.2 131.4,190.8 131.4,190.4 131.4,190.0 131.4,189.6 131.4,189.2 131.4,188.8 131.4,188.4 131.4,188.0 131.4,187.6 131.4,187.2 131.4,186.8 131.4,186.4 131.4,186.0 131.4,185.6 131.4,185.2 131.4,184.8 131.4,184.4 131.4,184.0 131.4,183.6 131.4,183.2 131.4,182.8 131.4,182.4 131.4,182.0 131.4,181.6 131.4,181.2 131.4,180.8 131.4,180.4 131.4,180.0 131.4,179.6 131.4,179.2 131.4,178.8 131.4,178.4 131.4,178.0 131.4,177.6 131.4,177.2 131.4,176.8 131.4,176.4 131.4,176.0 131.4,175.6 131.4,175.2 131.4,174.8 131.4,174.4 131.4,174.0 131.4,173.6 131.4,173.2 131.4,172.8 131.4,172.4 131.4,172.0 131.4,171.6 131.4,171.2 131.4,170.8 131.4,170.4 131.4,170.0 131.4,169.6 131.4,169.2 131.4,168.8 131.4,168.4 131.4,168.0 131.4,167.6 131.4,167.2 131.4,166.8 131.4,166.4 131.4,166.0 131.4,165.6 131.4,165.2 131.4,164.8 131.4,164.4 131.4,164.0 131.4,163.6 131.4,163.2 131.4,162.8 131.4,162.4 131.4,162.0 131.4,161.6 131.4,161.2 131.4,160.8 131.4,160.4 131.4,160.0 131.4,159.6 131.4,159.2 131.4,158.8 131.4,158.4 131.4,158.0 131.4,157.6 131.4,157.2 131.4,156.8 131.4,156.4 131.4,156.0 131.4,155.6 131.4,155.2 131.4,154.8 131.4,154.4 131.4,154.0 131.4,153.6 131.4,153.2 131.4,152.8 131.4,152.4 131.4,152.0 131.4,151.6 131.4,151.2 131.4,150.8 131.4,150.4 131.4,150.0 131.4,149.6 131.4,149.2 131.4,148.8 131.4,148.4 131.4,148.0 131.4,147.6 131.4,147.2 131.4,146.8 131.4,146.4 131.4,146.0 131.4,145.6 131.4,145.2 131.4,144.8 131.4,144.4 131.4,144.0 131.4,143.6 131.4,143.2 131.4,142.8 131.4,142.4 131.4,142.0 131.4,141.6 131.4,141.2 131.4,140.8 131.4,140.4 131.4,140.0 131.4,139.6 131.4,139.2 131.4,138.8 131.4,138.4 131.4,138.0 131.4,137.6 131.4,137.2 131.4,136.8 131.4,136.4 131.4,136.0 131.5,135.6 131.5,135.2 131.5,134.8 131.5,134.4 131.5,134.0 131.5,133.6 131.5,133.2 131.5,132.8 131.5,132.4 131.5,132.0 131.5,131.6 131.5,131.2 131.5,130.8 131.5,130.4 131.5,130.0 131.5,129.6 131.5,129.2 131.5,128.8 131.5,128.4 131.5,128.0 131.5,127.6 131.5,127.2 131.5,126.8 131.5,126.4 131.5,126.0 131.5,125.6 131.5,125.2 131.5,124.8 131.5,124.4 131.5,124.0 131.5,123.6 131.5,123.2 131.5,122.8 131.5,122.4 131.5,122.0 131.5,121.6 131.5,121.2 131.5,120.8 131.5,120.4 131.5,120.0 131.5,119.6 131.5,119.2 131.5,118.8 131.5,118.4 131.5,118.0 131.5,117.6 131.5,117.2 131.5,116.8 131.5,116.4 131.5,116.0 131.5,115.6 131.5,115.2 131.5,114.8 131.5,114.4 131.5,114.0 131.5,113.6 131.5,113.2 131.5,112.8 131.5,112.4 131.5,112.0 131.5,111.6 131.5,111.2 131.5,110.8 131.5,110.4 131.5,110.0 131.5,109.6 131.5,109.2 131.5,108.8 131.5,108.4 131.5,108.0 131.5,107.6 131.5,107.2 131.5,106.8 131.5,106.4 131.5,106.0 131.5,105.6 131.5,105.2 131.5,104.8 131.5,104.4 131.5,104.0 131.5,103.6 131.5,103.2 131.5,102.8 131.5,102.4 131.5,102.0 131.5,101.6 131.5,101.2 131.5,100.8 131.5,100.4 131.5,100.0 131.5,99.6 131.5,99.2 131.5,98.8 131.5,98.4 131.5,98.0 131.5,97.6 131.5,97.2 131.5,96.8 131.5,96.4 131.5,96.0 131.5,95.6 131.5,95.2 131.5,94.8 131.5,94.4 131.5,94.0 131.5,93.6 131.5,93.2 131.5,92.8 131.5,92.4 131.5,92.0 131.5,92.4 131.5,92.8 131.5,93.2 131.5,93.6 131.5,94.0 131.5,94.4 131.5,94.8 131.5,95.2 131.5,95.6 131.5,96.0 131.5,96.4 131.5,96.8 131.5,97.2 131.5,97.6 131.5,98.0 131.5,98.4 131.5,98.8 131.5,99.2 131.5,99.6 131.5,100.0 131.5,100.4 131.5,100.8 131.5,101.2 131.5,101.6 131.5,102.0 131.5,102.4 131.5,102.8 131.5,103.2 131.5,103.6 131.5,104.0 131.5,104.4 131.5,104.8 131.5,105.2 131.5,105.6 131.5,106.0 131.5,106.4 131.6,106.8 131.6,107.2 131.6,107.6 131.6,108.0 131.6,108.4 131.6,108.8 131.6,109.2 131.6,109.6 131.6,110.0 131.6,110.4 131.6,110.8 131.6,111.2 131.6,111.6 131.6,112.0 131.6,112.4 131.6,112.8 131.6,113.2 131.6,113.6 131.6,114.0 131.6,114.4 131.6,114.8 131.6,115.2 131.6,115.6 131.6,116.0 131.6,116.4 131.6,116.8 131.6,117.2 131.6,117.6 131.6,118.0 131.6,118.4 131.6,118.8 131.6,119.2 131.6,119.6 131.6,120.0 131.6,120.4 131.6,120.8 131.6,121.2 131.6,121.6 131.6,122.0 131.6,122.4 131.6,122.8 131.6,123.2 131.6,123.6 131.6,124.0 131.6,124.4 131.6,124.8 131.6,125.2 131.6,125.6 131.6,126.0 131.6,126.4 131.6,126.8 131.6,127.2 131.6,127.6 131.6,128.0 131.6,128.4 131.6,128.8 131.6,129.2 131.6,129.6 131.6,130.0 131.6,130.4 131.6,130.8 131.6,131.2 131.6,131.6 131.6,132.0 131.6,132.4 131.6,132.8 131.6,133.2 131.6,133.6 131.6,134.0 131.6,134.4 131.6,134.8 131.6,135.2 131.7,135.6 131.7,136.0 131.7,136.4 131.7,136.8 131.7,137.2 131.7,137.6 131.7,138.0 131.7,138.4 131.7,138.8 131.7,139.2 131.7,139.6 131.7,140.0 131.7,140.4 131.7,140.8 131.7,141.2 131.7,141.6 131.7,142.0 131.7,142.4 131.7,142.8 131.7,143.2 131.7,143.6 131.7,144.0 131.7,144.4 131.7,144.8 131.7,145.2 131.7,145.6 131.7,146.0 131.7,146.4 131.7,146.8 131.7,147.2 131.7,147.6 131.7,148.0 131.7,148.4 131.7,148.8 131.7,149.2 131.7,149.6 131.7,150.0 132.1,150.4 132.5,150.9 132.5,151.3 132.5,151.7 132.5,152.1 132.5,152.5 132.5,152.9 132.5,153.3 132.6,153.7 132.6,154.1 132.6,154.5 132.6,154.9 132.6,155.3 132.6,155.7 132.6,156.1 132.6,156.5 132.6,156.9 132.6,157.3 132.6,157.7 132.6,158.1 132.6,158.5 132.7,158.9 132.7,159.3 132.7,159.7 132.7,160.1 132.7,160.5 132.7,160.9 132.7,161.3 132.7,161.7 132.7,162.1 132.7,162.5 132.7,162.9 132.7,163.3 132.7,163.7 132.7,164.1 132.8,164.5 132.8,165.0 132.8,165.4 132.8,165.8 132.8,166.2 132.8,166.6 132.8,167.0 132.8,166.6 132.8,166.2 132.8,165.7 132.8,165.3 132.8,164.9 132.8,164.5 132.9,164.1 132.9,163.7 132.9,163.3 132.9,162.9 132.9,162.5 132.9,162.1 132.9,161.7 132.9,161.3 132.9,160.9 132.9,160.5 132.9,160.1 132.9,159.7 133.0,159.3 133.0,158.9 133.0,158.5 133.0,158.1 133.0,157.7 133.0,157.3 133.0,156.9 133.0,156.4 133.0,156.0 133.0,155.6 133.0,155.2 133.0,154.8 133.1,154.4 133.1,154.0 133.1,153.6 133.1,153.2 133.1,152.8 133.1,152.4 133.1,152.0 133.1,152.4 133.1,152.8 133.1,153.2 133.1,153.6 133.1,154.0 133.2,154.5 133.2,154.9 133.2,155.3 133.2,155.7 133.2,156.1 133.2,156.5 133.2,156.9 133.2,157.3 133.2,157.7 133.2,158.1 133.2,158.5 133.2,159.0 133.2,159.4 133.3,159.8 133.3,160.2 133.3,160.6 133.3,161.0 133.3,161.4 133.3,161.8 133.3,162.2 133.3,162.6 133.3,163.0 133.3,163.4 133.3,163.9 133.3,164.3 133.4,164.7 133.4,165.1 133.4,165.5 133.4,165.9 133.4,166.3 133.4,166.7 133.4,166.3 133.4,165.9 133.4,165.5 133.4,165.1 133.4,164.7 133.4,164.3 133.5,163.9 133.5,163.5 133.5,163.1 133.5,162.6 133.5,162.2 133.5,161.8 133.5,161.4 133.5,161.0 133.5,160.6 133.5,160.2 133.5,159.8 133.5,159.4 133.6,159.0 133.6,158.6 133.6,158.2 133.6,157.8 133.6,157.4 133.6,157.0 133.6,156.5 133.6,156.1 133.6,155.7 133.6,155.3 133.6,154.9 133.6,154.5 133.7,154.1 133.7,153.7 133.7,153.3 133.7,152.9 133.7,152.5 133.7,152.1 133.7,151.7 133.7,152.1 133.7,152.5 133.7,152.9 133.7,153.3 133.7,153.7 133.7,154.1 133.8,154.5 133.8,154.9 133.8,155.3 133.8,155.7 133.8,156.1 133.8,156.5 133.8,157.0 133.8,157.4 133.8,157.8 133.8,158.2 133.8,158.6 133.8,159.0 133.9,159.4 133.9,159.8 133.9,160.2 133.9,160.6 133.9,161.0 133.9,161.4 133.9,161.8 133.9,162.2 133.9,162.6 133.9,163.1 133.9,163.5 133.9,163.9 134.0,164.3 134.0,164.7 134.0,165.1 134.0,165.5 134.0,165.9 134.0,166.3 134.0,166.7 134.0,166.3 134.0,165.9 134.0,165.5 134.0,165.1 134.0,164.7 134.1,164.3 134.1,163.9 134.1,163.5 134.1,163.0 134.1,162.6 134.1,162.2 134.1,161.8 134.1,161.4 134.1,161.0 134.1,160.6 134.1,160.2 134.1,159.8 134.2,159.4 134.2,159.0 134.2,158.6 134.2,158.2 134.2,157.7 134.2,157.3 134.2,156.9 134.2,156.5 134.2,156.1 134.2,155.7 134.2,155.3 134.2,154.9 134.2,154.5 134.3,154.1 134.3,153.7 134.3,153.3 134.3,152.9 134.3,152.4 134.3,152.0 134.3,152.4 134.3,152.8 134.3,153.2 134.3,153.6 134.3,154.0 134.3,154.4 134.4,154.8 134.4,155.2 134.4,155.6 134.4,156.0 134.4,156.4 134.4,156.8 134.4,157.2 134.4,157.6 134.4,158.0 134.4,158.4 134.4,158.8 134.4,159.2 134.4,159.7 134.4,160.1 134.5,160.5 134.5,160.9 134.5,161.3 134.5,161.7 134.5,162.1 134.5,162.5 134.5,162.9 134.5,163.3 134.5,163.7 134.5,164.1 134.5,164.5 134.5,164.9 134.5,165.3 134.6,165.7 134.6,166.1 134.6,166.5 134.6,166.9 134.6,167.3 134.6,167.7 134.6,168.1 134.6,167.7 134.6,167.3 134.6,166.9 134.6,166.5 134.6,166.0 134.6,165.6 134.7,165.2 134.7,164.8 134.7,164.4 134.7,164.0 134.7,163.6 134.7,163.2 134.7,162.8 134.7,162.4 134.7,162.0 134.7,161.6 134.7,161.2 134.7,160.8 134.7,160.4 134.8,160.0 134.8,159.6 134.8,159.2 134.8,158.8 134.8,158.4 134.8,158.0 134.8,157.6 134.8,157.2 134.8,156.8 134.8,156.4 134.8,156.0 134.8,155.6 134.8,155.2 134.8,154.8 134.9,154.4 134.9,154.0 134.9,153.6 134.9,153.2 134.9,152.8 134.9,152.4 134.9,152.0 134.9,152.4 134.9,152.8 134.9,153.2 134.9,153.6 134.9,154.0 134.9,154.4 135.0,154.8 135.0,155.2 135.0,155.6 135.0,156.0 135.0,156.4 135.0,156.8 135.0,157.2 135.0,157.6 135.0,158.0 135.0,158.4 135.0,158.8 135.0,159.2 135.0,159.6 135.0,160.0 135.1,160.4 135.1,160.8 135.1,161.2 135.1,161.6 135.1,162.0 135.1,162.4 135.1,162.8 135.1,163.2 135.1,163.6 135.1,164.0 135.1,164.4 135.1,164.8 135.1,165.2 135.1,165.6 135.2,166.0 135.2,166.4 135.2,166.8 135.2,167.2 135.2,167.6 135.2,168.0 135.2,168.4 135.2,168.0 135.2,167.6 135.2,167.2 135.2,166.8 135.2,166.4 135.2,166.0 135.3,165.6 135.3,165.1 135.3,164.7 135.3,164.3 135.3,163.9 135.3,163.5 135.3,163.1 135.3,162.7 135.3,162.3 135.3,161.9 135.3,161.5 135.3,161.1 135.3,160.7 135.3,160.2 135.4,159.8 135.4,159.4 135.4,159.0 135.4,158.6 135.4,158.2 135.4,157.8 135.4,157.4 135.4,157.0 135.4,156.6 135.4,156.2 135.4,155.7 135.4,155.3 135.4,154.9 135.4,154.5 135.5,154.1 135.5,153.7 135.5,153.3 135.5,152.9 135.5,152.5 135.5,152.1 135.5,151.7 135.5,152.1 135.5,152.5 135.5,152.9 135.5,153.3 135.5,153.7 135.5,154.1 135.6,154.5 135.6,154.9 135.6,155.3 135.6,155.7 135.6,156.1 135.6,156.5 135.6,156.9 135.6,157.3 135.6,157.8 135.6,158.2 135.6,158.6 135.6,159.0 135.6,159.4 135.6,159.8 135.7,160.2 135.7,160.6 135.7,161.0 135.7,161.4 135.7,161.8 135.7,162.2 135.7,162.6 135.7,163.0 135.7,163.4 135.7,163.8 135.7,164.3 135.7,164.7 135.7,165.1 135.7,165.5 135.8,165.9 135.8,166.3 135.8,166.7 135.8,167.1 135.8,167.5 135.8,167.9 135.8,168.3 136.0,168.7 135.9,169.2 136.3,169.6 136.3,170.0 136.3,170.4 136.8,170.7 136.9,171.1 137.0,171.5 136.5,172.0 136.4,172.4 136.6,172.8 136.3,173.3 136.9,173.6 136.9,174.0 136.5,174.4 136.7,174.8 136.8,175.2 137.1,175.6 136.8,176.0 137.0,176.4 137.2,176.8 137.0,177.2 136.9,177.6 137.1,178.0 137.3,178.4 137.1,178.8 137.1,179.2 137.0,179.6 137.4,180.0 137.4,180.4 137.6,180.8 137.6,181.2 137.3,181.7 137.5,182.1 137.5,182.6 137.8,182.9 138.0,183.3 138.2,183.7 138.4,184.1 137.9,184.6 138.2,185.0 138.3,184.6 138.3,184.2 138.2,183.7 138.7,183.4 138.9,183.0 138.3,182.5 138.8,182.1 139.0,181.7 139.0,181.3 138.9,180.9 138.6,180.4 139.0,180.1 139.0,179.6 139.4,179.3 139.2,178.8 139.2,178.4 139.2,178.0 139.6,177.6 139.5,177.2 139.4,176.8 139.7,176.4 139.2,175.9 139.1,175.5 139.8,175.1 139.8,174.7 140.1,174.3 139.5,173.8 139.7,173.4 139.5,173.0 139.9,172.6 139.8,172.2 139.8,171.8 139.9,171.4 140.2,171.0 140.1,170.6 140.1,170.2 140.6,169.8 140.4,169.4 140.5,169.0 140.9,168.6 141.0,168.2 141.3,167.9 140.9,167.4 141.2,167.0 141.8,166.7 141.4,166.3 141.1,165.8 141.0,165.3 141.4,165.0 141.2,164.4 141.5,164.1 142.2,163.8 142.5,163.4 142.3,162.9 142.4,162.4 142.2,162.9 142.7,163.2 142.8,163.7 143.3,164.0 143.2,164.4 143.3,164.9 143.5,165.3 143.5,165.7 143.9,166.1 143.6,166.6 144.2,166.9 144.1,167.4 144.1,167.8 144.7,168.1 144.1,168.7 144.2,169.1 144.6,169.4 144.4,169.9 144.3,170.4 144.6,170.7 144.6,171.2 144.3,171.7 144.8,172.0 144.5,172.4 144.7,172.8 144.8,173.2 145.5,173.6 145.1,174.0 145.2,174.4 145.2,174.8 145.0,175.2 145.0,175.6 145.1,176.0 145.0,176.4 144.8,176.8 144.9,177.2 144.4,177.7 145.0,178.0 145.3,178.4 145.0,178.8 145.2,179.2 145.7,179.6 145.4,180.0 145.4,179.5 145.6,179.2 145.7,178.7 146.3,178.5 146.2,178.0 146.7,177.8 146.4,176.7 147.3,177.0 147.4,177.4 147.3,177.8 147.6,178.2 147.2,178.7 147.5,179.1 147.2,179.5 147.3,179.9 147.4,180.3 147.9,180.7 148.0,181.1 147.5,181.6 148.0,181.9 147.7,182.4 148.3,182.7 148.0,183.2 148.4,183.6 148.2,184.0 148.4,184.4 147.9,184.9 148.3,185.3 148.6,185.6 148.2,186.1 148.3,186.5 148.6,186.9 148.2,187.4 148.5,187.8 148.6,188.2 148.9,188.6 148.8,189.0 149.4,189.3 149.4,189.7 149.5,190.2 149.5,190.6 149.0,191.2 149.4,191.6 149.6,192.0 149.9,191.7 150.2,191.4 150.4,191.0 150.3,190.5 150.4,190.1 151.0,189.7 151.0,189.3 150.7,188.9 150.1,188.5 150.5,188.1 150.5,187.7 150.2,187.3 150.4,186.9 150.5,186.5 150.5,186.1 151.0,185.7 151.0,185.3 151.1,184.9 151.3,184.5 150.8,184.0 151.1,183.7 150.3,183.2 150.9,182.8 150.4,182.4 150.7,182.0 150.7,181.6 150.4,181.2 150.9,180.8 151.0,180.4 150.8,180.0 150.6,179.6 150.6,179.2 151.0,178.8 150.8,178.4 150.4,178.0 150.6,177.6 151.1,177.2 150.7,176.8 150.9,176.4 150.9,176.0 151.1,175.6 151.0,175.2 150.6,174.8 150.8,174.4 150.3,174.0 150.4,173.6 150.8,173.2 151.2,172.8 151.0,172.4 150.8,172.0 151.3,171.6 150.6,171.2 150.5,170.8 150.5,170.4 150.6,170.0 150.9,169.6 151.2,169.2 151.3,168.8 151.0,168.4 151.0,168.0 151.0,167.6 151.0,167.2 151.4,166.8 151.2,166.4 151.4,166.0 150.6,165.5 151.3,165.2 150.8,164.7 151.3,164.3 151.0,163.9 151.1,163.5 151.1,163.1 151.7,162.7 152.0,162.4 151.9,161.9 151.4,161.5 152.3,161.6 152.1,161.0 152.2,160.5 152.6,160.2 152.7,159.7 152.8,159.3 153.1,158.9 153.2,158.5 153.1,159.0 154.0,159.2 153.5,159.8 153.9,160.2 153.7,160.7 154.0,161.0 154.0,161.5 154.4,161.2 154.4,160.8 154.5,160.3 154.8,160.0 155.2,160.4 155.8,160.6 155.9,161.1 155.4,161.7 156.2,161.9 156.0,162.4 155.6,163.0 155.7,163.4 156.2,163.7 155.8,164.3 156.6,164.4 156.4,165.0 155.8,165.4 156.2,165.8 156.2,166.2 156.2,166.7 156.6,167.1 156.2,167.5 156.1,167.9 156.3,168.3 156.4,168.7 156.4,169.1 156.8,169.5 156.7,169.9 156.8,170.3 157.1,170.7 156.3,171.2 156.7,171.6 156.7,172.0 156.8,172.4 157.2,172.8 157.5,173.2 156.8,173.7 156.8,174.1 156.4,174.5 156.6,174.9 156.7,175.4 156.5,175.8 157.1,176.2 156.8,176.6 157.1,177.0 157.1,177.4 157.2,177.9 156.7,178.3 157.0,178.7 157.3,179.1 157.4,179.6 157.1,180.3 157.8,180.5 157.5,181.0 157.7,181.4 158.0,181.7 158.0,182.1 158.6,182.5 158.0,183.0 158.2,183.4 158.0,183.8 158.8,184.1 158.1,184.7 158.6,185.0 159.3,184.7 158.6,184.1 158.5,183.7 159.2,183.5 159.3,183.1 159.1,182.6 159.7,182.3 159.7,181.9 159.5,181.4 159.5,181.0 159.2,181.5 159.4,181.9 159.7,182.2 159.5,182.7 159.9,183.1 160.2,183.4 159.9,183.9 159.7,184.4 160.3,184.7 160.8,185.0 160.4,185.5 160.6,185.1 161.1,184.8 160.6,184.3 160.9,183.9 161.2,183.5 161.7,183.2 161.7,182.8 161.0,182.2 161.5,181.9 161.1,181.4 161.4,181.0 161.7,181.4 161.7,181.8 161.6,182.2 161.5,182.7 161.7,183.0 162.1,183.4 161.6,183.9 161.8,184.3 162.4,184.6 162.4,185.0 162.8,184.7 162.3,184.1 163.0,183.8 162.5,183.3 163.2,183.0 163.0,182.6 163.1,182.2 162.9,181.7 163.1,181.3 163.5,181.0 163.4,180.5 163.2,181.0 163.0,181.5 163.4,181.7 163.3,182.2 164.1,182.4 163.9,182.9 164.3,183.2 164.4,183.6 164.4,184.0 164.6,184.4 164.5,184.9 164.2,185.4 164.7,185.8 164.8,186.2 164.5,186.7 164.7,187.2 165.2,187.5 164.9,188.0 165.3,188.3 164.9,188.9 165.3,189.2 165.6,189.6 165.5,190.0 165.8,190.4 165.5,190.9 165.7,191.2 165.8,191.7 166.2,192.0 166.0,192.5 166.6,192.8 166.6,193.2 166.3,193.7 167.2,193.9 167.1,194.4 167.3,194.7 167.4,195.1 167.5,195.6 167.4,196.0 168.0,196.3 167.5,196.8 168.0,197.1 168.3,197.5 168.4,197.9 168.1,198.4 168.3,198.8 168.0,199.3 168.3,199.6 168.7,200.0 168.6,200.4 168.6,200.8 169.0,201.1 168.7,201.7 168.3,202.2 168.6,202.5 169.1,202.8 168.9,203.3 169.6,203.5 169.8,203.9 169.9,204.3 169.6,204.8 169.9,205.1 169.8,205.6 169.9,206.0 170.3,206.3 169.9,206.8 170.5,207.1 170.0,207.6 169.8,208.1 170.2,208.4 170.3,208.8 170.7,209.2 170.5,209.6 170.8,210.0 171.2,210.3 170.6,210.8 171.1,211.2 170.9,211.6 171.3,212.0 171.2,212.4 171.2,212.8 171.4,212.4 171.5,212.0 171.4,211.6 171.3,211.2 171.8,210.8 172.0,210.5 171.6,210.0 171.6,209.6 172.0,209.2 172.2,208.9 172.4,208.5 172.3,208.1 172.0,207.6 172.1,207.2 171.5,206.7 171.6,206.4 172.0,206.0 171.9,205.6 172.2,205.2 172.2,204.8 171.8,204.4 171.6,203.9 172.1,203.6 171.9,203.2 172.5,202.8 172.3,202.4 172.5,202.0 172.4,201.6 172.8,201.2 173.0,200.8 173.0,200.4 172.7,199.9 173.3,199.6 173.2,199.1 173.3,198.7 172.9,198.2 172.9,197.8 173.1,197.4 173.1,197.0 173.2,196.6 173.0,196.1 173.1,195.7 173.4,195.3 173.1,195.9 173.2,196.3 173.8,196.5 174.2,196.8 174.3,197.2 174.2,197.8 174.3,198.2 174.8,198.4 175.0,198.8 175.1,199.2 175.2,199.6 174.9,200.1 175.3,200.5 175.0,200.9 175.5,201.3 175.6,201.7 175.4,202.2 175.6,202.6 175.1,203.1 175.9,203.4 175.7,203.8 175.9,204.2 175.7,204.7 176.0,205.1 176.0,205.5 175.5,206.1 175.8,206.4 176.3,206.8 176.1,207.2 176.1,207.7 176.2,208.1 176.4,208.5 176.6,208.9 176.8,209.3 176.6,209.8 177.0,210.1 176.9,210.5 176.9,210.9 177.7,211.2 177.0,211.8 177.0,212.2 177.4,212.5 177.3,213.0 177.8,213.3 177.7,213.7 177.6,214.2 177.3,214.6 177.9,214.9 177.5,215.4 177.8,215.8 177.7,216.2 178.2,216.6 178.0,217.0 177.9,217.4 177.8,217.9 177.9,218.3 178.1,218.6 178.1,219.1 178.4,219.4 178.7,219.8 179.0,220.1 178.7,220.6 178.2,221.1 178.3,221.5 179.2,221.7 179.2,222.2 179.5,222.5 179.2,223.0 179.2,223.4 179.1,222.9 179.6,222.6 179.1,222.1 179.1,221.7 179.8,221.4 179.3,220.9 179.8,220.6 179.8,220.2 180.3,219.9 180.0,219.4 180.2,219.0 180.6,218.7 180.2,218.2 180.8,217.9 180.4,217.4 180.8,217.0 180.5,216.5 181.3,216.3 181.3,215.9 181.6,215.5 181.1,215.0 180.7,215.5 181.4,215.8 180.9,216.3 181.2,216.6 181.3,217.0 180.8,217.5 181.0,217.9 181.4,218.2 181.9,218.5 181.8,218.9 182.2,219.3 182.1,219.7 182.3,220.1 182.2,220.5 181.7,221.0 182.2,221.3 181.7,221.8 182.3,222.1 182.4,222.5 182.0,223.2 182.3,223.4 182.7,223.7 183.0,224.0 183.6,224.1 183.3,224.8 183.3,225.2 183.7,225.5 184.1,225.7 184.2,226.1 184.4,226.5 184.4,226.9 184.0,227.5 184.6,227.7 184.9,228.0 184.9,228.4 185.5,228.6 185.2,229.2 185.3,229.6 185.6,229.9 186.0,230.2 186.0,230.6 185.9,231.1 186.3,231.4 186.5,231.7 187.2,231.9 186.7,232.5 187.1,232.8 187.6,233.1 186.9,233.7 187.2,234.0 187.7,234.3 187.3,234.9 187.6,235.2 187.7,235.6 187.8,236.0 188.4,236.3 188.4,236.8 188.0,237.3 188.7,237.6 188.6,238.1 188.7,238.5 188.7,239.0 189.0,239.5 189.0,239.1 189.0,238.7 189.0,238.3 189.0,237.9 189.0,237.5 189.0,237.1 189.0,236.7 189.0,236.3 189.0,235.9 189.0,235.5 189.0,235.1 189.0,234.7 189.0,234.3 189.1,233.9 189.1,233.5 189.1,233.1 189.1,232.7 189.1,232.3 189.1,231.9 189.1,231.5 189.1,231.1 189.1,230.7 189.1,230.3 189.1,229.9 189.1,229.5 189.1,229.1 189.1,228.7 189.1,228.3 189.1,227.9 189.1,227.5 189.1,227.1 189.1,226.7 189.1,226.3 189.1,225.9 189.1,225.5 189.1,225.1 189.1,224.7 189.1,224.3 189.1,223.9 189.2,223.5 189.2,223.1 189.2,222.7 189.2,222.3 189.2,221.9 189.2,221.5 189.2,221.1 189.2,220.7 189.2,220.3 189.2,219.9 189.2,219.5 189.2,219.1 189.2,218.7 189.2,218.3 189.2,217.9 189.2,217.5 189.2,217.1 189.2,216.7 189.2,216.3 189.2,215.9 189.2,215.5 189.2,215.1 189.2,214.7 189.2,214.3 189.2,213.9 189.2,213.5 189.2,213.1 189.3,212.7 189.3,212.3 189.3,211.9 189.3,211.5 189.3,211.1 189.3,210.7 189.3,210.3 189.3,209.9 189.3,209.5 189.3,209.1 189.3,208.7 189.3,208.3 189.3,207.9 189.3,207.5 189.3,207.9 189.3,208.3 189.3,208.7 189.3,209.1 189.3,209.5 189.3,209.9 189.3,210.3 189.3,210.7 189.3,211.1 189.3,211.5 189.3,211.9 189.4,212.3 189.4,212.7 189.4,213.1 189.4,213.5 189.4,213.9 189.4,214.3 189.4,214.7 189.4,215.1 189.4,215.5 189.4,215.9 189.4,216.3 189.4,216.7 189.4,217.1 189.4,217.5 189.4,217.9 189.4,218.3 189.4,218.7 189.4,219.1 189.4,219.5 189.4,219.9 189.4,220.3 189.4,220.7 189.4,221.1 189.4,221.5 189.5,222.0 189.5,222.4 189.5,222.8 189.5,223.2 189.5,223.6 189.5,224.0 189.5,224.4 189.5,224.8 189.5,225.2 189.5,225.6 189.5,226.0 189.5,226.4 189.5,226.8 189.5,227.2 189.5,227.6 189.5,228.0 189.5,228.4 189.5,228.8 189.5,229.2 189.5,229.6 189.5,230.0 189.5,230.4 189.5,230.8 189.5,231.2 189.6,231.6 189.6,232.0 189.6,232.4 189.6,232.8 189.6,233.2 189.6,233.6 189.6,234.0 189.6,234.4 189.6,234.8 189.6,235.2 189.6,235.6 189.6,236.0 189.8,236.4 189.9,236.8 190.2,237.1 190.5,237.5 190.4,238.0 190.2,238.5 190.9,238.8 190.8,239.2 190.7,239.7 190.4,240.1 190.3,240.6 190.2,241.0 190.3,241.4 191.1,241.7 191.3,242.1 191.6,242.5 191.2,243.0 191.6,243.4 191.8,243.8 191.0,244.2 191.3,244.6 191.2,245.0 191.5,245.4 190.9,245.9 191.6,246.2 191.3,246.6 191.9,247.0 191.9,247.4 191.9,247.8 191.6,248.2 191.9,248.6 191.7,249.0 191.6,249.4 192.0,249.8 192.1,250.2 191.9,250.6 192.0,251.0 192.1,251.4 192.1,251.8 192.1,252.2 192.2,252.6 192.1,253.0 191.5,253.4 191.7,253.8 191.8,254.2 192.0,254.6 192.2,255.0 192.6,255.4 192.0,255.8 192.2,256.2 192.3,256.6 192.6,257.0 192.5,257.4 191.8,257.8 192.1,258.2 191.8,258.6 192.6,259.0 192.4,259.4 192.4,259.8 192.3,260.2 192.3,260.6 192.4,261.0 192.3,261.4 192.5,261.8 192.2,262.2 192.8,262.6 192.3,263.0 192.7,263.4 192.5,263.8 192.8,264.2 192.9,264.6 192.4,265.0 192.5,265.4 192.4,265.8 192.6,266.2 192.4,266.6 192.6,267.0 193.0,266.6 192.8,266.2 193.0,265.8 192.6,265.4 192.7,265.0 193.3,264.7 193.3,264.2 193.4,263.9 193.0,263.4 192.9,263.0 193.3,262.6 192.7,262.1 192.7,261.7 192.7,261.3 192.8,260.9 193.0,260.5 193.0,260.1 193.2,259.8 193.0,259.3 193.6,259.0 193.5,258.6 193.7,258.2 193.5,257.7 194.0,257.4 194.6,257.1 194.5,256.7 194.8,256.3 194.7,255.9 194.3,255.4 193.8,254.9 193.7,254.5 194.2,254.1 194.5,253.8 194.2,253.3 194.1,252.9 194.7,252.6 194.6,252.2 194.7,251.8 195.0,251.4 195.7,251.7 195.3,252.2 195.3,252.7 195.2,253.1 195.0,253.6 195.6,253.9 195.1,254.4 195.6,254.8 195.9,255.2 196.3,255.5 196.0,256.0 196.1,256.4 196.4,256.8 196.7,257.2 196.4,257.6 196.6,258.0 196.7,258.5 196.7,258.9 196.8,259.3 197.1,259.7 197.4,260.0 197.2,260.5 196.8,261.0 196.6,261.5 196.8,261.9 196.6,262.4 197.1,262.6 197.1,263.1 197.6,263.3 198.1,263.5 198.0,264.0 198.5,264.2 198.5,264.7 198.1,265.3 198.4,265.6 198.9,265.8 199.3,266.1 199.0,266.7 199.2,267.0 198.7,267.5 199.5,267.8 199.1,268.3 199.7,268.6 200.1,269.0 200.2,269.4 199.8,269.9 199.7,270.4 200.4,270.7 200.5,271.1 200.5,271.5 200.4,272.0 200.4,272.4 200.7,272.8 200.8,273.1 200.9,273.5 200.6,274.0 201.0,274.4 201.0,274.8 201.0,275.2 201.3,275.5 201.5,275.9 201.6,276.3 201.6,276.7 201.8,277.1 201.6,277.6 202.3,277.8 202.1,278.3 201.8,278.8 202.1,279.2 202.6,279.5 202.7,279.9 202.7,280.3 202.7,280.8 203.0,281.1 203.0,281.6 203.0,282.0 203.3,282.4 203.4,282.8 203.2,283.2 203.4,283.6 203.0,284.0 203.4,284.4 203.2,284.8 203.2,285.2 203.6,285.6 203.5,286.0 203.5,286.4 203.7,286.8 203.9,287.2 204.1,287.5 203.6,288.0 203.7,288.4 203.7,288.8 203.9,289.2 203.9,289.6 204.0,290.0 203.6,290.4 204.1,290.8 203.7,291.2 203.5,291.6 204.1,292.0 204.4,292.4 204.1,292.8 204.6,293.2 204.2,293.6 203.9,294.0 204.1,294.4 204.1,294.8 203.8,295.2 204.0,295.6 203.9,296.0 204.0,296.4 204.2,296.8 204.6,297.2 204.9,297.6 204.2,298.0 204.5,298.4 204.2,298.8 204.0,299.2 204.5,299.6 204.0,300.0 204.6,300.4 204.7,300.8 204.8,301.2 204.3,301.6 204.3,302.0 204.6,302.4 204.4,302.8 204.2,303.2 204.3,303.6 204.3,304.0 204.9,304.4 205.2,304.8 204.8,305.2 204.2,305.6 204.5,306.0 204.6,306.4 205.3,306.8 204.8,307.2 204.2,307.6 204.5,308.0 204.4,308.4 204.4,308.8 204.7,309.2 204.5,309.6 204.6,310.0 204.9,310.4 205.0,310.8 204.8,311.2 204.8,311.6 204.7,312.0 205.2,312.4 204.9,312.8 204.9,313.2 204.5,313.6 205.2,314.0 205.2,314.4 205.0,314.8 204.6,314.4 205.2,314.0 205.2,313.6 204.7,313.2 204.9,312.8 205.0,312.4 205.5,312.0 205.7,311.6 205.3,311.2 205.1,310.8 205.6,310.4 205.7,310.0 205.6,309.6 205.4,309.2 205.4,308.8 205.3,308.4 205.7,308.0 205.5,307.6 205.9,307.2 205.9,306.8 205.4,306.4 205.2,306.0 205.6,305.6 206.0,305.2 206.1,304.8 205.4,304.4 205.3,304.0 205.1,303.6 205.2,303.2 205.4,302.8 205.7,302.4 205.9,302.0 205.7,301.6 205.5,301.2 205.8,300.8 205.7,300.4 206.0,300.0 206.0,299.6 206.2,299.2 206.2,298.8 206.0,298.4 206.2,298.0 206.7,297.6 206.5,297.2 206.5,296.8 206.2,296.3 206.2,295.9 206.6,295.6 206.0,295.1 206.6,294.7 206.8,294.4 206.6,293.9 206.2,293.5 206.3,293.1 207.0,292.7 206.6,292.3 206.8,291.9 206.8,291.5 206.7,291.1 206.5,290.6 207.1,290.3 207.4,289.9 206.9,289.5 206.6,289.0 207.0,288.6 207.4,288.3 207.3,287.9 207.4,287.5 207.1,287.0 207.3,286.6 206.8,286.2 207.3,285.8 207.3,285.4 207.4,285.0 207.3,284.6 207.4,284.2 207.8,283.8 207.3,283.3 207.4,282.9 208.1,282.6 208.4,282.3 208.3,281.8 207.9,281.4 208.2,281.0 207.8,280.5 208.0,280.1 208.2,279.8 208.6,279.4 208.6,279.0 208.6,278.6 209.0,278.2 208.6,277.8 208.8,277.4 208.5,277.0 208.5,276.6 208.5,276.2 208.5,275.8 208.9,275.4 209.3,275.0 209.2,274.6 209.0,274.2 208.5,273.7 208.8,273.3 209.1,272.9 208.7,272.5 208.6,272.1 208.7,271.7 208.7,271.3 209.1,270.9 209.1,270.5 209.2,270.1 208.7,269.7 209.0,269.3 209.1,268.9 208.9,268.5 208.9,268.1 209.2,267.7 209.2,267.3 208.8,266.9 208.8,266.4 208.9,266.0 208.8,265.6 208.9,265.2 208.8,264.8 208.9,264.4 209.0,264.0 209.1,263.6 209.2,263.2 209.0,262.8 209.1,262.4 209.1,262.0 209.0,261.6 209.1,261.2 209.1,260.8 209.2,260.4 209.4,260.0 209.2,259.6 209.2,259.2 209.2,258.8 209.1,258.4 209.2,258.0 209.2,257.6 209.0,257.2 209.2,256.8 209.1,256.4 209.1,256.0 209.2,255.6 209.3,255.2 209.1,254.8 209.1,254.4 209.2,254.0 209.1,253.6 209.2,253.2 209.3,252.8 209.2,252.4 209.3,252.0 209.2,251.6 209.2,251.2 209.3,250.8 209.4,250.4 209.4,250.0 209.4,249.6 209.5,249.2 209.5,248.8 209.5,248.4 209.4,248.0 209.4,247.6 209.5,247.2 209.5,246.8 209.5,246.4 209.3,246.0 209.5,245.6 209.3,245.2 209.3,244.8 209.3,244.4 209.4,244.0 209.4,244.4 209.4,244.8 209.3,245.2 209.2,245.6 209.3,246.0 209.4,246.4 209.5,246.8 209.4,247.2 209.4,247.6 209.5,248.0 209.4,248.4 209.3,248.8 209.4,249.2 209.5,249.6 209.6,250.0 209.6,250.4 209.6,250.8 209.6,251.2 209.4,251.6 209.5,252.0 209.5,252.4 209.5,252.8 209.5,253.2 209.5,253.6 209.5,254.0 209.5,254.4 209.4,254.8 209.4,255.2 209.6,255.6 209.6,256.0 209.6,256.4 209.5,256.8 209.7,257.2 209.6,257.6 209.8,258.0 209.7,258.4 209.7,258.8 209.8,259.2 209.7,259.6 209.6,260.0 209.6,260.4 209.7,260.8 209.7,261.2 209.7,261.6 209.7,262.0 209.8,262.4 210.0,262.8 209.8,263.2 209.9,263.6 209.8,264.0 209.7,264.4 210.0,264.8 209.8,265.2 209.8,265.6 209.7,266.0 209.8,266.4 209.7,266.8 209.8,267.2 210.1,267.6 209.9,268.0 209.9,268.4 210.1,268.8 209.9,269.2 210.2,269.6 209.8,270.0 210.1,270.4 210.1,270.8 209.8,271.2 210.0,271.6 209.7,272.0 210.1,272.4 210.2,272.8 209.6,273.2 210.0,273.6 209.9,274.0 210.2,274.4 209.7,274.8 210.1,275.2 209.8,275.6 210.3,276.0 210.2,276.4 210.4,276.8 210.0,277.2 209.8,277.6 210.2,278.0 209.9,278.5 210.0,278.9 210.3,279.2 209.9,279.7 210.8,280.0 211.0,280.3 210.8,280.8 210.6,281.2 210.8,281.6 211.4,281.9 210.9,282.4 211.3,282.8 211.2,283.2 211.1,283.6 211.4,284.0 211.5,284.4 211.6,284.8 211.7,285.2 212.3,285.5 211.8,286.0 212.1,286.4 211.8,286.9 212.1,287.2 211.7,287.7 212.2,288.0 212.0,288.5 212.4,288.8 212.7,289.2 212.3,289.7 212.8,290.0 213.0,290.4 212.6,290.9 212.7,291.2 213.3,291.5 213.1,292.0 213.6,292.3 213.0,292.8 213.6,293.1 213.2,293.6 213.3,294.0 213.7,294.3 213.2,294.8 213.6,295.2 213.6,295.5 214.0,295.9 214.1,296.3 214.1,296.7 214.7,297.0 214.8,297.3 214.6,297.8 214.8,298.2 214.5,298.6 215.1,298.9 215.1,299.3 214.8,299.8 214.8,299.4 215.0,299.0 214.8,298.6 214.8,298.2 214.9,297.8 215.2,297.4 215.3,297.0 215.6,296.7 215.2,296.2 215.2,295.8 215.4,295.4 215.0,294.9 215.1,294.5 216.0,294.3 216.0,293.8 215.5,293.4 215.5,293.0 215.5,292.6 215.3,292.1 215.8,291.8 216.1,291.4 216.0,291.0 216.1,290.6 215.9,290.2 216.5,289.8 216.7,289.5 216.2,289.0 216.6,288.6 216.3,288.2 216.9,287.9 216.6,287.4 216.3,287.0 216.6,286.6 216.3,286.2 216.2,285.7 216.6,285.4 216.4,284.9 216.9,284.6 217.4,284.3 217.0,283.8 216.6,283.3 216.6,282.9 217.0,282.6 217.0,282.2 217.4,281.8 216.8,281.3 217.4,281.0 217.3,280.6 217.5,280.1 217.6,279.7 217.6,279.3 217.8,278.9 218.0,278.5 217.8,278.0 218.0,277.6 218.2,277.3 218.8,277.0 218.6,276.5 218.4,276.0 218.1,275.5 218.7,275.2 218.9,275.6 219.1,276.0 219.5,276.3 219.4,276.8 219.4,277.3 219.8,277.6 219.6,278.2 219.7,278.6 219.8,279.0 220.4,279.3 220.6,279.7 220.2,280.2 220.1,280.6 220.3,281.0 220.7,281.3 220.8,281.7 220.4,282.2 220.6,282.6 220.6,283.0 220.9,283.4 220.7,283.8 221.1,284.2 221.7,284.4 221.0,285.0 221.1,285.4 221.0,285.8 220.9,286.3 220.9,286.7 221.1,287.1 221.4,287.4 221.6,287.8 221.4,288.3 221.8,288.6 222.1,288.9 222.6,289.3 222.2,289.8 222.0,290.2 221.9,290.7 222.6,290.9 222.7,291.3 222.4,291.8 222.9,292.1 222.6,292.6 223.0,292.2 223.2,291.8 222.9,291.4 222.5,290.9 222.7,290.5 222.9,290.2 222.6,289.7 222.9,289.3 222.9,288.9 223.3,288.5 223.2,288.1 223.2,287.7 223.2,287.3 223.6,286.9 223.2,286.5 223.1,286.1 222.8,285.6 222.8,285.2 223.4,284.8 223.1,284.4 223.8,284.1 223.3,283.6 224.0,283.3 223.7,282.8 223.5,282.4 223.8,282.0 223.7,281.6 223.6,281.1 224.1,280.8 224.1,280.4 223.9,279.9 224.0,279.5 223.8,279.1 224.1,278.7 224.1,278.3 224.0,277.9 224.5,277.5 224.6,277.1 225.0,276.7 224.8,276.3 224.4,275.8 224.8,275.5 224.1,275.0 224.3,274.6 224.2,274.1 225.0,273.8 224.8,273.4 225.0,273.0 225.3,272.7 225.6,272.3 225.0,271.7 225.7,271.5 225.1,270.9 225.8,270.6 226.1,270.3 225.9,269.8 226.3,269.5 226.3,269.1 226.2,268.6 226.1,268.2 226.2,267.8 226.2,267.3 226.5,267.0 226.6,266.6 226.6,266.2 226.4,265.7 226.9,265.4 226.7,264.9 227.0,264.6 227.4,264.2 227.1,263.7 227.4,263.4 227.2,262.9 227.8,262.7 227.4,262.1 228.1,261.9 228.3,261.5 228.0,261.0 228.3,260.6 227.7,260.1 228.2,259.8 228.0,259.4 228.8,259.1 228.7,258.7 228.3,258.2 228.3,257.8 228.2,257.4 228.4,257.0 228.9,256.6 228.9,256.2 228.7,255.8 229.3,255.5 228.7,255.0 229.2,254.6 229.1,254.2 228.8,253.8 229.4,253.4 229.2,253.0 229.4,252.6 229.2,252.2 229.5,251.8 229.3,251.4 229.4,251.0 229.5,250.6 229.7,250.2 229.5,249.8 229.6,249.4 229.4,249.0 229.3,248.5 229.1,248.1 229.3,247.7 229.4,247.3 229.6,247.0 229.8,246.6 230.5,246.3 230.7,245.9 230.5,245.4 230.6,245.0 230.0,244.6 230.6,244.2 230.4,243.8 231.0,243.5 230.5,243.0 230.7,242.6 230.6,242.2 230.7,241.8 230.4,241.3 230.7,240.9 231.2,240.6 231.3,240.2 231.5,239.8 231.2,239.3 231.1,238.9 231.2,238.5 231.3,238.1 231.3,237.6 231.6,237.3 231.4,236.8 231.7,236.4 231.5,236.0 231.2,235.6 231.5,235.2 231.5,234.8 231.9,234.4 231.9,234.0 231.4,233.5 231.9,233.2 232.0,232.8 232.2,232.4 232.5,232.1 232.3,231.6 231.8,231.1 232.4,230.8 232.4,230.4 232.4,230.0 232.1,229.6 232.5,229.2 232.9,228.8 232.9,228.4 232.9,228.0 232.3,227.5 233.0,227.2 233.2,226.8 232.8,226.3 232.9,225.9 233.0,225.5 232.9,225.1 232.6,224.7 232.6,224.3 232.9,223.9 232.7,223.5 232.9,223.1 232.6,222.6 232.9,222.2 233.1,221.9 233.1,221.4 233.0,221.0 232.7,220.6 232.8,220.2 233.1,219.8 233.1,219.4 233.4,219.0 233.2,218.6 233.3,218.2 233.4,217.8 233.8,217.4 234.2,217.0 233.8,216.6 234.1,216.2 233.9,215.8 233.9,215.4 234.0,215.0 233.8,214.6 233.5,214.2 233.8,213.8 233.9,213.4 233.9,213.0 234.1,212.6 234.0,212.2 234.1,211.8 233.8,211.4 234.0,211.0 233.3,210.6 234.1,210.2 233.9,209.8 234.0,209.4 234.3,209.0 234.3,208.6 234.5,208.2 233.7,207.8 233.6,207.4 234.2,207.0 234.2,206.3 234.5,206.0 235.2,206.0 235.3,206.4 234.7,206.9 235.2,207.2 235.6,207.6 235.7,208.0 235.9,208.4 236.0,208.8 236.1,209.2 235.4,209.7 235.6,210.1 235.9,210.5 236.1,210.9 235.5,211.3 235.6,211.7 236.3,212.1 235.5,212.6 235.7,213.0 235.5,213.4 236.1,213.7 236.2,214.1 236.5,214.5 236.0,215.0 236.4,215.4 236.0,215.8 236.5,216.2 235.9,216.7 236.5,217.0 236.6,216.6 236.9,216.2 236.8,215.8 237.0,215.4 236.7,215.0 236.6,214.5 236.6,214.1 236.7,213.7 236.8,213.3 237.0,212.9 236.9,212.5 237.2,212.1 236.5,211.7 236.9,211.3 236.8,210.9 236.4,210.4 236.9,210.0 236.7,209.6 237.4,209.2 237.0,208.8 237.5,208.4 237.2,208.0 237.2,207.6 237.2,207.2 237.2,206.8 237.1,206.4 237.0,206.0 237.1,205.6 237.5,205.2 237.0,204.8 237.0,204.4 237.3,204.0 236.9,203.6 237.0,203.2 237.6,202.8 237.3,202.4 237.2,202.0 237.2,201.6 237.5,201.2 237.7,200.8 237.5,200.4 237.7,200.0 237.5,199.6 237.4,199.2 237.6,198.8 237.8,198.4 237.8,198.0 238.0,197.6 237.6,197.2 237.8,196.8 238.0,196.4 237.8,196.0 238.1,195.6 238.0,195.2 238.1,194.8 238.0,194.4 238.1,194.0 238.3,193.6 238.3,193.2 238.1,192.8 238.2,192.4 238.1,192.0 238.1,191.6 238.2,191.2 238.2,190.8 238.3,190.4 238.3,190.0 238.4,189.6 238.3,189.2 238.3,188.8 238.3,188.4 238.4,188.0 238.3,187.6 238.4,187.2 238.4,186.8 238.4,186.4 238.4,186.0 238.4,185.6 238.5,185.2 238.5,184.7 238.5,184.3 238.5,183.9 238.5,183.5 238.5,183.1 238.5,182.7 238.5,182.3 238.6,181.9 238.6,181.5 238.6,181.1 238.6,180.7 238.7,180.3 238.7,179.9 238.7,179.5 238.7,179.1 238.7,178.7 238.7,178.3 238.7,177.9 238.8,177.5 238.8,177.1 238.8,176.7 238.8,176.3 238.8,175.9 238.8,175.5 238.8,175.1 238.8,174.6 238.8,174.2 238.9,173.8 238.9,173.4 238.9,173.0 238.9,172.6 238.9,172.2 238.9,171.8 238.9,171.4 239.0,171.0 239.0,170.6 239.0,170.2 239.0,169.8 239.0,170.2 239.0,170.6 239.0,171.0 239.1,171.4 239.1,171.8 239.1,172.2 239.1,172.6 239.1,173.0 239.2,173.4 239.2,173.9 239.2,174.3 239.2,174.7 239.2,175.1 239.2,175.5 239.3,175.9 239.3,176.3 239.3,176.7 239.3,177.1 239.3,177.5 239.3,177.9 239.4,178.3 239.4,178.7 239.4,179.1 239.4,179.5 239.5,179.9 239.4,180.3 239.5,180.7 239.5,181.1 239.6,181.5 239.5,182.0 239.5,182.4 239.5,182.8 239.6,183.2 239.6,183.6 239.6,184.0 239.6,184.4 239.7,184.8 239.6,185.2 239.7,185.6 239.7,186.0 239.6,186.4 239.6,186.8 239.7,187.2 239.8,187.6 239.9,188.0 240.1,188.4 240.0,188.9 240.1,189.3 240.3,189.7 240.2,190.1 240.3,190.5 240.2,190.9 240.6,191.3 240.2,191.7 240.5,192.1 240.2,192.6 240.7,192.9 240.7,193.3 240.5,193.8 240.2,194.2 240.3,194.6 240.8,195.0 240.5,195.4 240.6,195.8 240.8,196.2 240.7,196.6 241.0,197.0 240.7,197.5 241.4,197.8 240.9,198.3 241.0,198.7 240.8,199.1 241.2,199.5 241.6,199.8 241.3,200.3 242.0,200.6 241.6,201.1 241.9,201.5 241.9,201.9 241.7,202.3 241.4,202.8 242.1,203.1 241.6,203.6 242.3,203.9 241.7,204.4 242.3,204.7 241.6,205.2 241.9,205.6 242.2,206.0 242.2,206.4 241.9,206.9 242.4,207.2 241.9,207.7 242.3,208.1 242.3,208.5 243.0,208.7 242.7,209.2 243.0,209.6 243.3,209.9 243.5,210.3 242.9,210.8 243.2,211.2 243.1,211.6 243.4,212.0 243.6,212.5 243.9,212.8 244.1,213.2 244.7,213.4 244.6,214.0 245.2,213.7 245.5,213.3 245.1,212.8 245.3,212.3 245.4,211.9 245.6,211.5 245.6,211.0 246.0,210.7 246.1,210.2 246.2,209.7 246.1,209.2 246.8,209.0 246.8,208.5 247.4,208.9 247.5,209.3 247.2,209.7 247.3,210.1 246.8,210.5 246.5,210.9 246.4,211.4 246.8,211.7 246.6,212.2 246.9,212.5 246.9,212.9 247.1,213.3 247.4,213.7 246.9,214.2 246.9,214.6 246.9,215.0 247.3,215.3 247.1,215.8 246.7,216.2 246.7,216.6 246.9,217.0 246.8,217.4 247.2,217.8 247.4,218.2 247.3,218.6 247.4,219.0 247.3,219.4 247.0,219.8 247.4,220.2 247.2,220.6 247.6,221.0 247.6,221.4 248.1,221.8 247.7,222.2 247.4,222.6 247.6,223.0 247.4,223.5 247.6,223.9 247.3,224.3 248.0,224.6 247.6,225.1 247.8,225.5 247.7,225.9 248.3,226.3 248.2,226.7 248.3,227.1 248.8,227.4 248.2,227.9 248.4,228.3 248.4,228.7 248.0,229.1 248.0,229.5 248.4,229.9 248.0,230.4 248.8,230.7 249.0,231.1 248.3,231.6 248.0,232.0 247.8,232.4 247.8,232.8 248.0,233.2 248.3,233.6 248.6,234.0 248.6,234.4 248.7,234.8 248.4,235.2 248.5,235.6 249.0,236.0 249.2,236.4 248.9,236.8 249.0,237.2 248.7,237.6 248.7,238.1 249.0,238.4 249.6,238.8 249.4,239.2 249.7,239.6 249.4,240.0 249.3,240.4 249.2,240.9 249.4,241.2 249.8,241.6 250.2,241.9 249.7,242.4 249.7,242.8 250.0,243.2 250.6,243.5 250.3,244.0 250.6,244.3 250.5,244.7 250.5,245.2 250.7,245.5 250.4,246.0 251.0,246.3 250.7,246.8 250.8,247.2 250.8,247.6 250.5,248.1 250.7,248.5 251.0,248.9 250.9,249.3 250.9,249.7 250.9,250.1 251.3,250.5 251.6,250.8 251.8,251.2 252.1,251.4 252.3,251.8 252.6,252.1 252.5,252.7 252.9,252.9 252.8,253.5 254.0,253.4 253.0,254.0 254.5,254.1 253.4,254.8 254.5,254.9 253.8,255.5 254.7,255.7 254.0,256.3 254.8,256.5 254.0,257.1 255.0,257.3 254.8,257.8 255.7,257.9 254.8,258.6 255.3,258.9 254.2,259.6 255.4,259.7 255.2,260.2 256.1,260.3 255.2,261.0 256.0,261.2 254.8,261.9 255.8,262.1 255.3,262.6 256.7,262.8 255.8,263.3 256.7,263.7 255.8,264.2 256.5,264.5 255.3,265.1 256.1,265.4 255.3,265.9 256.2,266.3 255.2,266.8 255.9,267.1 255.1,267.6 256.2,267.9 255.7,268.4 256.6,268.7 256.0,269.2 256.5,269.6 255.4,270.1 256.9,270.4 256.4,270.9 257.0,271.2 255.7,271.8 256.6,272.1 255.8,272.6 256.7,272.9 256.3,273.4 257.3,273.7 256.6,274.2 257.0,274.6 256.2,275.1 257.3,275.4 256.4,275.9 257.5,276.2 256.9,276.7 257.9,277.0 257.5,277.5 258.0,277.8 257.6,278.3 258.4,278.6 257.1,279.2 257.7,279.6 257.0,280.1 257.6,280.4 257.0,281.0 258.0,281.2 257.5,281.7 258.7,282.0 258.1,282.5 259.1,282.8 258.4,283.3 259.2,283.6 258.5,284.1 259.1,284.5 258.2,285.2 259.3,285.1 258.8,285.8 259.7,285.8 258.6,286.8 259.7,286.7 259.2,287.5 260.0,287.5 259.1,288.4 260.1,288.4 259.5,289.2 260.6,289.1 260.0,289.9 260.8,290.0 260.0,290.8 261.3,290.6 260.6,291.7 261.6,291.5 261.2,292.3 262.1,292.1 261.7,292.9 262.5,292.8 261.8,293.2 263.0,293.4 262.4,294.0 263.0,294.3 262.6,294.8 263.9,295.0 263.5,295.5 264.5,295.8 263.5,296.4 264.8,296.6 263.8,297.2 264.6,297.5 263.8,298.1 263.7,297.6 264.6,298.6 264.9,297.8 265.3,298.1 266.5,298.1 265.3,299.0 266.2,299.2 265.6,299.9 266.7,300.0 266.2,300.7 267.0,300.9 266.6,301.4 267.0,301.8 265.8,302.4 267.0,302.6 266.6,303.1 267.7,303.3 267.3,303.8 268.2,304.0 267.1,304.7 267.7,304.9 266.8,305.6 268.4,305.6 267.9,306.2 268.8,306.4 268.2,306.9 269.0,307.2 268.5,307.7 269.2,308.0 268.3,308.6 268.8,308.9 267.7,309.5 268.7,309.8 268.1,310.3 268.9,310.6 268.5,311.1 269.5,311.3 268.4,311.9 269.4,312.2 268.2,312.8 269.2,313.1 268.3,313.6 269.4,313.9 268.3,314.5 268.8,314.8 268.1,315.4 269.2,315.6 268.6,316.1 269.5,316.4 269.1,316.8 270.1,317.1 268.7,317.7 269.3,318.0 268.4,318.5 269.6,318.8 269.0,319.2 269.8,319.6 268.8,320.1 270.1,320.4 269.3,320.8 270.1,321.2 268.9,321.7 269.9,322.0 269.4,322.4 270.7,322.7 269.5,323.2 270.4,323.6 269.6,324.0 270.4,324.4 269.6,324.8 270.6,325.2 269.8,325.6 270.9,326.0 269.7,326.4 270.7,326.8 269.9,327.2 270.8,327.6 270.3,328.0 271.0,328.4 269.5,328.8 270.6,329.2 269.8,329.6 271.1,330.0 270.1,330.4 270.9,330.8 270.2,331.2 271.0,331.6 269.7,332.0 270.9,332.4 270.0,332.8 271.3,333.2 270.3,333.6 271.2,334.0 270.4,334.4 271.5,334.8 270.4,335.2 271.2,335.6 270.3,336.0 271.1,336.4 270.4,336.8 271.4,337.2 270.2,337.6 271.2,338.0 270.4,338.4 271.4,338.8 270.9,339.2 271.6,339.6 271.2,340.0 271.9,340.4 270.9,340.8 271.4,341.2 270.4,341.7 271.5,342.0 270.4,342.5 271.9,342.8 270.9,343.3 271.5,343.7 270.5,344.1 270.7,344.5 271.4,344.1 270.6,343.6 271.4,343.3 270.7,342.8 271.8,342.5 270.7,342.0 271.7,341.7 270.4,341.2 271.4,340.9 270.7,340.4 272.0,340.1 271.3,339.6 272.3,339.3 271.9,338.9 273.1,338.5 272.2,338.1 272.4,337.7 270.9,337.2 272.1,336.8 271.6,336.4 272.9,336.1 271.6,335.6 272.6,335.2 271.4,334.7 272.5,334.4 271.4,333.9 272.1,333.6 271.1,333.1 271.7,332.7 271.0,332.3 271.7,331.9 271.2,331.5 272.4,331.1 271.1,330.6 272.1,330.3 271.7,329.9 273.0,329.5 272.7,329.1 273.4,328.7 272.5,328.3 273.4,327.9 272.7,327.5 273.4,327.1 272.1,326.6 272.5,326.2 271.7,325.8 272.9,325.4 272.3,325.0 273.4,324.7 273.2,324.2 273.9,323.9 272.4,323.3 273.0,323.0 271.8,322.5 272.5,322.1 272.1,321.7 273.4,321.4 272.6,320.9 273.3,320.5 272.9,320.1 273.5,319.7 272.7,319.3 274.2,319.0 273.4,318.5 274.1,318.2 273.1,317.6 273.5,317.3 272.5,316.8 273.9,316.5 272.7,316.0 274.1,315.7 273.2,315.2 274.7,314.9 273.9,314.4 275.0,314.2 274.1,313.6 274.7,313.3 273.7,312.8 274.9,312.5 273.6,311.9 274.5,311.6 273.4,311.1 274.2,310.8 273.0,310.2 273.9,309.9 274.0,309.5 275.0,309.2 274.0,308.7 275.0,308.4 273.8,307.8 274.7,307.5 273.6,307.0 274.4,306.6 273.8,306.2 274.8,305.8 273.9,305.3 275.1,305.1 274.4,304.5 275.5,304.3 274.9,303.8 275.7,303.5 275.2,303.0 276.2,302.7 275.6,302.2 276.7,302.0 275.9,301.4 276.5,301.1 275.4,300.5 276.3,300.2 275.0,299.6 275.4,299.2 274.7,298.7 275.6,298.4 274.8,297.9 276.2,297.7 275.5,297.1 276.4,296.9 275.4,296.3 276.3,296.0 275.6,295.4 276.6,295.2 276.2,294.7 277.4,294.5 276.5,293.9 276.8,293.5 276.2,292.9 277.1,292.7 276.5,292.1 277.3,291.9 276.6,291.3 278.0,291.2 277.5,290.6 278.4,290.4 277.4,289.8 278.6,289.6 277.3,288.9 278.0,288.6 277.4,288.0 278.1,287.8 277.6,287.3 278.1,287.2 278.7,287.3 278.5,288.3 279.7,288.0 278.9,288.6 280.0,288.7 279.2,289.4 280.2,289.5 279.4,290.2 280.1,290.4 279.5,291.0 280.4,291.2 279.9,291.8 280.8,292.0 280.1,292.5 281.6,292.7 280.5,293.2 282.0,293.4 280.9,294.0 281.9,294.3 281.0,294.8 281.2,295.2 280.3,295.7 280.8,296.0 280.3,296.5 281.1,296.8 280.5,297.3 281.2,297.6 280.2,298.1 281.1,298.4 280.4,298.9 281.5,299.2 280.7,299.7 281.7,300.0 281.0,300.5 281.9,300.8 281.2,301.3 282.5,301.6 281.7,302.0 282.7,302.4 281.4,302.9 282.1,303.2 281.0,303.7 281.9,304.1 281.5,304.5 282.6,304.8 281.5,305.3 281.8,305.7 281.1,306.1 282.0,306.5 281.5,306.9 282.9,307.3 282.1,307.7 282.5,308.1 281.3,308.6 282.5,308.9 281.7,309.4 283.1,309.7 281.9,310.2 282.7,310.5 281.9,311.0 282.3,311.4 281.6,311.8 282.9,312.1 282.5,312.6 283.2,312.9 282.3,313.4 283.0,313.7 282.4,314.2 283.2,314.5 282.2,315.0 282.5,315.4 281.4,315.9 282.6,316.2 281.6,316.7 282.6,317.0 282.0,317.5 283.5,317.8 282.8,318.3 283.6,318.6 282.4,319.1 283.0,319.5 282.2,319.9 283.5,320.3 282.6,320.7 283.5,321.1 282.1,321.6 283.1,321.9 282.0,322.4 282.9,322.8 282.4,323.2 283.3,323.5 282.5,324.0 283.6,324.3 282.8,324.8 283.8,325.1 282.6,325.6 283.8,326.0 282.6,326.5 283.8,326.8 283.0,327.2 284.1,327.6 283.2,328.0 284.3,328.4 283.4,328.8 284.1,329.2 283.2,329.7 283.8,330.0 282.9,330.5 284.2,330.8 283.8,331.3 284.8,331.6 283.8,332.1 284.6,332.4 283.3,332.9 283.9,333.3 283.1,333.8 284.0,334.1 282.7,334.7 283.8,334.9 283.2,335.4 284.2,335.7 283.8,336.2 284.4,336.5 284.0,337.0 285.2,337.2 284.3,337.8 284.7,338.1 283.7,338.7 285.1,338.9 284.4,339.4 285.3,339.7 284.5,340.2 285.1,340.5 284.0,341.1 284.7,341.4 284.1,341.9 284.9,342.2 284.4,342.7 285.3,343.0 284.8,343.5 285.7,343.7 285.6,344.2 286.7,344.4 285.8,345.0 286.4,345.3 285.1,345.9 285.5,346.2 284.7,346.7 285.8,347.0 285.7,347.4 286.2,347.8 285.3,348.3 286.2,348.6 285.4,349.1 286.1,349.4 285.2,349.9 286.4,350.2 285.6,350.7 286.4,351.0 285.5,351.5 286.7,351.8 285.7,352.3 286.6,352.6 285.7,353.1 286.6,353.4 286.2,353.8 287.1,354.1 286.6,354.6 287.1,355.0 286.1,355.5 287.2,355.8 286.1,356.3 287.1,356.6 287.0,357.8 287.5,356.5 287.9,357.0 289.1,357.2 288.0,357.9 288.9,358.1 287.9,358.9 289.1,359.0 288.5,359.6 287.8,359.8 288.6,359.6 287.8,359.0 288.7,358.7 288.4,358.3 289.4,358.0 288.7,357.5 289.8,357.3 289.1,356.8 289.5,356.4 288.6,355.9 289.5,355.6 288.6,355.0 290.1,354.9 289.2,354.3 290.0,354.0 288.8,353.4 290.0,353.2 288.9,352.6 290.2,352.4 289.5,351.9 290.7,351.7 289.7,351.1 290.9,350.9 289.9,350.3 290.9,350.1 289.9,349.4 290.8,349.2 289.7,348.6 291.2,348.5 290.8,348.0 291.9,347.7 290.5,347.1 291.5,346.8 290.5,346.3 290.8,345.9 290.5,345.5 291.8,345.3 291.2,344.8 291.8,344.4 290.8,343.9 291.7,343.6 291.5,343.2 292.6,342.9 291.5,342.4 292.7,342.1 291.8,341.6 292.5,341.3 291.7,340.8 292.7,340.5 291.6,339.9 293.0,339.7 292.5,339.2 293.0,338.9 292.0,338.3 292.5,337.9 291.7,337.3 292.7,337.1 291.8,336.5 293.1,336.3 292.4,335.7 293.9,335.5 292.9,334.9 292.4,334.7 294.0,334.6 292.9,335.4 293.8,335.5 293.0,336.2 294.1,336.3 293.3,337.0 294.5,337.0 294.3,337.5 294.8,337.7 293.7,338.7 294.6,338.8 294.3,339.5 295.5,339.4 294.7,340.3 295.7,340.4 295.3,340.9 296.2,341.2 295.3,341.7 295.8,342.1 294.8,342.7 295.8,342.9 294.9,343.5 296.2,343.6 295.4,344.2 296.3,344.4 295.6,345.0 296.6,345.2 296.0,345.8 296.7,346.0 295.7,346.6 297.2,346.8 296.7,347.3 297.8,347.5 296.7,348.1 297.7,348.3 297.2,348.8 297.9,349.1 296.8,349.7 297.2,350.0 296.0,350.7 297.1,350.9 296.0,351.5 297.1,351.7 296.5,352.2 297.1,352.5 296.4,353.0 297.1,353.3 296.8,353.8 298.3,353.9 297.6,354.4 298.1,354.8 297.0,355.3 298.0,355.6 297.6,356.1 298.6,356.4 298.1,356.9 298.9,357.2 298.3,357.6 299.2,357.9 297.9,358.5 298.8,358.8 298.1,359.3 299.0,359.6 298.4,360.1 299.0,360.4 298.3,360.9 299.2,361.2 298.4,361.8 299.5,362.0 298.6,362.7 299.4,362.8 299.3,363.4 299.6,363.7 299.9,364.1 300.3,364.5 300.2,365.0 300.6,365.3 300.5,365.9 300.3,366.4 300.9,366.7 301.2,367.0 300.7,366.5 301.0,366.1 301.6,365.8 301.6,365.4 301.2,364.9 301.3,364.5 301.3,364.1 301.5,363.7 301.6,363.3 301.9,362.9 302.0,362.5 301.6,362.1 301.8,361.7 302.4,361.3 302.5,360.9 302.5,360.5 302.1,360.0 302.5,359.7 302.0,359.2 302.4,358.8 302.0,358.4 302.4,358.0 302.6,357.6 302.7,357.2 302.5,356.8 302.8,356.4 303.0,356.0 302.9,355.5 302.8,355.1 302.9,354.7 302.7,354.3 303.0,353.9 302.6,353.4 303.1,353.1 303.1,352.6 303.2,352.2 303.6,351.9 303.4,351.4 303.3,351.0 303.9,350.6 303.5,350.2 303.7,349.8 303.6,349.4 303.4,348.9 303.5,348.5 303.1,349.0 303.3,349.3 303.3,349.8 303.9,350.1 303.6,350.6 303.7,351.0 303.7,351.4 304.3,351.7 304.4,352.1 304.4,352.5 304.3,353.0 303.7,353.4 304.3,353.8 304.1,354.2 304.2,354.6 303.9,355.1 304.4,355.4 303.9,355.9 303.7,356.3 304.3,356.7 304.4,357.1 304.4,357.5 304.3,357.9 304.5,358.3 304.2,358.8 304.3,359.2 305.1,359.5 304.9,359.9 305.2,360.3 304.8,360.8 304.9,361.2 304.5,361.7 304.7,362.0 304.6,362.5 304.7,362.9 304.7,363.3 305.1,363.6 305.1,364.1 305.6,364.4 305.5,364.8 305.0,365.3 305.8,365.6 305.2,366.2 306.0,366.4 306.0,366.8 306.3,367.1 306.2,367.6 306.2,368.0 306.5,368.4 306.4,368.8 307.2,369.0 307.0,369.5 307.1,369.9 307.0,370.4 307.5,370.6 307.6,371.0 307.9,371.3 308.0,371.7 308.6,371.8 308.9,372.2 308.5,372.8 308.6,373.2 308.7,373.6 308.7,374.0 309.3,374.2 309.4,374.6 309.8,374.2 309.6,373.8 309.9,373.4 309.7,373.0 310.1,372.6 309.4,372.1 309.4,371.7 309.8,371.3 310.1,371.0 310.1,370.5 309.9,370.1 310.6,369.8 310.0,369.3 310.6,369.0 310.3,368.5 310.6,368.8 310.5,369.3 310.7,369.6 311.1,370.0 311.1,370.4 311.3,370.7 311.2,371.2 311.4,371.5 311.2,372.0 311.1,372.5 311.4,372.9 311.6,373.3 311.5,373.8 312.1,374.1 312.0,374.6 312.0,375.1 312.4,375.4 312.5,375.8 312.1,376.4 312.1,376.9 312.6,377.2 312.5,377.7 313.0,378.0 313.2,378.4 313.0,378.9 313.6,379.1 313.7,379.5 313.8,380.0 313.7,380.4 313.9,380.8 314.3,381.1 314.3,381.6 314.5,381.9 314.8,382.3 315.1,382.6 314.8,383.2 314.6,383.7 315.0,384.0 315.4,384.3 314.9,384.9 315.7,385.1 315.9,385.5 316.0,385.9 315.7,386.4 316.0,386.7 316.1,387.1 316.4,387.5 316.2,388.0 316.3,388.4 316.8,388.7 316.3,389.2 316.9,389.5 317.0,389.9 316.7,390.4 317.2,390.7 316.9,391.2 317.3,391.5 317.3,391.1 317.0,390.6 317.3,390.3 317.1,389.8 317.1,389.4 317.8,389.1 317.8,388.6 317.4,388.2 317.5,387.8 317.6,387.4 317.5,387.0 317.5,386.5 317.8,386.2 317.4,385.7 317.8,385.3 317.6,384.9 317.4,384.5 318.0,384.1 318.4,383.7 318.1,383.3 318.5,382.9 318.2,382.5 318.0,382.0 318.4,381.7 318.3,381.2 318.7,380.9 318.4,380.4 318.4,380.0 318.6,379.6 318.0,379.2 318.1,378.8 318.1,378.4 318.4,378.0 318.9,377.6 318.4,377.2 318.4,376.8 318.5,376.4 318.8,376.0 318.4,375.6 318.2,375.2 318.6,374.8 318.7,374.4 318.5,374.0 319.0,373.6 319.0,373.2 319.1,372.8 319.0,372.4 318.9,372.0 318.9,371.6 318.6,371.2 318.9,370.8 318.8,370.4 318.8,370.0 318.9,369.6 319.0,369.2 319.4,368.8 319.3,368.4 319.0,368.0 319.2,367.6 319.0,367.2 319.3,366.8 319.1,366.4 319.3,366.0 319.1,365.6 319.2,365.2 319.2,364.8 319.5,364.4 319.3,364.0 319.4,363.6 319.4,363.2 319.6,362.8 319.5,362.4 319.5,362.0 319.4,362.4 319.6,362.8 319.7,363.2 319.7,363.6 319.8,364.0 319.9,364.4 319.7,364.8 319.7,365.2 319.9,365.6 319.9,366.0 319.8,366.4 319.8,366.8 319.8,367.2 319.8,367.6 320.1,368.0 320.2,368.4 320.1,368.8 319.8,369.2 319.8,369.6 320.1,370.0 320.0,370.4 320.2,370.8 320.0,371.2 320.2,371.6 320.0,372.0 320.3,372.4 320.3,372.8 320.1,373.2 319.9,373.6 320.0,374.0 319.8,374.4 319.9,374.8 320.1,375.2 319.9,375.6 320.0,376.0 320.1,376.4 320.8,376.8 320.7,377.2 320.9,377.6 320.6,378.0 320.6,378.4 320.9,378.8 320.8,379.2 320.6,379.6 320.6,380.0 320.7,380.4 320.8,380.8 320.7,381.2 320.5,381.7 320.4,382.1 320.5,382.5 320.9,382.9 321.3,383.2 320.8,383.7 321.4,384.0 321.3,384.5 321.3,384.9 320.9,385.3 321.0,385.7 321.5,386.1 321.1,386.6 321.0,387.0 320.8,387.4 321.3,387.8 320.8,388.2 321.3,388.6 321.4,389.0 321.6,389.4 321.9,389.8 321.3,390.3 321.4,390.7 321.2,391.2 321.5,391.5 322.0,391.9 321.9,392.3 322.3,392.7 322.4,393.1 322.0,393.6 322.1,394.0 321.6,393.5 322.0,393.2 321.9,392.7 322.4,392.4 322.5,392.0 321.9,391.5 322.3,391.1 322.9,390.8 322.3,390.3 322.3,389.9 322.9,389.5 322.9,389.1 322.5,388.7 322.8,388.3 322.9,387.9 322.7,387.5 322.6,387.0 322.9,386.6 323.0,386.2 323.2,385.8 322.9,385.4 323.0,385.0 322.9,384.6 322.9,384.2 323.1,383.8 322.9,383.3 323.7,383.1 323.8,382.7 323.2,382.2 323.2,381.8 323.3,381.4 323.1,380.9 323.7,380.6 324.0,380.2 323.9,379.8 324.2,379.5 323.7,379.0 323.7,378.6 323.9,378.2 324.0,377.8 323.9,377.4 324.5,377.0 324.6,376.6 324.3,376.2 324.2,376.6 324.4,377.0 324.5,377.4 324.5,377.8 324.4,378.3 324.5,378.7 324.6,379.0 325.4,379.3 325.3,379.7 325.2,380.2 324.8,380.7 325.2,381.0 325.2,381.4 325.3,381.8 325.4,382.3 325.8,382.6 325.9,383.0 325.7,383.5 325.9,383.9 325.6,384.4 326.2,384.7 325.8,385.2 326.1,385.6 326.1,386.0 326.4,385.6 326.3,385.1 326.4,384.7 326.6,384.3 326.1,383.7 326.5,383.3 327.0,383.0 327.2,382.6 327.6,382.3 327.3,381.8 327.9,381.6 327.6,381.0 327.9,380.7 327.8,380.2 328.1,379.8 328.6,379.6 328.8,379.2 329.1,378.9 329.0,378.4 329.2,378.0 329.4,377.6 329.7,377.3 329.7,376.7 330.4,376.6 330.6,376.2 331.1,376.3 331.5,376.5 331.7,376.9 331.9,377.2 331.8,377.8 332.0,378.4 332.5,378.5 332.9,378.9 332.8,378.4 333.1,378.0 333.6,377.7 333.9,377.3 333.4,376.8 333.9,376.4 333.4,375.8 333.8,375.5 334.3,375.2 333.9,374.6 334.5,374.3 334.0,373.7 334.7,373.5 334.9,373.1 334.7,372.6 334.6,373.1 334.8,373.5 335.2,373.8 335.3,374.2 335.0,374.8 335.3,375.2 335.6,375.5 336.1,375.8 336.0,376.3 335.8,376.8 336.0,377.2 336.0,377.7 335.7,378.2 336.5,378.4 336.5,378.9 336.3,379.3 336.6,379.7 336.6,380.1 336.3,380.6 336.5,381.0 336.6,381.4 337.2,381.7 336.6,382.2 336.6,382.6 337.5,382.9 337.5,383.3 337.3,383.8 337.4,384.2 337.7,384.5 337.3,385.0 337.8,385.3 337.7,385.8 337.4,386.2 337.5,386.6 337.8,387.0 338.2,387.3 338.0,387.8 338.1,388.2 337.9,388.7 338.2,389.0 338.3,389.4 338.2,389.9 338.4,390.2 338.9,390.6 338.8,391.0 339.3,391.3 339.3,391.7 339.7,392.0 339.6,392.5 339.5,392.9 339.8,393.3 339.6,393.8 339.6,394.2 339.8,394.6 340.1,394.9 340.1,395.4 339.8,396.0 339.8,396.5 340.5,396.7 340.8,397.0 341.2,397.2 341.5,397.5 341.1,398.3 341.4,398.6 341.9,398.7 342.3,398.4 342.6,398.1 342.3,397.6 342.2,397.1 342.2,396.7 342.5,396.3 342.8,396.0 343.2,395.7 343.0,395.2 343.6,395.0 343.5,394.5 343.7,394.2 344.0,394.5 344.0,395.2 344.2,395.5 344.5,395.8 345.5,395.2 345.9,395.4 345.9,396.0 345.8,395.5 345.9,395.0 345.9,394.6 346.1,394.1 346.4,393.7 346.9,393.5 347.0,393.0 347.4,392.7 347.9,392.4 347.8,391.9 347.6,391.3 347.8,390.9 348.2,390.6 348.6,390.9 348.5,391.4 348.8,391.8 349.2,392.1 349.2,392.6 349.2,393.1 349.4,393.5 349.5,394.0 349.9,394.3 350.3,394.6 350.6,395.0 350.3,395.6 350.5,396.0 350.5,396.5 350.7,396.8 351.4,396.9 351.3,397.4 351.9,397.5 352.2,397.8 352.5,398.1 352.4,398.6 352.3,399.2 352.7,399.4 353.1,399.6 352.9,400.2 353.2,400.5 353.3,401.3 354.0,401.0 354.2,401.5 354.3,402.4 355.0,401.9 355.1,402.7 356.0,402.0 356.2,402.6 357.0,401.9 357.0,403.2 357.5,403.0 358.1,402.7 358.5,403.0 359.1,402.9 359.1,403.5 359.8,403.3 360.0,403.7 360.6,403.6 360.7,404.1 360.4,405.1 361.0,405.0 361.3,404.6 361.2,404.2 361.3,403.8 361.3,403.4 361.3,403.0 361.2,402.6 361.4,402.2 361.8,401.8 361.8,401.4 361.6,401.0 361.4,400.5 361.3,400.1 361.6,399.7 361.5,399.3 362.0,399.0 362.3,398.6 362.4,398.2 361.8,397.7 362.0,397.3 362.3,396.9 362.5,396.6 362.8,396.2 362.3,395.7 362.4,395.3 362.7,394.9 362.5,394.5 363.1,394.2 362.7,393.7 362.9,393.3 363.2,393.0 363.0,392.5 362.9,392.1 362.8,391.7 363.3,391.3 363.2,390.9 363.1,390.5 363.2,390.1 363.3,389.7 363.2,389.2 363.3,388.8 363.7,388.5 363.1,388.0 363.7,387.7 363.6,387.2 363.6,386.8 363.4,386.4 363.7,386.0 363.6,385.6 363.8,385.2 363.8,384.8 364.5,384.5 364.0,384.0 363.8,384.5 364.7,384.7 364.7,385.1 364.6,385.6 364.7,386.0 364.5,386.5 364.4,386.9 364.7,387.3 365.2,387.6 365.2,388.0 365.0,388.5 365.5,388.7 365.6,389.2 365.7,389.5 365.6,390.0 365.7,390.4 366.0,390.7 365.9,391.2 366.3,391.5 366.7,392.7 367.2,392.0 367.6,391.4 368.1,392.3 368.5,391.5 368.9,391.2 369.0,390.8 369.1,390.3 368.7,389.8 369.0,389.5 369.3,389.1 369.4,388.7 369.5,388.3 369.2,387.8 369.5,387.4 369.6,387.0 369.3,386.5 369.8,386.2 369.8,385.7 370.2,385.4 370.1,384.9 370.8,384.6 370.5,384.1 371.1,383.9 370.8,383.3 371.3,383.6 371.1,384.1 371.7,384.3 372.0,384.6 371.8,385.2 372.2,385.4 372.0,386.0 371.8,386.5 372.2,386.9 372.5,387.2 372.4,387.8 372.8,388.1 373.0,388.5 373.3,388.8 373.7,389.0 373.8,389.5 374.0,389.9 374.2,390.2 374.2,390.7 374.4,391.1 374.5,391.5 374.9,391.7 375.0,392.1 375.3,392.5 375.7,392.7 376.0,393.0 376.2,393.4 377.0,393.2 377.1,393.7 377.7,393.6 377.5,394.5 377.9,394.6 378.5,394.5 378.4,395.3 378.9,395.4 378.8,396.0 379.0,396.4 379.6,396.4 379.8,396.8 379.8,396.3 379.8,395.9 380.3,395.7 380.3,395.2 380.5,394.9 380.6,394.5 381.1,394.3 381.7,394.1 381.4,393.5 381.7,393.1 382.0,392.9 382.2,392.5 382.3,392.1 382.2,391.5 382.1,391.1 382.2,390.6 382.8,390.4 382.8,390.0 382.8,389.6 382.9,389.2 382.6,388.7 383.2,388.4 383.2,388.0 382.9,387.5 383.1,387.2 383.4,386.8 383.5,386.4 383.5,386.0 383.6,385.6 383.9,385.3 383.7,384.8 384.3,384.6 384.0,384.1 383.9,383.6 384.1,383.3 384.4,382.9 384.7,382.6 384.9,382.2 384.7,381.8 385.0,381.4 385.0,381.0 385.1,380.6 385.4,380.3 385.5,379.9 385.7,379.5 385.5,379.0 385.9,378.7 385.9,378.2 386.5,378.0 386.2,377.5 386.9,377.3 386.6,376.7 386.5,376.3 387.0,376.0 386.8,375.5 387.0,375.1 387.1,374.7 387.4,374.4 387.4,374.0 387.3,373.5 387.4,373.1 387.7,372.7 388.0,372.4 388.0,371.9 388.1,371.5 388.3,371.1 388.4,370.7 389.0,370.5 388.9,370.0 389.1,369.6 389.3,369.2 389.3,368.8 389.6,368.4 389.4,367.9 389.5,367.5 389.3,368.0 389.2,368.5 389.6,368.8 389.5,369.2 390.0,369.5 390.3,369.9 390.0,370.4 390.4,370.7 390.3,371.1 390.7,371.5 390.9,371.8 390.9,372.2 390.6,372.8 391.4,373.0 391.7,373.3 391.5,373.8 391.5,374.2 391.7,374.6 391.8,375.0 392.5,374.5 392.3,375.8 392.8,375.9 393.4,375.5 393.4,376.5 394.1,376.0 394.4,376.4 394.8,376.5 394.5,375.6 395.0,375.5 395.8,375.7 396.1,375.4 396.5,375.2 396.9,375.0 396.7,374.2 397.7,374.6 397.3,373.6 397.8,373.5 397.7,373.0 397.8,372.6 398.1,372.3 397.9,371.8 398.1,371.4 397.9,370.9 398.2,370.5 398.3,370.1 398.2,369.7 398.8,369.4 399.0,369.0 398.6,368.5 399.0,368.1 399.6,367.8 399.3,367.3 399.7,367.0 399.4,366.5 399.6,366.1 399.7,365.7 399.8,365.3 399.9,365.7 399.6,366.2 400.1,366.5 400.0,366.9 400.4,367.3 400.5,367.7 400.0,368.1 399.8,368.6 400.7,368.8 400.5,369.3 400.5,369.7 400.6,370.1 400.6,370.5 400.6,370.9 400.3,371.4 400.9,371.7 401.0,372.1 401.3,372.5 400.9,373.0 401.0,373.4 401.2,373.8 400.9,374.3 401.1,374.7 401.5,375.0 401.5,375.8 402.4,375.4 402.4,376.1 402.9,376.2 402.9,377.0 403.8,376.5 404.1,376.8 404.1,377.3 404.0,377.8 404.5,378.0 404.5,378.5 404.8,378.8 405.3,379.0 405.0,379.7 405.4,379.9 405.6,380.3 405.7,380.7 405.8,381.1 406.3,381.4 406.6,381.6 406.5,382.2 406.8,382.5 407.0,382.1 406.5,381.6 407.1,381.3 407.0,380.8 407.2,380.4 407.6,380.1 407.3,379.6 407.5,379.2 407.6,378.8 407.1,378.3 407.4,377.9 407.6,377.5 407.7,377.1 408.0,376.7 408.2,376.3 407.7,375.8 408.2,375.5 408.0,375.0 408.0,374.6 407.9,374.1 408.3,373.8 408.0,373.3 408.1,372.9 407.9,372.4 408.2,372.1 408.0,371.6 408.7,371.3 408.2,370.8 408.4,370.4 408.4,370.0 408.5,369.5 408.2,369.1 408.9,368.8 408.7,368.3 408.7,367.9 409.0,367.5 409.1,367.9 409.1,368.3 409.4,368.7 409.2,369.2 409.5,369.6 409.2,370.1 409.1,370.5 409.1,370.9 409.7,371.3 409.6,371.7 409.8,372.1 409.8,372.6 409.8,373.0 409.9,373.4 409.8,373.9 410.2,374.2 410.4,374.6 410.4,375.0 410.0,375.5 410.4,375.9 410.0,376.4 410.3,376.8 410.4,377.2 410.2,377.6 410.5,378.0 410.6,378.4 410.7,378.8 411.0,379.1 410.9,379.6 411.0,380.0 411.8,380.1 411.4,380.7 412.2,380.8 411.8,381.4 412.2,381.6 412.0,382.2 412.4,382.4 412.8,382.7 412.5,383.3 412.9,383.5 412.8,384.0 413.0,384.4 413.5,384.6 413.4,385.1 413.4,385.5 413.6,385.9 414.3,386.1 414.4,386.5 414.8,386.7 414.9,387.2 415.2,387.5 415.3,387.9 415.0,388.5 414.6,387.7 415.2,387.6 415.0,386.9 415.2,386.6 416.5,387.0 416.7,386.7 416.6,386.0 417.3,386.1 417.3,385.5 417.4,385.9 417.7,386.2 417.5,386.9 418.0,387.0 418.6,387.1 419.2,387.2 419.7,387.3 419.4,388.0 419.5,388.5 419.6,388.9 419.7,389.4 420.5,389.3 420.6,389.7 420.7,390.2 420.7,390.7 420.6,391.3 420.9,391.5 421.7,391.5 421.4,392.2 422.1,392.3 422.3,392.6 422.5,393.0 422.7,393.4 423.0,393.7 423.5,393.8 424.1,393.8 424.2,394.3 424.1,395.0 424.4,395.3 424.7,395.6 425.5,395.4 425.5,396.0 426.6,395.5 426.3,396.4 426.5,396.8 426.7,397.2 427.0,397.5 427.0,398.1 427.7,398.0 427.9,398.4 428.8,398.1 428.5,399.0 428.8,399.3 428.8,399.8 428.7,400.3 429.0,400.6 429.7,400.6 429.2,401.4 430.2,401.3 429.9,401.9 430.2,402.2 430.0,402.8 430.8,402.8 431.3,402.5 431.1,402.0 430.8,401.5 431.2,401.1 431.0,400.6 431.4,400.3 431.4,399.9 431.6,399.5 431.6,399.0 431.9,398.7 431.5,398.1 431.8,397.8 432.5,397.5 432.3,397.0 432.4,396.5 432.7,396.2 433.3,396.1 433.6,395.7 433.9,395.4 434.1,395.1 433.8,394.4 433.9,393.9 434.7,393.9 434.5,393.3 434.3,394.0 434.9,394.1 434.7,394.7 435.6,394.6 435.9,395.0 435.7,395.6 436.5,395.7 436.1,396.4 436.9,396.4 436.8,397.0 437.0,397.4 437.8,397.3 437.7,398.0 437.8,398.6 438.0,399.0 438.3,399.3 439.0,399.3 439.6,398.7 439.7,400.3 440.1,400.6 440.6,400.0 441.2,399.6 441.4,400.5 442.0,400.0 442.4,400.3 442.9,400.2 443.1,401.0 443.6,400.9 444.0,401.2 444.5,401.0 445.0,400.8 445.8,400.6 446.3,400.7 445.9,401.7 446.4,401.8 446.2,402.6 447.0,402.4 446.7,403.3 447.6,403.0 447.3,403.9 448.0,403.8 448.4,404.0 448.6,404.9 449.4,403.5 449.9,403.5 450.1,404.7 450.6,404.3 451.0,404.5 451.3,404.9 452.1,404.2 452.5,404.3 452.7,404.9 453.0,405.1 453.3,405.6 454.0,405.1 454.0,406.0 454.5,405.7 454.6,405.3 454.9,404.9 455.5,404.7 455.2,404.0 455.1,403.6 455.5,403.2 455.6,402.8 455.1,402.3 455.3,401.9 455.3,401.4 455.9,401.1 455.6,400.6 455.8,400.2 455.6,399.8 456.0,399.4 456.0,399.0 455.8,398.5 456.3,398.7 456.4,399.1 456.7,399.5 456.5,400.1 456.8,400.4 457.3,400.6 457.5,401.0 457.8,401.3 458.0,401.7 457.8,402.3 458.2,402.5 459.0,402.1 459.2,402.6 459.3,403.3 459.2,404.2 460.0,403.8 460.5,403.7 461.1,403.3 461.1,404.6 461.4,405.0 462.1,404.3 462.3,405.1 462.8,404.8 463.3,404.7 463.6,405.3 464.1,405.0 464.5,405.3 465.0,405.1 465.3,405.6 466.0,404.9 466.6,404.5 467.1,404.5 467.1,405.7 467.6,405.7 467.7,406.7 468.0,407.1 468.7,406.2 469.0,406.8 469.9,406.5 470.0,407.1 470.5,407.2 470.5,407.9 471.0,408.0 471.4,408.3 471.3,409.0 471.1,408.2 471.3,407.7 472.1,407.9 472.6,407.7 472.9,407.5 473.0,406.9 473.5,406.8 473.8,407.6 474.2,407.7 474.7,407.5 475.3,406.7 475.7,406.9 476.1,407.2 476.5,407.5 477.4,407.0 477.7,407.4 478.3,407.3 478.1,408.2 478.7,408.1 478.7,408.8 479.2,408.8 479.6,409.0 479.5,409.8 479.3,410.4 479.7,410.6 479.4,411.2 479.8,411.6 480.2,411.8 480.7,412.0 480.8,412.4 480.9,412.9 481.4,413.1 481.4,413.5 481.8,413.8 481.8,414.3 482.5,414.3 482.8,414.6 482.7,415.2 482.9,415.5 483.4,415.7 483.8,415.9 483.9,416.3 484.1,416.7 484.0,417.3 484.2,417.7 483.8,418.4 484.3,418.7 484.6,419.0 484.8,419.4 485.5,419.5 485.7,419.9 485.9,420.2 486.4,420.4 486.3,421.0 486.6,420.6 486.8,420.2 486.9,419.8 486.8,419.2 486.9,418.8 487.3,418.5 487.4,418.0 487.3,417.5 487.3,417.0 488.1,416.8 488.1,416.3 488.5,416.0 488.2,415.4 488.5,415.0 488.9,414.8 489.4,414.7 489.5,414.1 489.2,413.1 489.6,412.9 490.1,412.7 490.8,412.8 491.2,412.6 491.6,413.1 492.0,412.6 492.4,412.7 492.9,412.5 493.3,413.1 493.7,412.5 494.1,412.6 494.5,412.8 494.9,412.0 495.3,413.7 495.7,412.9 496.1,413.1 496.5,412.9 497.0,411.8 497.4,412.7 497.8,413.3 498.2,412.3 498.6,413.0 499.0,412.8 499.4,413.6 499.8,413.6 500.2,412.8 500.6,412.7 501.0,412.8 501.4,412.4 501.8,412.9 502.2,412.7 502.6,412.6 503.0,412.2 503.4,411.9 503.8,412.2 504.2,412.4 504.6,412.8 505.0,412.5 505.5,411.8 505.9,412.2 506.3,412.4 506.5,413.4 507.0,413.0 507.2,414.2 507.8,413.0 508.2,413.4 508.6,413.2 508.7,413.8 509.1,414.0 509.8,413.7 509.7,414.6 510.0,414.9 510.5,415.0 511.0,415.0 511.3,415.3 512.0,415.0 512.1,415.6 512.9,415.2 512.6,416.2 512.8,416.6 513.2,416.8 513.5,417.1 513.6,417.6 514.2,417.6 514.7,417.7 514.6,418.4 515.1,418.6 514.9,419.3 515.3,419.5 515.1,420.2 515.3,420.5 516.3,420.5 516.5,420.9 516.4,421.4 516.3,421.0 516.2,420.5 516.4,420.1 517.2,419.9 516.8,419.4 517.2,419.0 517.1,418.6 517.5,418.3 517.0,417.8 516.9,417.3 517.4,417.0 517.5,416.5 517.8,416.2 518.1,415.7 517.6,415.1 518.2,414.8 518.5,415.1 518.4,415.6 518.6,416.0 518.8,416.4 518.9,416.8 519.1,417.2 519.1,417.6 519.5,417.9 519.4,418.4 519.0,417.8 519.2,417.4 519.8,417.2 519.9,416.7 519.9,416.3 520.3,416.0 520.3,415.5 520.0,414.9 520.3,414.6 520.9,414.4 520.6,413.8 521.2,413.6 521.5,413.1 522.1,413.7 522.5,413.5 522.9,413.1 523.5,414.0 523.8,413.3 524.2,413.0 524.5,412.3 524.9,411.8 525.3,412.2 525.7,412.2 526.1,412.3 526.5,411.7 527.0,412.5 527.4,412.6 527.8,412.7 528.3,413.2 528.7,413.0 529.0,412.4 529.4,412.3 529.9,412.3 530.3,412.6 530.7,412.8 531.2,411.9 531.6,413.1 532.1,412.3 532.5,412.1 532.9,412.1 533.4,413.0 533.8,412.4 534.2,412.2 534.5,411.9 535.0,412.1 535.2,411.1 535.7,411.5 536.0,410.9 536.4,410.9 536.9,411.0 537.4,411.2 538.0,411.2 538.0,410.6 537.9,409.9 538.7,410.1 539.0,409.8 538.8,409.0 539.3,408.9 539.8,408.8 540.2,408.6 540.6,408.9 541.1,409.2 541.2,407.6 541.8,408.5 542.2,408.6 542.7,409.0 543.2,409.5 543.4,408.2 543.7,407.9 544.3,407.9 545.0,408.0 545.2,407.6 545.0,406.8 545.2,406.4 545.2,405.8 545.7,405.7 545.7,405.1 546.4,405.2 546.5,404.8 546.8,404.4 546.7,403.9 547.4,403.7 547.9,403.4 547.6,402.8 547.3,403.5 547.9,403.6 548.3,403.9 548.4,404.3 548.8,404.6 548.6,405.2 549.0,405.5 549.4,405.8 549.4,406.4 549.4,407.0 550.6,406.4 550.2,407.4 551.0,407.2 551.2,407.6 551.3,407.2 551.7,407.0 551.7,406.5 551.8,406.1 552.5,406.0 552.1,405.4 552.3,405.0 552.8,404.8 553.2,404.5 553.0,404.0 553.2,403.6 553.2,403.2 553.3,402.8 553.4,402.4 554.0,402.1 554.1,401.7 553.7,401.2 554.0,400.8 554.4,400.5 554.2,400.0 554.2,399.6 554.7,399.3 554.7,398.8 554.6,398.4 554.8,398.0 555.3,398.2 555.1,398.7 555.0,399.2 555.7,399.3 555.8,399.7 555.8,400.2 556.3,400.4 556.6,400.7 556.3,401.3 556.6,401.6 557.0,401.4 557.1,401.0 557.5,400.7 557.2,400.1 557.4,399.7 557.5,399.4 558.0,399.2 557.9,398.6 558.0,398.3 558.4,398.0 558.7,397.8 559.5,397.9 559.7,397.6 559.4,396.7 559.8,396.5 560.2,396.2 560.5,395.8 560.2,395.3 560.8,395.0 560.9,394.6 560.8,394.2 560.6,393.7 560.6,393.2 561.0,392.9 560.8,393.7 561.5,393.6 561.5,394.2 561.9,394.5 562.3,394.7 562.7,395.0 562.8,394.6 562.9,394.2 563.2,393.8 563.4,393.5 563.5,393.1 563.5,392.6 563.2,392.1 563.7,391.8 563.3,391.3 563.5,390.9 564.0,390.6 564.5,390.4 564.6,390.0 565.1,389.9 564.7,389.2 564.8,388.7 565.2,388.5 566.2,388.7 565.9,388.0 566.4,387.7 566.4,387.2 566.7,386.8 566.4,386.3 567.1,386.0 566.8,385.4 566.9,385.0 567.3,385.3 567.7,385.6 567.9,385.2 567.9,384.8 567.8,384.4 567.9,384.0 567.7,383.6 568.3,383.2 567.9,382.8 567.9,382.4 568.2,382.0 568.2,381.6 568.3,381.2 568.3,380.8 568.0,380.4 567.9,380.0 568.0,379.6 568.3,379.2 567.9,378.8 568.4,378.4 568.3,378.0 568.6,377.6 568.3,377.2 568.2,377.7 568.1,378.2 568.5,378.5 568.7,378.9 569.0,379.3 569.2,379.7 569.3,380.1 569.3,380.5 569.0,381.1 569.5,381.4 569.9,381.2 570.2,380.9 570.4,380.5 570.8,380.3 570.8,379.7 571.3,379.6 571.6,379.3 571.6,378.8 571.7,378.3 571.9,377.9 572.2,377.6 572.6,377.4 573.1,377.2 573.3,376.8 573.5,376.4 573.6,376.1 573.7,375.6 573.9,375.2 573.9,374.8 574.4,374.5 574.1,374.0 574.2,373.6 574.1,373.1 574.1,372.7 574.3,372.3 574.4,371.9 575.1,371.7 574.9,371.2 574.6,370.7 575.1,370.4 574.8,369.9 574.7,369.5 574.8,369.0 575.4,368.7 575.2,368.2 575.4,367.8 575.3,367.4 575.5,367.0 575.6,366.6 575.6,366.2 575.8,365.8 575.7,365.3 575.7,364.9 576.1,364.5 575.7,364.0 576.0,363.6 575.9,363.2 576.1,362.8" stroke="#0000ff"/>
<path class="ln" d="M196.8,261.0 196.9,260.6 196.6,260.1 196.6,259.7 196.8,259.3 197.1,258.9 197.2,258.5 197.1,258.1 197.1,257.7 197.3,257.3 197.0,256.8 196.5,256.4 197.1,256.0 196.9,255.6 197.3,255.2 197.0,254.8 197.2,254.4 197.6,254.0 197.2,253.5 197.7,253.2 198.0,252.8 197.6,252.3 197.9,252.0 198.1,251.6 198.4,251.2 198.0,250.7 197.9,250.3 198.1,249.9 197.8,249.5 197.9,249.1 198.0,248.7 198.0,248.2 198.4,247.9 198.1,247.4 198.1,247.0 198.3,246.6 198.6,246.2 198.6,245.8 198.0,245.3 198.6,245.0 198.4,244.6 198.7,244.2 199.2,243.9 199.1,243.4 198.6,242.9 199.0,242.6 199.0,242.2 199.1,241.8 198.8,241.3 199.3,241.0 198.9,240.5 199.5,240.2 199.2,239.8 199.5,239.4 199.4,239.9 199.8,240.2 199.7,240.7 199.7,241.1 199.8,241.5 199.8,242.0 200.0,242.3 199.9,242.8 200.6,243.1 200.4,243.6 200.4,244.0 200.1,244.5 200.5,244.8 200.5,245.2 200.4,245.6 200.6,246.0 200.1,246.5 200.8,246.8 200.9,247.2 200.9,247.6 200.9,248.0 201.3,248.4 201.5,248.7 201.2,249.2 201.7,249.5 201.3,250.0 202.0,250.3 201.3,250.8 201.2,251.2 201.4,251.6 201.6,252.0 201.2,252.5 201.5,252.9 201.8,253.2 202.3,253.6 202.6,253.9 202.7,254.4 202.6,254.8 202.1,255.3 202.1,255.7 202.0,256.2 202.5,256.5 202.6,256.9 202.3,257.4 202.5,257.8 202.5,258.2 202.8,258.6 203.2,259.0 202.3,259.5 202.9,259.8 202.6,260.3 203.2,260.6 203.0,261.0 202.8,261.5 202.9,261.9 202.9,262.3 203.5,262.6 202.9,263.1 203.6,263.4 203.0,263.9 203.3,264.3 203.2,264.7 203.5,265.1 203.1,265.5 203.2,266.0 203.6,266.3 203.2,266.8 203.7,267.1 203.4,267.6 203.8,268.0 203.5,268.4 203.7,268.8 203.8,269.2 203.9,269.6 203.8,270.0 204.2,270.4 204.0,270.8 204.0,271.2 204.3,271.6 203.7,272.1 204.0,272.5 204.2,272.9 204.5,273.2 204.2,273.7 203.6,274.1 203.9,274.5 203.9,274.9 203.6,275.4 204.1,275.7 203.8,276.2 204.4,276.5 203.8,277.0 204.2,277.4 204.2,277.8 204.6,278.2 204.0,278.6 204.1,279.0 204.2,279.4 204.5,279.8 205.0,280.2 204.6,280.6 204.4,281.1 204.5,281.5 205.0,281.9 204.0,282.3 204.6,282.7 204.1,283.1 204.5,283.5 205.1,283.9 204.7,284.3 204.7,284.7 205.2,285.1 204.9,285.5 205.4,285.9 205.5,286.3 204.8,286.8 204.6,287.2 205.0,287.6 205.2,288.0 205.2,288.4 205.3,288.8 205.0,289.2 205.1,289.6 204.4,290.0 205.0,290.4 204.8,290.8 204.4,291.2 204.6,291.6 205.0,292.0 204.9,292.4 205.1,292.8 204.8,293.2 205.1,293.6 204.7,294.1 204.7,294.5 205.0,294.9 205.4,295.3 205.1,295.7 205.5,296.1 205.4,296.5 204.8,296.9 205.4,297.3 204.7,297.7 205.2,298.1 205.3,298.5 205.3,298.9 204.7,299.3 204.7,299.7 205.4,300.1 205.2,300.5 205.0,300.9 204.7,301.4 204.9,301.8 204.8,302.2 204.8,302.6 205.2,303.0 205.4,303.4 204.8,303.8 204.6,304.2 205.0,304.6 204.6,304.2 204.9,303.8 205.2,303.4 204.9,303.0 205.1,302.6 205.5,302.2 205.0,301.8 205.2,301.4 205.1,300.9 205.7,300.6 205.4,300.1 205.6,299.7 205.4,299.3 205.1,298.9 205.4,298.5 205.0,298.1 205.2,297.7 205.3,297.3 205.4,296.9 205.1,296.5 205.5,296.1 205.4,295.7 205.6,295.3 205.2,294.9 205.6,294.5 205.3,294.0 205.8,293.7 206.0,293.3 205.7,292.8 205.5,292.4 205.5,292.0 205.4,291.6 205.8,291.2 205.8,290.8 205.8,290.4 205.6,290.0 205.7,289.6 205.5,289.2 205.9,288.8 205.4,288.4 205.6,288.0 205.6,287.6 205.8,287.2 205.3,286.8 205.7,286.4 205.6,286.0 205.7,285.6 205.7,285.2 206.2,284.8 205.7,284.4 205.5,284.0 205.4,283.6 205.9,283.2 206.1,282.8 205.7,282.4 205.9,282.0 205.7,281.6 205.9,281.2 205.5,280.8 206.4,280.4 206.0,280.0 206.6,279.6 206.1,279.2 206.6,278.8 206.6,278.4 206.1,278.0 206.2,277.6 206.5,277.2 206.3,276.8 206.2,276.4 206.6,276.0 206.2,275.6 206.0,275.2 205.8,274.8 206.2,274.4 206.3,274.0 206.0,273.6 206.1,273.2 206.3,272.8 206.0,272.4 206.2,272.0 206.1,271.6 206.8,271.2 206.6,270.8 206.4,270.4 206.1,270.0 206.1,269.6 206.1,269.2 206.7,268.8 206.5,268.4 206.6,268.0 206.8,267.6 206.6,267.2 207.0,266.8 206.7,266.4 206.3,266.0 206.7,265.6 206.2,265.2 207.0,264.8 206.9,264.4 206.5,264.0 206.8,263.6 207.3,263.2 207.2,262.8 207.0,262.4 206.6,262.0 206.5,261.6 207.0,261.2 207.1,260.8 206.8,260.4 206.8,260.0 207.1,259.6 207.4,259.2 206.9,258.8 207.2,258.4 206.9,258.0 207.4,257.6 207.4,257.2 206.9,256.8 207.5,256.4 207.7,256.0 207.4,255.6 207.8,255.2 207.1,254.8 207.3,254.4 207.2,254.0 207.7,253.6 207.5,253.2 207.1,252.8 207.3,252.4 207.4,252.0 207.2,251.6 207.5,251.2 207.5,250.8 207.7,250.4 207.7,250.0 207.4,249.5 207.3,249.1 207.2,248.7 207.7,248.3 208.0,247.9 207.7,247.5 208.1,247.1 207.9,246.7 207.6,246.2 207.4,245.8 207.3,245.4 207.8,245.0 207.4,244.6 207.6,244.2 207.8,243.8 207.6,243.4 208.2,243.0 208.0,242.6 208.0,242.2 207.9,241.8 208.4,241.4 208.5,241.0 208.8,240.6 208.4,240.1 208.8,239.8 208.7,239.4 208.7,238.9 208.2,238.5 208.3,238.1 208.4,237.7 208.1,237.3 208.2,236.9 209.1,236.5 208.8,236.1 209.1,235.7 208.8,235.3 209.0,234.9 208.9,234.5 208.8,234.0 208.9,233.6 208.8,233.2 209.3,232.8 208.9,232.4 208.9,232.0 208.6,231.6 209.2,231.2 208.7,230.8 209.1,230.4 209.1,230.0 209.3,229.6 209.0,229.1 209.3,228.7 209.4,228.3 209.4,227.9 209.0,227.5 209.1,227.1 209.1,226.7 209.1,226.3 209.1,225.9 209.4,225.5 209.3,225.1 208.8,224.6 209.3,224.2 209.2,223.8 209.2,223.4 208.9,223.0 209.1,222.6 209.3,222.2 209.7,221.8 209.6,221.4 209.5,221.0 209.5,220.6 210.0,220.2 209.4,219.7 209.1,219.3 209.3,218.9 209.0,218.5 209.3,218.1 209.3,217.7 209.5,217.3 209.0,217.7 209.2,218.1 209.2,218.5 209.2,218.9 209.6,219.3 209.0,219.8 209.1,220.2 210.1,220.6 209.6,221.0 209.5,221.4 209.5,221.8 209.5,222.2 209.5,222.6 209.5,223.0 210.1,223.4 209.4,223.8 209.3,224.3 209.6,224.7 209.4,225.1 209.8,225.5 209.7,225.9 210.1,226.3 209.9,226.7 209.6,227.1 210.0,227.5 210.2,227.9 210.3,228.3 210.4,228.7 210.1,229.1 210.2,229.5 209.9,230.0 209.7,230.4 209.8,230.8 209.8,231.2 210.0,231.6 210.0,232.0 209.8,232.4 209.9,232.8 209.6,233.2 209.6,233.6 209.9,234.0 209.7,234.4 210.2,234.8 210.4,235.2 210.4,235.6 210.5,236.0 210.0,236.5 209.9,236.9 210.0,237.3 210.3,237.7 210.2,238.1 209.6,238.5 209.9,238.9 210.4,239.3 209.8,239.7 210.1,240.1 210.0,240.5 209.8,240.9 209.8,241.3 209.7,241.7 209.8,242.1 210.6,242.5 210.4,242.9 210.2,243.3 210.1,243.7 210.6,244.1 210.7,244.5 210.3,245.0 210.2,245.4 210.6,245.8 210.2,246.2 210.3,246.6 210.2,247.0 210.8,247.4 210.7,247.8 210.6,248.2 210.6,248.6 210.6,249.0 210.6,249.5 211.2,249.8 210.7,250.4 211.3,250.6 211.4,251.1 211.9,251.4 211.4,252.0 211.9,252.3 212.0,252.7 211.5,253.3 211.8,253.7 211.7,254.2 212.2,254.5 211.8,255.0 212.6,255.3 212.6,255.7 212.4,256.2 212.2,256.6 212.2,257.0 212.0,257.5 212.8,257.8 212.8,258.2 212.8,258.6 212.5,259.1 212.1,259.5 212.2,259.9 212.6,260.3 212.6,260.7 212.5,261.1 212.7,261.5 213.1,261.9 212.9,262.3 213.4,262.7 213.2,263.1 213.4,263.5 213.3,263.9 213.2,264.3 212.9,264.8 213.6,265.1 213.6,265.5 213.5,265.9 213.1,266.4 213.1,266.8 212.7,267.2 212.9,267.6 213.2,268.0 213.5,268.4 213.5,268.8 213.2,269.2 212.9,269.6 213.3,270.0 212.9,270.4 213.4,270.8 213.2,271.2 213.1,271.6 213.5,272.0 212.9,272.4 213.2,272.8 213.4,273.2 213.2,273.6 212.8,274.0 213.1,274.4 213.3,274.8 213.6,275.2 213.9,275.6 213.3,276.0 213.8,276.4 213.2,276.8 214.0,277.2 213.6,277.6 213.8,278.0 213.4,278.4 213.3,278.8 213.1,279.2 213.1,279.6 213.1,280.0 213.9,280.4 213.9,280.8 213.8,281.2 213.3,281.6 213.8,282.0 213.6,282.4 214.1,282.8 214.1,283.2 214.3,283.6 214.5,284.0 213.9,284.5 214.0,284.9 213.5,285.3 214.1,285.7 214.0,286.1 214.2,286.5 213.5,287.0 213.8,287.4 213.7,287.8 214.2,288.2 213.9,288.6 214.1,289.0 214.3,288.6 214.3,288.2 213.7,287.8 214.2,287.4 213.7,286.9 213.9,286.5 214.1,286.1 214.2,285.7 213.9,285.3 213.8,284.9 214.4,284.5 214.3,284.1 213.9,283.7 213.6,283.3 213.6,282.9 213.8,282.5 213.6,282.0 213.9,281.6 214.1,281.2 214.4,280.8 214.9,280.5 214.7,280.0 215.0,279.7 214.4,279.2 214.1,278.8 214.9,278.4 214.6,278.0 215.2,277.6 215.3,277.2 214.9,276.8 215.3,276.4 214.7,276.0 215.2,275.6 215.1,275.2 215.0,274.8 215.0,274.4 214.9,274.0 214.8,273.6 215.0,273.2 215.2,272.8 215.4,272.4 215.0,272.0 215.2,271.6 215.3,271.2 215.3,270.8 215.6,270.4 215.0,270.0 215.7,269.6 215.0,269.2 215.2,268.8 215.7,268.4 215.6,268.0 215.5,267.6 215.7,267.2 216.1,266.9 215.8,266.4 215.4,266.0 215.3,265.6 215.7,265.2 215.0,264.7 215.0,264.3 215.7,264.0 215.9,263.6 216.0,263.2 215.8,262.7 215.8,262.3 215.3,261.8 215.4,261.4 216.0,261.1 216.0,260.7 216.1,260.3 215.9,259.8 216.1,259.4 215.9,259.0 216.1,258.6 216.7,258.3 216.8,257.9 217.0,257.5 216.4,257.0 216.3,256.6 216.4,256.2 216.8,255.8 216.9,255.4 217.0,255.0 217.1,254.6 216.7,254.1 217.1,253.8 216.4,253.3 216.6,252.9 216.2,252.4 216.6,252.1 216.5,251.6 216.6,251.2 216.8,250.8 217.0,250.4 217.4,250.1 217.5,249.7 217.0,249.2 217.0,248.8 217.1,248.4 217.4,248.0 217.0,247.5 217.6,247.2 217.6,246.7 217.6,246.3 217.7,245.9 217.6,245.4 217.8,245.0 218.3,244.7 218.2,244.2 218.6,244.6 217.9,245.1 218.6,245.4 218.7,245.8 218.3,246.2 218.3,246.6 219.0,246.9 218.5,247.4 218.8,247.8 219.1,248.2 218.7,248.6 219.0,249.0 218.6,249.4 218.7,249.8 218.7,250.3 218.7,250.7 219.2,251.0 218.9,251.4 219.2,251.8 219.4,252.2 219.4,252.6 219.5,253.0 219.9,253.4 219.4,253.8 219.2,254.3 219.8,254.6 219.9,255.0 219.6,255.4 219.7,255.8 219.9,256.2 219.9,256.6 220.1,257.0 219.9,257.4 220.0,257.8 220.2,258.2 220.2,258.6 220.1,259.0 220.6,259.4 220.7,259.8 220.7,260.2 220.4,260.6 220.8,261.0 220.4,261.5 220.8,261.8 220.7,262.3 220.4,262.7 221.1,263.1 220.6,263.5 220.9,263.9 221.3,264.3 220.8,264.7 220.7,265.2 221.1,265.5 221.0,266.0 221.0,266.4 221.1,266.8 220.8,267.2 221.1,267.6 221.2,268.0 220.6,268.5 221.2,268.8 221.0,269.3 221.6,269.6 221.4,270.1 221.3,270.5 221.3,270.9 221.9,271.3 221.5,271.8 222.1,272.1 221.5,272.6 222.1,273.0 221.6,273.4 222.0,273.8 221.2,274.3 221.7,274.7 222.1,275.1 222.0,275.5 222.5,275.1 222.4,274.7 222.2,274.3 221.9,273.8 221.9,273.4 222.5,273.0 222.8,272.7 222.7,272.2 222.7,271.8 222.3,271.3 222.7,271.0 222.6,270.5 222.7,270.1 222.9,269.7 223.0,269.3 222.7,268.9 223.0,268.5 222.9,268.1 223.0,267.6 222.8,267.2 222.6,266.8 222.9,266.4 223.2,266.0 223.3,265.6 223.5,265.2 223.1,264.7 223.9,264.4 224.0,264.0 224.2,263.6 224.1,263.2 224.0,262.8 224.1,262.3 223.5,261.8 223.9,261.5 223.7,261.0 223.6,260.6 223.8,260.2 224.1,259.8 223.8,259.3 223.8,258.9 224.4,258.6 224.8,258.5 225.2,258.2 225.0,256.6 226.0,258.0 226.2,257.2 226.7,257.0 227.4,257.4 227.7,257.7 227.6,258.2 228.4,258.4 228.1,258.9 228.2,259.3 228.0,259.8 228.1,260.2 227.9,260.7 228.4,261.0 228.6,261.4 228.0,261.9 228.1,262.3 228.7,262.6 229.0,263.0 228.6,263.5 228.8,263.9 229.0,264.2 229.2,264.6 229.5,264.2 229.0,263.7 228.9,263.3 228.6,262.9 229.0,262.5 229.1,262.1 229.3,261.7 229.3,261.3 229.8,260.9 229.5,260.5 229.3,260.0 229.5,259.6 230.2,259.3 230.1,258.9 230.0,258.4 229.9,258.0 230.4,257.6 230.4,257.2 229.8,256.7 229.6,256.3 229.8,255.9 229.7,255.5 230.4,255.1 230.3,254.7 230.0,254.3 230.2,253.9 230.4,253.5 230.6,253.1 230.1,252.6 230.5,252.2 230.8,251.8 230.5,251.4 230.7,251.0 230.8,250.6 230.9,250.2 231.0,249.8 231.1,249.4 231.0,249.0 230.9,248.6 230.8,248.2 230.9,247.8 230.3,247.3 230.5,247.0 230.3,246.5 231.0,246.2 230.3,245.7 230.7,245.4 231.3,245.0 231.3,244.6 231.0,244.2 231.4,243.8 231.4,243.4 231.1,243.0 231.1,242.6 231.0,242.1 231.1,241.8 231.2,241.4 231.6,241.0 231.8,240.6 231.9,240.2 231.7,239.8 231.9,239.4 232.0,239.0 232.2,238.6 231.7,238.2 231.9,237.8 231.8,237.4 232.0,237.0 232.2,236.6 232.3,236.2 232.2,235.8 232.5,235.4 232.1,235.0 232.4,234.6 232.6,234.2 232.7,233.8 232.7,233.4 232.3,233.0 232.6,232.6 232.3,232.1 233.2,231.9 233.0,231.4 232.9,231.0 233.2,230.6 232.8,230.2 233.2,229.8 233.0,229.4 233.3,229.0 233.3,228.6 232.9,228.2 233.7,227.9 233.3,227.4 233.3,227.0 233.6,226.6 233.4,226.2 233.8,225.8 233.1,225.3 233.8,225.0 233.7,224.6 233.5,224.2 233.5,223.7 233.9,223.4 234.0,223.0 233.5,222.5 233.9,222.2 233.9,221.7 234.0,221.4 234.4,221.0 234.5,220.6 234.4,220.2 234.6,219.8 234.8,219.4 235.1,219.1 235.0,218.6 234.9,218.2 234.9,217.8 234.8,217.4 235.0,217.0 235.5,216.8 235.0,216.0 235.1,215.5 235.8,215.4 236.0,215.0 236.6,215.4 236.0,215.8 235.7,216.2 235.7,216.6 236.2,217.0 236.1,217.4 236.7,217.8 236.3,218.2 236.0,218.7 236.4,219.0 236.4,219.5 236.2,219.9 236.5,220.3 236.8,220.7 236.8,221.1 237.0,221.4 236.5,221.9 236.5,222.3 236.2,222.7 236.6,223.1 236.3,223.5 236.6,223.9 236.8,224.3 236.9,224.7 236.6,225.1 236.9,225.5 237.0,225.9 236.9,226.3 237.4,226.7 237.0,227.1 237.2,227.5 236.6,228.0 236.8,228.4 237.4,228.7 237.2,229.2 236.6,229.6 236.8,230.0 236.8,229.6 236.6,229.2 236.5,228.8 236.2,228.4 236.5,228.0 236.4,227.6 236.6,227.2 236.7,226.8 236.4,226.4 236.7,226.0 236.9,225.6 237.1,225.2 237.1,224.8 237.2,224.4 236.9,224.0 237.0,223.6 236.9,223.2 237.1,222.8 237.1,222.4 236.9,222.0 237.2,221.6 237.2,221.2 237.5,220.8 237.4,220.4 237.5,220.0 237.3,219.6 237.7,219.2 237.3,218.8 237.2,218.4 237.3,218.0 237.3,217.6 237.3,217.2 237.6,216.8 237.5,216.4 237.4,216.0 237.7,215.6 237.4,215.2 237.7,214.8 237.7,214.4 237.5,214.0 237.5,213.6 237.3,213.2 237.4,212.8 237.6,212.4 237.6,212.0 237.6,211.6 237.6,211.2 237.6,210.8 237.6,210.4 237.8,210.0 237.8,209.6 237.7,209.2 237.8,208.8 237.8,208.4 237.7,208.0 237.8,207.6 237.8,207.1 237.9,206.7 237.9,206.3 237.8,205.9 237.9,205.5 237.9,205.1 237.9,204.7 237.9,204.3 237.9,203.9 238.0,203.5 237.9,203.1 238.0,202.7 237.9,202.3 238.0,201.9 238.1,201.5 238.0,201.1 238.1,200.7 238.1,200.3 238.1,199.9 238.2,199.5 238.1,199.1 238.1,198.7 238.1,198.3 238.2,197.9 238.2,197.4 238.2,197.0 238.2,196.6 238.2,196.2 238.2,195.8 238.2,195.4 238.3,195.0 238.4,194.6 238.3,194.2 238.4,193.8 238.4,193.4 238.4,193.0 238.4,192.6 238.4,192.2 238.4,191.8 238.5,191.4 238.5,191.0 238.5,190.6 238.5,190.2 238.5,189.8 238.6,189.4 238.6,189.0 238.5,188.6 238.6,188.2 238.6,187.8 238.6,187.4 238.6,187.0 238.6,186.6 238.7,186.2 238.7,185.8 238.7,185.4 238.7,185.0 238.7,184.6 238.7,184.1 238.7,183.7 238.7,183.3 238.7,182.9 238.8,182.5 238.8,182.1 238.8,181.7 238.8,181.3 238.8,180.9 238.9,180.5 238.9,180.1 238.9,179.7 238.9,179.3 238.9,178.9 238.9,178.5 238.9,178.1 238.9,177.7 239.0,177.3 239.0,176.9 239.0,176.5 239.0,176.1 239.0,176.5 239.0,176.9 239.1,177.3 239.1,177.7 239.1,178.1 239.1,178.5 239.1,179.0 239.1,179.4 239.1,179.8 239.2,180.2 239.2,180.6 239.2,181.0 239.2,181.4 239.2,181.8 239.3,182.2 239.3,182.6 239.2,183.0 239.3,183.4 239.3,183.8 239.3,184.3 239.4,184.7 239.3,185.1 239.3,185.5 239.4,185.9 239.4,186.3 239.4,186.7 239.4,187.1 239.4,187.5 239.5,187.9 239.5,188.3 239.5,188.7 239.5,189.1 239.5,189.6 239.5,190.0 239.6,190.4 239.5,190.8 239.6,191.2 239.6,191.6 239.6,192.0 239.7,192.4 239.6,192.8 239.7,193.2 239.8,193.6 239.8,194.0 239.7,194.4 239.8,194.8 239.8,195.2 239.8,195.6 239.8,196.0 239.9,196.4 239.9,196.8 240.1,197.2 240.1,197.6 240.1,198.0 240.1,198.4 240.2,198.8 240.3,199.2 240.1,199.6 240.2,200.0 240.2,200.4 240.2,200.8 240.4,201.2 240.6,201.6 240.4,202.0 240.5,202.4 240.7,202.8 240.6,203.2 240.5,203.6 240.6,204.0 240.6,204.4 240.7,204.8 240.6,205.2 241.0,205.6 240.9,206.0 241.0,206.4 240.6,206.8 240.9,207.2 241.2,207.6 241.0,208.0 240.9,208.4 241.1,208.8 240.8,209.2 241.2,209.6 240.9,210.0 240.7,210.5 241.2,210.8 240.9,211.2 240.8,211.7 240.9,212.1 241.5,212.4 241.7,212.8 242.0,213.2 241.8,213.6 241.6,214.0 241.5,214.4 241.8,214.8 241.3,215.3 241.8,215.7 241.6,216.1 241.6,216.5 241.6,217.0 241.6,217.4 242.2,217.7 242.4,218.1 242.4,218.5 242.4,218.9 242.4,219.4 242.8,219.7 242.4,220.2 242.5,220.6 242.8,221.0 242.8,221.4 243.2,221.8 243.1,222.2 243.7,222.5 243.1,223.0 243.3,223.4 243.0,223.8 243.4,224.2 243.8,224.5 243.9,224.9 243.8,225.3 244.1,225.7 243.9,226.1 243.6,226.6 243.6,227.0 243.3,226.5 244.1,226.2 244.0,225.8 244.0,225.4 243.9,224.9 244.0,224.5 244.1,224.1 243.9,223.6 244.1,223.2 244.8,222.9 244.9,222.5 244.6,222.0 245.1,221.7 245.3,221.3 245.3,220.9 245.7,220.6 245.5,220.1 245.3,219.6 245.2,219.1 245.6,218.8 246.0,218.5 245.8,218.0 245.3,218.8 245.6,219.2 246.4,219.3 246.6,219.7 247.0,220.0 246.8,220.4 246.9,220.8 246.9,221.2 247.1,221.6 247.7,221.9 247.3,222.4 247.5,222.8 247.1,223.2 247.5,223.6 247.8,224.0 247.4,224.4 247.4,224.8 247.5,225.2 247.5,225.6 247.8,226.0 247.8,226.4 247.5,226.9 247.8,227.3 247.8,227.7 247.7,228.1 248.5,228.4 248.0,228.9 247.9,229.4 248.4,229.7 248.5,230.1 247.9,230.6 248.5,230.9 248.4,231.4 248.1,231.8 248.9,232.1 248.9,232.6 248.8,233.0 249.3,233.3 248.7,233.9 248.8,234.3 249.4,234.6 249.2,235.0 249.9,235.3 249.6,235.8 249.6,236.2 249.7,236.6 249.8,237.0 250.5,237.3 250.4,237.8 250.1,238.2 250.1,238.6 250.3,239.0 250.2,239.5 250.3,239.9 250.2,240.3 250.4,240.7 250.6,241.1 250.2,241.6 250.4,242.0 250.6,242.4 250.6,242.8 250.7,243.2 250.6,243.6 251.0,244.0 251.2,244.4 251.1,244.8 251.2,245.3 251.2,245.7 251.3,246.1 251.7,246.5 251.2,247.0 251.8,247.3 251.6,247.8 251.5,248.2 251.9,248.6 252.0,249.0 252.1,248.6 252.5,248.3 252.9,248.0 252.8,247.5 253.0,247.1 252.8,246.5 253.1,246.2 253.4,245.8 253.6,245.5 253.6,245.0 253.6,244.5 254.0,244.3 254.2,243.9 253.9,243.2 254.4,243.0 255.0,243.0 255.5,243.3 255.3,243.8 255.2,244.2 255.1,244.7 255.6,245.0 255.1,245.5 255.2,245.9 255.3,246.3 256.1,246.5 255.8,247.0 256.0,247.4 255.5,247.9 255.6,248.3 256.0,248.6 256.2,249.0 255.8,249.5 256.1,249.9 256.6,250.2 256.9,250.5 256.5,251.0 256.8,251.4 256.4,251.9 257.1,252.1 257.0,252.6 257.3,252.9 257.0,253.4 257.2,253.8 257.0,254.2 257.4,254.6 257.3,255.0 257.5,255.4 257.5,255.8 257.3,256.2 257.0,256.7 257.5,257.0 257.3,257.5 258.0,257.8 257.5,258.3 257.7,258.7 258.0,259.0 258.1,259.4 258.1,259.8 257.9,260.3 257.9,260.7 257.9,261.1 258.1,261.5 258.5,261.8 258.2,262.3 258.4,262.7 258.8,263.0 258.3,263.5 258.2,263.9 258.3,264.3 258.4,264.7 258.2,265.2 258.8,265.5 259.2,266.3 259.7,264.9 260.1,263.9 260.6,265.0 261.0,265.5 261.3,265.9 261.1,266.3 261.0,266.8 261.3,267.1 261.5,267.5 261.4,268.0 261.5,268.4 261.6,268.8 261.6,269.2 261.7,269.6 261.8,270.0 261.8,270.4 262.0,270.8 261.9,271.2 262.1,271.6 261.8,272.1 262.4,272.4 262.0,272.9 262.8,273.2 262.5,273.7 263.4,273.9 262.0,274.4 261.6,273.8 262.5,273.6 261.8,273.0 262.9,272.9 262.4,272.3 263.0,272.0 262.6,271.5 263.6,271.3 263.5,270.8 264.2,270.6 263.8,270.1 264.4,269.9 264.1,269.3 264.9,269.2 264.0,268.4 264.8,268.3 264.3,267.7 265.2,267.6 264.9,267.0 264.0,267.5 265.0,267.8 264.5,268.3 265.5,268.5 264.9,269.0 265.8,269.3 264.9,269.9 265.6,270.2 265.4,270.6 266.2,270.9 265.0,271.5 265.7,271.8 264.8,272.4 265.5,272.7 264.9,273.2 266.1,273.4 265.5,273.9 266.3,274.2 265.1,274.8 266.3,275.0 265.6,275.5 266.4,275.8 265.5,276.4 266.0,276.7 265.7,277.2 266.7,277.4 266.4,277.9 267.0,278.2 266.3,278.7 267.2,279.0 266.5,279.5 267.2,279.8 266.1,280.4 267.1,280.6 266.5,281.1 267.6,281.3 267.2,281.8 268.1,282.0 267.8,282.5 268.1,282.9 267.4,283.4 267.9,283.8 267.4,284.2 268.6,284.5 267.5,285.0 268.3,285.3 267.4,285.8 267.9,286.2 266.9,286.7 268.1,287.0 267.6,287.4 268.3,287.8 268.1,288.2 269.0,288.5 268.2,289.0 268.7,289.3 268.0,289.8 269.0,290.1 268.1,290.6 269.0,290.9 268.4,291.4 269.0,291.8 268.4,292.2 268.8,292.6 268.4,293.1 269.6,293.3 268.6,293.9 269.4,294.2 268.5,294.7 269.2,295.0 268.7,295.5 269.4,295.8 268.6,296.3 269.3,296.6 268.9,297.1 270.1,297.4 269.4,297.9 270.3,298.2 269.3,298.8 270.0,299.1 269.2,299.6 269.9,300.0 269.1,300.5 270.0,300.8 269.9,301.2 270.5,301.6 269.5,302.1 270.3,302.4 269.8,302.9 270.8,303.2 269.9,303.8 270.5,304.1 269.3,304.7 270.5,305.0 269.7,305.5 270.2,305.8 269.5,306.3 270.1,306.6 269.5,307.1 270.7,307.4 270.0,307.8 270.9,308.2 270.1,308.6 270.6,309.0 269.9,309.5 271.2,309.7 270.8,310.2 271.3,310.5 271.0,311.0 270.3,310.6 271.2,310.2 270.7,309.8 271.5,309.4 270.2,308.9 271.2,308.6 270.7,308.1 271.6,307.8 270.9,307.3 271.4,306.9 270.3,306.5 271.4,306.1 271.0,305.7 271.7,305.3 270.6,304.9 271.4,304.5 270.8,304.1 271.3,303.7 270.8,303.2 271.7,302.9 271.3,302.4 272.2,302.1 271.3,301.6 272.2,301.3 271.6,300.8 272.4,300.5 271.3,300.0 271.9,299.6 271.0,299.2 271.9,298.8 270.9,298.4 271.6,298.0 270.8,297.6 271.6,297.2 271.5,296.8 272.3,296.4 271.3,296.0 272.3,295.6 271.5,295.2 272.2,294.8 271.4,294.4 272.4,294.0 271.7,293.6 272.2,293.2 271.6,292.8 272.4,292.4 271.4,292.0 272.2,291.6 271.4,291.2 272.5,290.8 271.8,290.4 272.5,290.0 272.0,289.6 272.4,289.2 271.4,288.8 272.3,288.4 271.5,288.0 272.5,287.6 271.6,287.1 272.7,286.8 271.8,286.3 273.1,286.0 272.4,285.5 273.1,285.1 272.1,284.7 273.1,284.3 272.3,283.8 273.1,283.5 272.3,283.0 272.6,282.6 272.0,282.1 272.4,281.7 271.6,281.3 272.8,280.9 273.1,280.4 272.6,280.9 273.6,281.2 272.6,281.7 273.2,282.1 272.2,282.6 273.0,282.9 272.6,283.4 273.3,283.7 272.6,284.2 273.3,284.5 272.4,285.0 273.2,285.4 272.5,285.8 273.5,286.1 272.8,286.6 273.9,286.9 273.1,287.4 274.0,287.7 273.2,288.3 274.0,288.6 273.8,289.0 274.2,289.4 273.3,289.9 273.9,290.3 273.3,290.8 273.9,291.1 273.4,291.6 273.5,292.0 274.7,291.7 274.0,291.2 274.8,290.9 273.9,290.4 274.5,290.0 273.7,289.6 274.3,289.2 273.2,288.7 274.3,288.4 273.5,287.9 274.4,287.6 273.8,287.2 274.0,286.8 273.6,286.3 274.2,286.0 273.7,285.5 274.7,285.2 273.9,284.7 275.1,284.5 274.6,284.0 275.7,283.7 274.4,283.1 274.9,282.8 274.4,282.3 275.6,282.0 274.5,281.5 275.4,281.2 274.6,280.7 275.3,280.4 275.0,279.9 275.4,279.5 274.8,279.0 275.4,278.7 275.0,278.2 276.2,278.0 275.2,277.4 275.8,277.1 274.8,276.5 275.5,276.2 274.8,275.7 275.7,275.4 275.2,274.8 276.5,274.8 276.0,274.2 276.9,274.0 276.0,273.4 276.6,273.1 275.8,272.5 276.6,272.3 276.0,271.7 276.6,271.4 275.8,270.8 276.8,270.7 277.8,269.9 277.1,270.7 278.2,270.6 277.6,271.4 278.3,271.5 278.1,272.0 278.8,272.1 278.2,272.9 278.6,273.2 278.6,273.7 279.6,273.7 279.1,274.4 279.8,274.3 279.4,275.6 280.3,275.3 280.4,276.1 281.2,275.3 281.5,276.0 281.9,276.4 280.8,276.9 281.6,277.2 281.3,277.7 282.0,278.0 281.3,278.5 281.8,278.8 281.0,279.3 281.8,279.7 281.1,280.1 282.0,280.5 281.2,281.0 282.5,281.3 281.7,281.7 282.6,282.1 281.5,282.6 282.5,282.9 281.5,283.4 282.1,283.8 281.9,284.2 282.8,284.5 282.0,285.0 283.1,285.3 282.5,285.8 283.3,286.1 282.0,286.6 282.8,287.0 282.2,287.4 283.5,287.7 282.5,288.2 282.6,288.6 282.0,289.1 282.5,289.4 281.8,289.9 283.0,290.2 282.8,290.6 283.5,290.9 282.5,291.4 282.7,291.8 282.3,292.3 283.4,292.6 282.6,293.1 283.5,293.4 282.5,293.9 283.2,294.3 282.5,294.7 283.7,295.0 282.8,295.5 283.7,295.9 282.9,296.3 283.1,296.7 282.6,297.2 283.8,297.5 283.2,298.0 283.7,298.3 282.6,298.8 283.6,299.2 283.1,299.6 283.7,300.0 283.0,300.4 283.7,300.8 283.1,301.3 284.3,301.6 283.3,302.1 283.9,302.4 283.4,302.9 284.4,303.2 283.6,303.7 284.5,304.0 283.8,304.5 284.3,304.9 283.8,305.3 284.7,305.7 283.6,306.2 284.2,306.5 283.0,307.0 283.8,307.4 282.9,307.9 284.0,308.2 283.7,308.6 284.3,309.0 283.9,309.4 284.8,309.8 283.9,310.2 284.8,310.6 284.2,311.0 284.8,311.4 284.1,311.8 284.8,312.2 283.9,312.7 284.5,313.0 283.9,313.5 285.0,313.8 284.0,314.3 284.7,314.6 283.8,315.1 284.5,315.5 283.5,315.9 284.5,316.3 283.8,316.7 285.2,317.0 284.5,317.5 285.3,317.9 284.2,318.3 284.5,318.7 283.6,319.2 285.0,319.5 285.5,319.2 284.7,318.6 285.3,318.2 284.4,317.6 285.1,317.3 285.1,316.8 286.0,316.6 285.3,315.9 285.8,315.6 284.9,314.9 286.2,314.8 285.8,314.3 286.7,314.1 286.5,313.5 285.9,314.0 286.4,314.3 285.6,314.8 286.6,315.1 286.1,315.6 286.9,315.9 286.2,316.4 286.7,316.7 285.9,317.2 286.4,317.6 286.1,318.0 287.2,318.3 286.7,318.8 287.6,319.1 286.5,319.6 287.4,320.0 286.6,320.5 287.3,320.8 286.6,321.3 287.0,321.7 286.4,322.2 287.1,322.5 286.2,323.0 287.4,323.3 286.9,323.8 287.6,324.1 286.9,324.6 287.7,324.9 287.2,325.4 288.0,325.7 287.4,326.2 288.2,326.5 288.0,327.0 286.8,326.4 287.8,326.2 286.9,325.6 287.7,325.3 286.9,324.8 287.9,324.5 287.3,324.0 288.2,323.8 287.7,323.3 289.0,323.1 288.3,322.6 289.4,322.3 288.8,321.8 289.3,321.5 288.4,320.9 288.8,320.6 288.2,320.0 288.5,319.7 288.0,319.2 288.9,318.9 288.7,318.5 289.8,318.3 289.4,317.8 290.0,317.5 288.7,316.8 289.5,316.6 289.4,316.1 290.4,315.9 289.6,315.3 290.3,315.1 289.8,314.4 290.7,314.4 290.4,313.8 291.1,313.7 290.3,312.8 291.6,313.0 291.2,312.3 292.2,312.5 291.5,311.4 292.5,311.6 292.0,310.7 292.9,310.8 292.3,309.8 292.9,309.9 293.8,309.8 293.4,310.5 294.0,310.7 293.7,311.3 294.8,311.2 294.0,312.1 294.6,312.3 293.7,313.2 294.4,313.4 294.1,314.0 295.2,314.0 294.9,314.6 295.8,314.9 295.0,315.5 295.9,315.7 295.2,316.3 296.1,316.5 295.4,317.0 296.1,317.3 295.0,318.0 295.8,318.2 295.0,318.8 295.8,319.0 295.3,319.6 296.3,319.8 295.6,320.3 296.8,320.5 296.5,321.0 297.5,321.2 296.6,321.8 297.5,322.1 296.8,322.6 297.1,323.0 296.2,323.6 297.3,323.8 296.7,324.3 297.2,324.7 296.4,325.2 297.1,325.5 296.2,326.1 296.9,326.4 296.3,326.9 297.2,327.2 296.7,327.7 297.3,328.1 296.9,328.6 297.5,328.8 296.9,329.4 297.6,329.6 297.1,330.2 298.0,330.4 297.5,330.9 298.5,331.1 297.9,331.6 298.6,331.9 298.1,332.4 299.3,332.5 299.0,333.0 299.6,333.2 298.7,334.0 299.5,334.2 299.2,334.7 300.6,334.6 300.0,335.3 300.9,335.4 300.3,336.1 301.0,336.3 300.1,337.0 301.0,337.2 300.0,337.9 300.9,338.1 300.5,338.7 301.3,338.8 301.0,339.4 302.0,339.4 301.5,340.0 302.1,340.3 301.5,340.9 302.0,341.3 301.5,341.8 302.3,342.1 301.9,342.6 301.9,343.0 302.8,342.7 302.2,342.1 303.3,341.9 302.7,341.4 303.2,341.0 302.3,340.5 303.2,340.2 302.2,339.6 302.9,339.3 302.9,338.8 304.0,338.6 302.8,338.0 303.3,337.6 302.4,337.0 303.2,336.7 302.4,336.1 303.3,335.8 302.7,335.3 303.3,335.1 303.7,335.4 303.3,336.0 304.1,336.2 303.7,336.8 304.9,336.9 304.2,337.6 305.0,337.8 304.6,338.4 304.9,338.7 304.3,339.4 304.8,339.7 304.2,340.3 305.3,340.4 304.9,341.0 306.0,341.1 305.1,341.8 306.0,342.0 305.4,342.7 306.0,343.0 305.5,343.5 306.4,343.7 305.4,344.3 306.6,344.5 306.5,344.9 307.2,345.2 306.6,345.7 307.4,345.9 306.5,346.6 307.6,346.7 306.7,347.4 307.1,347.7 306.4,348.3 307.4,348.5 306.9,349.0 307.5,349.3 306.5,349.9 307.4,350.1 307.3,350.9 308.5,350.2 308.2,351.3 309.0,351.0 308.8,352.0 310.3,351.6 309.3,352.5 310.0,352.6 309.3,353.4 310.8,353.2 310.6,353.8 311.3,353.9 310.6,354.7 311.8,354.6 311.2,355.3 312.2,355.6 311.6,356.1 312.3,356.4 311.6,357.0 312.4,357.2 312.0,357.7 312.2,358.1 311.1,358.7 312.3,358.9 311.9,359.4 312.6,359.7 312.1,360.2 312.7,360.5 312.2,361.0 312.9,361.3 312.2,361.9 312.7,362.2 311.8,362.8 312.5,363.1 312.0,363.6 312.7,363.9 311.9,364.5 312.9,364.7 312.2,365.3 313.8,365.4 313.5,366.1 313.6,365.7 314.2,365.4 312.8,364.7 313.5,364.4 313.0,363.8 313.9,363.6 313.3,363.0 314.4,362.8 313.7,362.3 314.6,362.0 313.8,361.4 313.0,361.2 313.9,361.4 313.7,361.9 314.7,362.1 314.1,362.6 315.2,362.8 314.5,363.4 315.4,363.6 314.4,364.2 315.2,364.5 314.8,365.0 315.4,365.3 314.5,365.8 315.5,366.1 314.8,366.6 315.6,366.9 315.2,367.4 315.7,367.7 314.5,368.3 315.4,368.6 315.0,369.1 316.2,369.3 315.4,369.8 316.0,370.1 315.3,370.6 315.9,371.0 315.5,371.4 316.6,371.7 315.9,372.2 316.5,372.5 315.5,373.0 316.2,373.4 315.6,373.8 316.3,374.2 315.4,374.7 316.2,375.0 315.6,375.4 316.3,375.8 315.9,376.2 316.8,376.5 316.0,377.0 317.0,377.4 315.9,377.8 316.7,378.2 315.7,378.6 316.2,379.0 315.5,379.5 315.9,379.9 315.1,380.3 316.3,380.6 316.1,381.1 317.3,381.4 316.1,381.9 316.5,382.3 316.1,382.7 316.8,383.1 316.1,383.5 316.6,383.9 316.0,384.3 317.0,384.7 316.1,385.1 316.1,385.5 317.2,385.1 316.6,384.7 317.6,384.4 316.9,383.9 317.6,383.5 316.8,383.1 317.3,382.7 316.3,382.2 317.0,381.9 316.4,381.4 317.3,381.1 316.9,380.6 317.4,380.3 316.5,379.8 317.4,379.5 316.3,379.0 317.3,378.6 316.5,378.2 317.5,377.9 316.5,377.4 317.5,377.0 316.7,376.6 317.7,376.2 317.2,375.8 318.1,375.5 317.2,375.0 318.0,374.6 317.3,374.2 318.7,373.9 317.6,373.4 318.1,373.0 317.2,372.5 318.3,372.2 317.8,371.8 318.7,371.4 317.7,370.9 318.1,370.6 317.1,370.1 317.6,369.7 317.0,369.3 317.7,368.9 317.4,368.5 318.5,368.2 318.0,367.7 318.9,367.4 317.9,366.9 318.4,366.5 317.6,366.1 318.0,365.7 317.8,365.3 318.6,364.9 317.8,364.4 318.5,364.1 317.8,363.6 318.5,363.3 317.7,362.8 318.9,362.5 318.3,362.0 319.0,361.7 318.2,361.2 318.5,360.8 317.8,360.4 319.0,360.0 318.1,359.6 318.4,359.2 317.6,358.7 318.8,358.4 318.4,358.0 319.2,357.6 318.8,357.2 319.6,356.8 318.7,356.3 319.4,356.0 318.6,355.5 318.8,355.1 318.0,354.7 318.7,354.3 317.6,353.8 318.5,353.5 318.0,353.1 319.0,352.7 318.0,352.2 318.6,351.9 317.7,351.4 318.7,351.1 318.1,350.6 319.1,350.3 318.5,349.8 319.4,349.5 318.9,349.0 319.6,348.7 318.7,348.2 319.3,347.8 318.6,347.4 319.6,347.0 319.2,346.6 319.9,346.2 319.1,345.8 319.9,345.4 319.5,345.0 320.2,344.6 319.2,344.1 319.7,343.8 318.9,343.3 319.9,343.0 319.2,342.5 320.2,342.2 319.6,341.7 320.2,341.4 318.8,340.9 319.1,340.5 319.9,340.9 319.2,341.3 319.9,341.7 319.3,342.2 320.4,342.5 319.5,343.0 320.6,343.3 319.8,343.8 320.5,344.2 319.9,344.6 320.9,345.0 319.9,345.4 320.8,345.8 319.8,346.3 320.7,346.6 320.0,347.1 320.5,347.4 319.8,347.9 320.7,348.3 319.7,348.7 320.9,349.1 320.0,349.5 320.8,349.9 320.1,350.4 321.0,350.7 320.2,351.2 321.0,351.5 320.1,352.0 320.4,352.4 319.9,352.8 320.3,353.2 319.4,353.7 320.1,354.0 319.5,354.5 321.0,354.7 320.7,355.2 321.5,355.5 320.7,356.0 321.5,356.3 320.9,356.8 321.6,357.1 320.7,357.6 321.4,357.9 320.9,358.4 321.6,358.8 321.0,359.2 321.7,359.6 321.2,360.0 321.9,360.4 320.7,360.9 321.4,361.2 320.9,361.7 322.1,362.0 320.9,362.5 321.7,362.9 320.8,363.3 321.9,363.7 321.0,364.2 322.2,364.5 321.6,364.9 322.4,365.3 321.4,365.8 322.1,366.1 321.2,366.6 322.2,366.9 321.4,367.4 322.1,367.7 321.4,368.2 322.0,368.6 320.9,369.1 322.3,369.3 321.6,369.8 323.0,370.1 322.1,370.6 323.3,370.9 321.9,371.4 322.5,371.7 321.7,372.2 322.3,372.6 322.5,373.0 321.4,372.5 322.0,372.2 320.9,371.6 321.9,371.3 321.5,370.9 322.2,370.5 321.4,370.0 322.3,369.7 321.6,369.2 322.1,368.8 321.4,368.4 322.5,368.0 321.8,367.6 322.7,367.2 322.1,366.8 322.7,366.4 322.2,365.9 323.2,365.6 322.4,365.1 323.3,364.8 322.6,364.3 323.7,364.0 323.0,363.5 323.7,363.2 323.1,362.7 323.7,362.3 323.2,361.8 324.0,361.5 323.2,361.0 323.7,360.6 323.1,360.1 324.0,359.9 323.1,359.3 324.2,359.1 323.6,358.5 324.6,358.3 323.6,357.7 324.6,357.5 323.3,356.8 324.3,356.6 323.5,356.0 324.7,355.9 324.1,355.3 324.9,355.1 324.1,354.5 324.7,354.2 326.0,353.8 325.2,354.3 326.2,354.6 325.3,355.2 326.0,355.5 325.0,356.1 325.2,356.5 324.8,356.9 325.4,357.3 324.9,357.8 326.2,358.1 325.3,358.6 326.1,358.9 325.3,359.5 326.0,359.8 325.5,360.3 326.3,360.7 325.4,361.2 326.0,361.6 325.3,362.1 326.4,362.4 325.6,362.9 325.7,363.2 326.3,362.9 325.5,362.3 326.8,362.1 326.4,361.6 327.5,361.4 326.8,360.8 327.8,360.6 327.1,360.0 327.7,359.8 327.1,359.0 328.0,358.9 327.6,358.2 328.2,358.2 328.0,357.1 328.8,357.3 328.8,356.6 329.9,357.1 329.7,356.3 329.4,356.4 330.5,356.5 330.0,357.2 331.0,357.2 330.4,358.0 330.9,358.2 330.3,359.0 331.5,359.0 331.1,359.6 332.0,359.7 331.6,360.3 331.8,360.1 332.8,361.1 332.8,359.8 333.9,360.1 333.1,359.5 334.1,359.3 333.4,358.7 334.5,358.5 333.4,357.8 334.1,357.6 333.8,357.1 334.9,356.9 334.2,356.3 335.0,356.1 334.5,355.5 335.1,355.2 334.6,354.7 334.0,354.6 334.9,354.7 334.9,355.3 336.1,355.3 335.1,356.2 335.3,356.6 335.0,357.2 336.0,357.2 335.4,357.9 336.2,358.0 335.1,358.9 336.1,358.9 335.8,359.4 336.8,359.6 336.1,360.2 337.1,360.4 336.8,360.9 337.8,361.0 337.0,361.7 337.9,361.9 337.1,362.5 338.1,362.7 337.3,363.3 337.7,363.6 336.9,364.2 337.6,364.5 337.0,365.0 338.2,365.2 337.6,365.7 338.5,366.0 338.0,366.4 339.0,366.7 338.4,367.2 338.7,367.6 337.9,368.1 338.7,368.4 338.2,368.9 339.5,369.1 338.8,369.6 339.4,369.9 338.5,370.5 339.5,370.7 338.6,371.3 339.7,371.5 338.7,372.1 339.6,372.4 339.3,372.9 340.1,373.2 339.3,373.8 339.7,374.1 338.8,374.7 339.6,375.0 339.1,375.5 340.1,375.8 339.5,376.3 340.3,376.7 339.6,377.2 340.4,377.5 340.6,378.1 340.0,377.5 340.9,377.2 340.2,376.6 341.1,376.4 340.1,375.7 340.9,375.4 340.1,374.8 340.7,374.5 340.1,373.8 341.5,373.6 341.2,373.0 341.1,372.8 342.2,372.7 341.7,373.4 342.3,373.6 341.8,374.4 342.8,374.3 342.4,375.0 342.7,375.3 343.7,375.1 343.0,374.5 343.5,374.2 343.2,373.7 344.1,373.4 343.1,372.8 343.7,372.5 343.2,371.9 343.8,371.7 343.2,371.1 344.0,370.8 343.7,370.3 343.7,370.5 344.4,370.3 344.7,370.5 345.1,370.7 345.4,371.0 345.9,370.8 346.4,370.8 346.3,370.3 346.8,370.0 346.9,369.6 347.3,369.3 347.2,368.8 347.1,368.2 347.6,368.0 347.5,367.4 348.3,367.3 348.2,366.7 348.5,366.4 348.6,365.9 349.0,366.2 349.4,366.6 349.4,367.1 349.3,367.6 349.6,368.0 350.1,368.2 350.4,368.5 350.7,368.8 350.6,369.4 350.6,369.9 350.8,370.3 351.3,370.5 351.4,371.0 351.8,371.1 351.6,371.8 351.7,372.2 351.9,372.6 352.9,372.4 353.5,372.5 353.4,373.1 353.5,373.5 353.7,373.9 354.0,374.2 353.6,374.8 354.1,375.1 353.9,375.6 354.1,376.0 354.2,376.4 354.8,376.7 354.8,377.2 355.3,377.4 355.0,378.0 355.3,378.4 355.6,378.7 355.2,379.3 355.5,379.7 355.8,380.0 355.4,380.6 355.8,380.9 355.7,381.4 355.8,381.8 356.1,382.2 356.5,382.5 356.5,382.9 356.6,383.3 356.9,383.6 357.3,383.9 357.6,384.2 357.2,384.8 357.3,385.2 357.6,385.5 357.8,385.9 357.6,386.4 357.9,386.7 358.1,387.0 358.0,387.5 358.2,387.9 358.7,388.1 358.8,388.5 359.1,388.8 359.1,389.3 359.3,389.6 359.2,390.1 359.4,390.5 359.2,391.0 359.2,391.4 359.6,391.7 359.5,392.2 359.6,392.5 360.0,392.9 360.6,393.1 360.5,393.6 360.5,394.0 360.4,394.5 361.0,394.7 360.9,395.2 361.1,395.5 361.0,396.0 361.1,395.6 360.7,395.2 361.1,394.8 360.9,394.4 361.1,394.0 360.9,393.6 360.9,393.2 361.1,392.8 361.4,392.4 361.5,392.0 361.4,391.6 361.7,391.2 362.0,390.8 361.8,390.4 361.6,390.0 361.7,389.6 361.4,389.2 361.8,388.8 361.5,388.4 361.8,388.0 361.5,387.6 361.4,387.1 361.6,386.8 362.0,386.4 362.3,386.0 362.6,385.6 362.6,385.2 362.4,384.8 362.3,384.4 361.8,383.9 361.7,383.5 361.8,383.1 362.1,382.7 362.1,382.3 361.8,381.9 361.9,381.5 362.3,381.1 362.5,380.7 362.2,380.3 362.3,379.9 362.5,379.5 362.5,379.1 362.5,378.7 362.6,378.3 362.7,377.8 362.9,377.4 362.6,377.0 362.5,376.6 363.1,376.2 363.1,375.8 362.8,375.3 363.5,375.0 363.2,374.5 363.2,374.1 363.0,373.7 363.1,373.3 363.5,372.9 363.3,372.4 363.1,372.0 363.2,371.6 363.3,371.2 363.3,370.8 363.4,370.3 363.3,369.9 362.8,369.5 363.1,369.1 363.6,368.7 363.6,368.3 363.8,367.9 363.3,367.4 363.5,367.0 363.6,366.6 363.5,366.2 363.9,365.8 363.6,365.3 363.8,364.9 363.7,364.5 363.3,365.0 364.0,365.3 363.7,365.8 364.0,366.1 364.3,366.4 364.6,366.8 364.2,367.3 364.5,367.6 364.6,368.0 364.4,368.5 364.9,368.8 364.9,369.3 365.1,369.7 365.3,370.1 365.5,370.5 366.1,370.4 366.2,369.8 366.6,369.6 366.6,369.0 366.7,368.5 367.4,368.4 367.8,368.1 367.8,367.5 368.0,367.1 367.9,366.7 368.0,366.3 368.7,366.0 368.5,365.6 368.9,365.3 368.3,364.7 368.6,364.3 368.7,364.0 368.4,363.5 368.6,363.1 368.7,362.7 368.8,362.3 369.2,362.0 369.9,361.7 369.7,361.3 369.9,360.9 369.3,360.3 370.0,360.0 369.9,359.6 370.4,359.3 370.2,358.8 370.3,358.4 370.5,358.0 370.4,357.5 370.5,357.1 370.5,356.7 370.8,356.3 371.2,356.6 371.4,357.0 371.5,357.4 371.7,357.8 371.4,358.3 371.5,358.8 371.5,359.2 372.1,359.5 371.8,360.0 372.3,360.3 372.1,360.8 372.2,361.2 372.3,361.6 372.7,361.9 372.5,362.5 372.7,362.8 372.6,363.3 373.0,363.6 373.2,364.0 373.0,364.5 373.8,364.5 373.7,365.0 373.7,365.5 373.7,366.0 374.2,366.2 374.5,366.5 374.5,367.0 374.6,367.4 374.8,367.8 375.2,368.1 375.4,368.4 375.6,368.8 376.0,369.0 376.1,369.5 376.2,370.0 376.6,370.2 377.3,370.1 377.5,370.5 377.7,370.9 377.8,371.4 377.9,371.9 378.0,372.4 379.0,372.0 379.0,372.5 379.4,372.7 379.7,373.1 380.1,373.3 380.1,373.8 380.3,374.2 380.4,374.6 380.5,375.0 380.8,374.6 381.2,374.3 381.2,373.9 380.8,373.4 381.1,373.0 380.9,372.5 381.5,372.3 381.2,371.8 381.7,371.5 381.6,371.0 381.5,370.5 381.7,370.2 381.8,369.8 382.0,369.4 382.5,369.1 382.5,368.7 382.4,368.2 382.4,367.8 382.8,367.5 383.1,367.1 383.4,366.8 383.9,366.7 383.5,365.4 384.1,365.5 385.0,366.0 385.1,365.6 385.0,365.0 385.6,364.8 385.6,364.2 386.1,364.0 386.2,363.5 386.2,363.0 387.0,362.9 387.2,362.5 386.9,361.8 387.3,361.5 387.3,361.1 387.5,360.7 387.7,360.3 387.5,359.9 387.8,359.5 387.9,359.1 388.1,358.7 387.6,358.2 388.0,357.9 388.2,357.5 388.5,357.1 388.6,356.7 388.2,356.2 388.5,355.7 388.9,355.4 388.8,354.9 388.6,354.4 388.8,354.0 389.2,354.3 389.0,355.0 389.7,355.1 389.9,355.5 390.7,355.5 390.8,356.0 390.8,356.6 391.0,357.0 391.1,357.4 391.1,357.9 391.4,358.2 391.5,358.6 391.9,358.9 392.1,359.3 392.3,359.7 392.8,359.9 392.7,360.4 392.8,360.8 392.7,361.3 393.3,361.5 394.2,360.6 394.3,361.3 394.8,361.2 395.2,361.4 395.6,361.7 395.6,362.6 395.9,362.9 396.3,363.0 397.0,362.9 397.4,362.7 397.1,361.8 397.5,361.5 398.0,361.3 398.1,360.8 397.8,360.1 398.5,360.0 398.2,359.5 398.8,359.2 398.5,358.6 398.9,358.3 398.8,357.8 399.4,357.5 399.2,357.0 399.2,356.5 399.5,356.1 399.4,355.6 399.4,355.2 399.8,354.8 399.7,355.3 399.7,355.7 400.1,356.0 399.7,356.5 400.3,356.8 400.5,357.2 400.8,357.5 400.6,358.0 400.9,358.3 400.7,358.8 401.2,359.1 400.9,359.6 400.9,360.0 400.9,360.4 401.2,360.8 401.5,361.1 401.5,361.5 401.7,361.9 402.1,362.2 401.7,362.8 402.1,363.1 402.1,363.5 402.3,363.9 402.4,364.3 402.5,364.8 403.3,364.8 403.4,365.2 403.6,365.6 403.8,366.0 404.0,366.3 404.4,366.6 404.8,366.9 404.9,367.3 404.8,367.9 405.1,368.1 404.6,368.9 405.2,369.0 405.1,369.5 405.0,370.0 405.8,370.2 406.0,370.5 406.5,370.4 406.4,369.8 406.6,369.4 407.3,369.5 407.4,369.0 407.7,368.6 407.3,368.1 407.7,367.8 407.5,367.3 407.8,366.9 407.9,366.5 407.4,366.0 408.0,365.7 408.0,365.2 408.1,364.8 408.0,364.4 408.2,364.0 408.6,363.6 408.2,363.2 408.3,362.8 408.7,362.4 408.4,361.9 408.6,361.5 408.6,361.1 408.8,360.7 408.7,360.3 408.9,359.9 408.4,359.4 408.9,359.0 408.3,358.6 409.0,358.2 409.0,357.8 409.1,358.2 408.9,358.7 409.6,359.0 409.8,359.4 409.5,359.9 409.9,360.2 409.9,360.7 409.5,361.2 409.7,361.6 409.8,362.0 410.3,362.3 410.1,362.8 410.1,363.2 410.6,363.5 410.4,364.0 410.4,364.4 410.6,364.7 410.1,365.2 410.4,365.6 410.5,366.0 410.3,366.7 410.9,366.8 411.2,367.0 411.1,367.6 411.9,367.5 412.1,368.0 412.3,368.3 412.3,368.9 412.8,369.0 412.9,369.4 412.8,369.9 413.2,370.2 414.0,370.3 413.7,370.9 413.8,371.3 414.0,371.6 414.0,372.2 414.6,372.3 414.3,372.9 414.6,373.2 415.0,373.5 415.5,373.3 415.4,372.8 415.6,372.4 415.9,372.1 415.7,371.5 415.9,371.2 416.5,371.0 416.4,370.5 416.3,370.0 417.0,369.9 417.1,369.4 417.4,369.1 416.9,368.4 417.4,368.1 417.4,367.7 418.0,367.5 418.3,367.8 419.2,367.7 419.5,368.0 419.7,368.3 419.8,368.7 419.2,369.7 419.3,370.2 419.8,370.3 420.3,370.5 420.7,370.9 421.2,370.5 421.6,370.2 422.0,370.2 422.4,370.0 422.9,369.6 423.3,370.5 423.9,370.2 424.0,371.0 424.7,370.6 424.8,371.2 425.3,371.1 425.8,371.2 426.2,371.2 426.3,372.0 426.5,372.4 426.3,372.9 426.5,373.2 426.7,373.6 426.9,374.0 426.9,374.4 426.6,374.9 427.2,375.2 427.2,375.6 427.4,376.0 427.6,376.4 427.8,376.7 428.1,377.1 428.0,377.5 428.0,377.9 428.2,378.3 428.2,378.8 428.4,379.1 428.5,379.5 428.5,380.0 429.2,380.1 429.1,380.6 429.1,381.1 429.4,381.4 429.5,381.8 429.6,382.3 429.9,382.5 430.2,382.9 430.2,383.4 430.5,383.7 430.8,384.0 431.3,383.7 431.3,383.3 431.5,382.9 431.6,382.5 431.8,382.1 431.2,381.6 431.5,381.2 431.4,380.8 431.8,380.5 431.6,380.0 431.8,379.6 431.5,379.1 431.8,378.8 431.8,378.4 431.6,377.9 431.7,377.5 432.2,377.2 431.9,376.7 432.0,376.3 432.5,375.9 432.3,375.5 432.6,375.2 432.9,374.8 432.8,374.2 433.2,373.9 433.4,373.5 433.6,373.1 434.0,372.9 434.1,372.4 434.5,372.3 434.8,372.6 434.4,373.2 435.0,373.5 435.2,373.8 435.2,374.3 435.6,374.6 435.6,375.0 436.1,375.3 435.8,375.9 435.9,376.4 436.6,376.6 436.7,377.1 436.8,377.5 437.5,377.5 437.7,377.9 437.4,378.6 438.4,378.4 438.4,378.9 438.6,379.2 439.1,379.4 439.2,379.8 439.0,380.5 439.3,381.0 439.7,381.4 440.1,381.7 440.6,381.5 441.2,380.9 441.7,380.5 442.0,381.3 442.6,380.8 442.7,382.1 443.1,382.4 443.6,382.2 444.0,382.4 444.5,382.4 445.0,382.0 445.2,382.4 445.1,382.9 445.6,383.1 445.6,383.6 445.6,384.0 446.1,384.3 446.0,384.8 446.1,385.2 446.4,385.6 446.5,386.0 447.2,386.1 447.3,386.5 447.6,386.9 448.1,386.8 448.5,386.8 449.2,386.4 449.3,387.3 449.3,388.2 449.7,388.2 450.3,388.0 450.4,389.2 450.8,389.3 451.7,388.2 452.2,388.3 452.5,388.8 452.5,389.3 452.6,389.7 453.0,390.0 453.4,390.3 453.7,390.7 453.8,391.1 453.9,391.5 453.8,392.0 454.2,392.3 454.0,392.8 454.2,393.1 454.3,393.6 454.1,394.0 454.4,394.3 454.7,394.7 454.9,395.1 454.8,395.5 454.5,395.0 454.9,394.7 454.5,394.2 454.6,393.8 454.5,393.3 454.8,392.9 454.8,392.5 455.0,392.1 455.0,391.7 455.0,391.3 455.0,390.8 455.2,390.4 455.3,390.0 455.7,389.6 455.2,389.2 455.4,388.8 455.4,388.4 455.5,388.0 455.8,387.6 455.9,387.2 455.8,386.8 455.9,386.4 455.6,385.9 455.7,385.5 455.6,385.1 456.1,384.7 455.8,384.3 456.0,384.6 456.1,385.1 456.7,385.2 456.7,385.6 457.1,385.9 456.9,386.4 457.5,386.5 457.6,386.9 457.8,387.3 458.5,387.4 458.5,387.9 458.6,388.3 458.9,388.6 458.9,389.1 459.3,389.4 459.2,389.9 459.4,390.3 459.5,390.8 460.0,391.0 460.5,391.4 460.9,391.3 460.9,389.8 461.2,389.5 462.0,390.7 462.3,390.3 462.7,390.5 463.1,390.7 463.1,391.3 463.4,391.6 463.4,392.2 463.8,392.4 464.5,392.3 465.0,392.4 465.5,392.5 465.3,393.3 465.7,393.5 466.5,392.7 466.6,393.5 466.8,394.1 467.2,394.2 467.8,393.9 467.6,395.3 468.3,394.8 467.9,395.5 468.3,395.8 469.0,395.9 468.8,396.5 469.5,396.6 469.7,397.0 469.6,397.5 470.0,397.8 470.2,398.2 470.5,398.5 470.5,399.0 471.1,399.1 471.4,399.4 471.2,400.0 471.2,400.5 471.6,400.8 471.5,401.3 472.0,401.5 472.1,401.1 472.2,400.7 472.6,400.4 472.8,400.0 473.0,399.7 472.8,399.1 473.3,398.8 473.5,398.5 473.8,398.1 474.2,397.9 474.6,397.7 475.0,397.4 474.9,396.7 475.8,397.0 475.8,396.3 475.7,396.9 476.3,397.0 476.1,397.6 476.3,398.0 477.0,398.1 477.5,398.3 477.7,398.7 478.1,398.9 477.7,399.7 478.0,400.0 478.2,400.4 478.0,401.0 478.8,401.0 478.3,401.8 478.7,402.0 479.1,402.2 479.9,402.3 480.3,402.5 480.3,402.9 481.0,403.0 480.6,403.8 480.9,404.0 481.0,404.5 480.7,405.0 481.0,405.3 481.4,405.6 480.9,406.2 481.2,406.5 481.7,406.8 481.9,407.2 481.8,407.6 481.8,408.0 482.2,408.4 482.0,408.8 482.0,409.2 482.1,409.6 482.4,410.0 482.2,410.4 482.7,410.7 482.3,411.2 482.3,411.6 482.5,412.0 483.0,412.1 482.8,412.8 483.5,412.8 483.3,413.5 484.0,413.5 484.0,414.0 484.1,414.5 484.8,414.5 484.8,415.0 485.3,415.2 485.4,415.6 485.7,416.0 485.7,416.4 485.7,416.9 485.9,417.3 486.6,417.4 486.3,418.0 486.3,417.6 486.0,417.1 486.1,416.7 486.3,416.4 487.0,416.1 486.9,415.7 486.7,415.2 486.8,414.8 486.9,414.4 486.6,414.0 486.9,413.6 487.3,413.3 486.8,412.8 487.3,412.5 487.0,412.0 487.4,411.6 487.2,411.2 487.3,410.8 487.8,410.5 487.7,409.8 488.4,409.9 489.2,410.0 488.9,409.0 489.5,409.0 489.7,408.6 490.0,408.3 490.4,408.1 490.9,407.7 491.3,407.8 491.7,409.1 492.1,407.9 492.6,408.9 493.0,408.3 493.3,408.7 493.8,408.7 494.1,409.5 494.6,409.2 494.9,409.8 495.7,408.2 496.0,409.0 496.6,409.5 497.1,409.9 497.5,409.8 498.1,410.3 498.2,408.7 498.8,409.2 499.0,408.3 499.2,409.2 499.9,408.3 500.2,409.0 500.6,409.4 501.1,409.0 501.7,408.3 502.0,409.0 502.4,408.8 502.8,408.8 502.7,407.6 503.1,407.4 503.8,408.0 504.2,408.0 504.5,407.6 505.0,407.8 505.9,408.1 506.3,407.9 506.1,407.1 506.1,406.4 506.4,406.0 506.8,405.8 507.4,405.8 507.9,406.0 508.1,406.3 508.4,406.6 508.3,407.1 508.0,407.8 508.3,408.1 508.8,408.3 509.2,408.5 508.7,409.2 509.0,409.5 509.4,409.8 509.8,410.0 510.2,410.2 510.6,410.4 511.2,410.4 511.2,411.0 511.9,410.9 511.7,411.7 512.0,412.0 512.2,412.4 512.6,412.6 512.5,413.3 513.3,413.1 513.6,413.4 513.3,414.3 513.7,414.5 514.1,414.7 514.6,414.8 514.6,415.3 515.1,415.5 515.1,415.9 515.7,416.1 515.5,416.6 515.7,417.0 516.3,417.2 516.0,417.8 516.1,417.4 516.1,416.9 516.7,416.7 516.8,416.2 516.7,415.7 517.2,415.4 517.5,415.1 517.2,414.5 517.7,414.2 517.4,413.7 517.3,413.2 517.7,412.9 517.8,412.5 518.2,412.3 518.2,411.8 518.3,411.4 519.0,411.3 518.7,410.6 519.5,410.7 519.8,410.4 519.9,409.9 519.8,409.3 520.8,409.5 520.6,408.8 520.9,409.4 521.5,408.6 521.6,410.0 522.2,409.0 522.6,409.1 523.0,409.4 523.4,409.1 523.8,409.1 524.3,409.9 524.8,410.3 525.0,409.3 525.5,409.9 525.7,408.5 526.1,408.0 526.6,408.8 526.5,408.1 527.4,408.4 527.5,407.9 527.7,407.5 528.3,407.5 528.4,407.0 528.7,406.7 529.5,406.9 529.2,406.0 529.6,405.8 529.8,406.2 529.6,406.8 530.0,407.1 530.3,407.4 530.6,407.7 531.1,407.9 531.4,408.2 532.2,407.7 532.1,408.8 532.8,408.4 533.2,408.5 533.5,409.1 533.8,409.4 534.1,409.1 534.7,409.2 534.9,408.5 535.5,408.8 535.5,407.9 536.2,408.2 536.5,407.9 536.4,407.3 537.1,407.2 537.5,406.9 537.7,406.5 538.0,406.2 537.8,405.6 538.0,405.2 538.8,405.4 539.0,405.0 539.1,404.5 538.7,403.5 539.2,403.4 539.5,403.1 539.6,402.6 540.4,402.8 541.1,401.8 541.6,401.5 541.7,402.8 542.0,403.7 542.6,402.8 542.9,403.5 543.4,403.4 544.1,403.8 544.4,403.4 544.9,403.4 544.7,402.1 545.4,402.4 545.8,402.2 546.0,401.8 545.6,401.3 546.4,401.0 545.9,400.5 546.0,400.1 546.3,399.7 546.2,399.3 546.1,398.8 546.9,398.6 546.9,398.1 546.6,397.7 546.4,397.2 546.2,396.7 546.4,396.3 546.9,396.0 547.0,395.6 547.2,396.0 548.0,395.7 547.9,396.5 548.8,396.1 548.8,396.8 548.7,397.6 549.4,397.4 550.0,397.3 550.1,398.0 550.1,398.7 551.1,398.0 551.2,398.6 551.4,398.2 551.6,397.8 551.6,397.4 551.5,396.9 551.7,396.5 551.8,396.1 552.1,395.7 552.5,395.3 552.3,394.8 552.4,394.4 552.2,393.9 552.4,393.5 552.8,393.2 553.2,392.9 553.3,392.5 553.0,392.0 552.9,391.6 552.9,391.1 553.4,390.8 553.1,390.3 553.3,389.9 553.7,389.6 554.0,389.3 554.1,388.9 553.8,388.4 554.0,388.0 554.0,387.6 554.2,387.2 554.3,386.8 554.2,386.3 554.4,386.0 554.4,385.5 554.4,385.1 554.6,384.7 554.4,384.2 555.2,383.9 555.0,383.5 555.0,383.0 555.0,382.6 554.8,383.1 555.3,383.4 555.6,383.7 555.3,384.3 556.0,384.5 555.8,385.0 555.8,385.4 555.9,385.8 556.2,386.2 555.7,386.7 555.9,387.1 556.0,387.5 556.3,387.9 556.0,388.3 556.3,388.7 556.7,389.1 556.6,389.5 557.0,389.9 557.1,390.3 557.2,390.7 556.9,391.2 557.1,391.6 557.1,392.1 557.1,392.5 557.4,392.9 557.1,392.4 557.5,392.1 557.7,391.7 557.3,391.2 558.0,390.9 557.8,390.4 557.5,389.9 558.3,389.7 558.2,389.2 558.8,388.9 558.9,388.5 558.6,388.0 558.5,387.4 558.9,387.1 559.3,386.8 559.4,386.4 559.9,386.2 559.7,385.5 559.8,385.1 560.5,385.0 560.5,384.6 560.8,384.2 560.5,383.7 560.4,383.3 560.8,382.9 560.7,382.5 561.2,382.1 560.7,381.6 560.9,381.2 561.5,380.9 561.8,380.6 561.3,380.0 561.4,379.6 561.7,379.2 561.7,378.8 561.7,378.4 561.7,378.9 561.6,379.5 561.8,379.9 562.3,380.0 563.0,380.0 563.4,380.2 564.1,380.1 564.0,380.9 563.6,382.0 564.7,381.4 565.3,381.2 565.1,380.6 565.2,380.2 566.1,380.2 565.7,379.5 566.3,379.3 566.5,378.9 566.5,378.4 567.1,378.3 566.8,377.7 567.4,377.5 566.9,376.8 567.1,376.4 567.4,376.1 567.8,375.9 567.6,375.3 568.1,375.2 568.3,374.8 568.0,374.4 568.1,374.0 568.3,373.6 568.2,373.2 568.8,372.8 568.6,372.4 568.7,372.0 568.4,371.6 568.7,371.2 568.5,370.8 569.2,370.4 568.8,370.0 569.0,369.6 568.9,369.2 568.4,368.8 568.4,368.4 568.8,368.0 568.9,367.6 569.0,367.2 568.7,366.8 568.8,366.4 569.0,366.0 569.1,365.6 568.9,365.2 568.9,366.0 569.3,366.2 570.0,366.0 570.4,365.8 570.8,365.2 571.3,365.8 571.8,365.7 572.1,365.4 572.4,365.0 572.0,364.1 572.7,364.2 573.6,364.4 573.5,363.8 573.5,363.2 573.7,362.8 573.6,362.2 574.2,362.1 574.0,361.4 574.7,361.4 575.2,361.3 575.3,360.8 575.5,360.4 575.6,360.0 575.6,359.6 575.3,359.2 575.6,358.8 576.0,358.4 575.8,358.0 575.6,357.6 575.4,357.2 575.5,356.8 575.9,356.4 575.7,356.0 575.7,355.6 575.9,355.2 575.6,354.8 576.0,354.4 575.8,354.0 576.1,353.6 576.0,353.2 575.8,352.8 576.4,352.4 575.9,351.9 575.7,351.5 575.8,351.1 576.0,350.7 575.6,350.3 576.4,349.9 576.0,349.5 575.6,349.0 576.0,348.6 576.2,348.2 576.1,347.8" stroke="#008000"/>
</g>
<path d="M91.5 440.5v4.1M157.5 440.5v4.1M242.5 440.5v4.1M318.5 440.5v4.1M395.5 440.5v4.1M471.5 440.5v4.1M547.5 440.5v4.1M67.5 411.50h-4.1M67.5 352.50h-4.1M67.5 294.50h-4.1M67.5 236.50h-4.1M67.5 178.50h-4.1M67.5 120.50h-4.1M67.5 62.50h-4.1" stroke="#000" stroke-width="1" fill="none"/>
<rect x="67.5" y="40.5" width="533.0" height="400.0" fill="none" stroke="#161616" stroke-width="1"/>
<text class="tk" x="91.2" y="457.5" text-anchor="middle" textLength="28.4" lengthAdjust="spacingAndGlyphs">1974</text>
<text class="tk" x="157.2" y="457.5" text-anchor="middle" textLength="28.4" lengthAdjust="spacingAndGlyphs">1983</text>
<text class="tk" x="242.2" y="457.5" text-anchor="middle" textLength="28.4" lengthAdjust="spacingAndGlyphs">1991</text>
<text class="tk" x="318.2" y="457.5" text-anchor="middle" textLength="28.4" lengthAdjust="spacingAndGlyphs">1999</text>
<text class="tk" x="395.2" y="457.5" text-anchor="middle" textLength="28.4" lengthAdjust="spacingAndGlyphs">2007</text>
<text class="tk" x="471.2" y="457.5" text-anchor="middle" textLength="28.4" lengthAdjust="spacingAndGlyphs">2015</text>
<text class="tk" x="547.2" y="457.5" text-anchor="middle" textLength="28.4" lengthAdjust="spacingAndGlyphs">2023</text>
<text class="tk" x="58.0" y="415.80" text-anchor="end" textLength="7.0" lengthAdjust="spacingAndGlyphs">0</text>
<text class="tk" x="58.0" y="356.80" text-anchor="end" textLength="7.0" lengthAdjust="spacingAndGlyphs">2</text>
<text class="tk" x="58.0" y="298.80" text-anchor="end" textLength="7.0" lengthAdjust="spacingAndGlyphs">4</text>
<text class="tk" x="58.0" y="240.80" text-anchor="end" textLength="7.0" lengthAdjust="spacingAndGlyphs">6</text>
<text class="tk" x="58.0" y="182.80" text-anchor="end" textLength="7.0" lengthAdjust="spacingAndGlyphs">8</text>
<text class="tk" x="58.0" y="124.80" text-anchor="end" textLength="13.9" lengthAdjust="spacingAndGlyphs">10</text>
<text class="tk" x="58.0" y="66.80" text-anchor="end" textLength="13.9" lengthAdjust="spacingAndGlyphs">12</text>
<text y="33.1" font-size="15" xml:space="preserve"><tspan x="213.6" textLength="137.6" lengthAdjust="spacingAndGlyphs">JGB 1-10 Year Yields</tspan><tspan x="350.5" textLength="10" lengthAdjust="spacingAndGlyphs">  </tspan><tspan x="359.8" textLength="92.4" lengthAdjust="spacingAndGlyphs">[2026-01-15]</tspan></text>
<rect x="73.7" y="47.7" width="144.4" height="67" rx="2.3" fill="#000" fill-opacity="0.5"/>
<rect x="71.6" y="45.6" width="144.4" height="67" rx="2.3" fill="#ffffff" stroke="#cccccc" stroke-width="0.95"/>
<path d="M75.8 54.5H97.8" stroke="#000000" stroke-width="1.15" fill="none"/>
<text class="lg" y="58.1" xml:space="preserve"><tspan x="105.7" textLength="20.6" lengthAdjust="spacingAndGlyphs">JGB </tspan><tspan x="126.3" textLength="16.9" lengthAdjust="spacingAndGlyphs">1Y </tspan><tspan x="143.2" textLength="32.0" lengthAdjust="spacingAndGlyphs">[0.92 </tspan><tspan x="175.2" textLength="34.5" lengthAdjust="spacingAndGlyphs">+0.01]</tspan></text>
<path d="M75.8 70.5H97.8" stroke="#ff0000" stroke-width="1.15" fill="none"/>
<text class="lg" y="74.1" xml:space="preserve"><tspan x="105.7" textLength="20.6" lengthAdjust="spacingAndGlyphs">JGB </tspan><tspan x="126.3" textLength="16.9" lengthAdjust="spacingAndGlyphs">2Y </tspan><tspan x="143.2" textLength="32.0" lengthAdjust="spacingAndGlyphs">[1.19 </tspan><tspan x="175.2" textLength="34.5" lengthAdjust="spacingAndGlyphs">+0.00]</tspan></text>
<path d="M75.8 86.5H97.8" stroke="#0000ff" stroke-width="1.15" fill="none"/>
<text class="lg" y="90.1" xml:space="preserve"><tspan x="105.7" textLength="20.6" lengthAdjust="spacingAndGlyphs">JGB </tspan><tspan x="126.3" textLength="16.9" lengthAdjust="spacingAndGlyphs">5Y </tspan><tspan x="143.2" textLength="30.3" lengthAdjust="spacingAndGlyphs">[1.64 </tspan><tspan x="173.5" textLength="31.0" lengthAdjust="spacingAndGlyphs">-0.01]</tspan></text>
<path d="M75.8 102.5H97.8" stroke="#008000" stroke-width="1.15" fill="none"/>
<text class="lg" y="106.1" xml:space="preserve"><tspan x="105.7" textLength="20.6" lengthAdjust="spacingAndGlyphs">JGB </tspan><tspan x="126.3" textLength="23.6" lengthAdjust="spacingAndGlyphs">10Y </tspan><tspan x="149.9" textLength="30.2" lengthAdjust="spacingAndGlyphs">[2.16 </tspan><tspan x="180.1" textLength="30.6" lengthAdjust="spacingAndGlyphs">-0.02]</tspan></text>
<text class="ft" x="13.6" y="492.5" textLength="120.8" lengthAdjust="spacingAndGlyphs">Last update Jan 16, 2026</text>
<text class="ft" x="624.6" y="492.5" text-anchor="end" textLength="124" lengthAdjust="spacingAndGlyphs">http://peakprosperity.com</text>
</svg></body></html>
